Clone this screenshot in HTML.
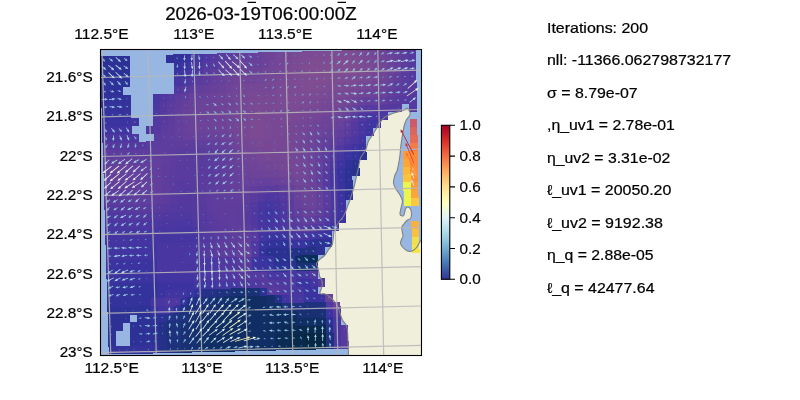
<!DOCTYPE html><html><head><meta charset="utf-8"><title>fig</title><style>html,body{margin:0;padding:0;background:#fff}body{width:800px;height:400px;overflow:hidden}</style></head><body><svg width="800" height="400" viewBox="0 0 800 400" style="display:block;font-family:'Liberation Sans',sans-serif"><rect width="800" height="400" fill="#fff"/><defs><clipPath id="ax"><rect x="100.5" y="49.5" width="321.0" height="306.0"/></clipPath><linearGradient id="cb" x1="0" y1="0" x2="0" y2="1"><stop offset="0.00" stop-color="#a50026"/><stop offset="0.05" stop-color="#bd1726"/><stop offset="0.10" stop-color="#d62f27"/><stop offset="0.15" stop-color="#e54e35"/><stop offset="0.20" stop-color="#f46d43"/><stop offset="0.25" stop-color="#f88c51"/><stop offset="0.30" stop-color="#fdad60"/><stop offset="0.35" stop-color="#fdc778"/><stop offset="0.40" stop-color="#fee090"/><stop offset="0.45" stop-color="#fff0a8"/><stop offset="0.50" stop-color="#fffebe"/><stop offset="0.55" stop-color="#f0f9db"/><stop offset="0.60" stop-color="#e0f3f8"/><stop offset="0.65" stop-color="#c5e6f0"/><stop offset="0.70" stop-color="#aad8e9"/><stop offset="0.75" stop-color="#90c3dd"/><stop offset="0.80" stop-color="#74add1"/><stop offset="0.85" stop-color="#5c90c2"/><stop offset="0.90" stop-color="#4574b3"/><stop offset="0.95" stop-color="#3a54a4"/><stop offset="1.00" stop-color="#313695"/></linearGradient><filter id="gs" filterUnits="userSpaceOnUse" x="0" y="0" width="800" height="400"><feOffset dx="0" dy="0"/></filter></defs><g clip-path="url(#ax)"><rect x="100.5" y="49.5" width="321.0" height="306.0" fill="#97b6e1"/><path d="M348.6,357.0C348.5,354.5 348.2,346.3 348.0,342.0C347.8,337.7 347.8,333.9 347.5,331.0C347.2,328.1 346.8,326.5 346.0,324.7C345.2,322.9 343.6,322.0 342.7,320.4C341.8,318.8 341.1,316.7 340.5,315.0C339.9,313.3 339.6,311.7 339.0,310.0C338.4,308.3 337.8,306.5 337.0,305.0C336.2,303.5 335.2,302.3 334.0,301.0C332.8,299.7 331.5,298.2 330.0,297.0C328.5,295.8 326.7,294.6 325.0,294.0C323.3,293.4 320.6,294.5 320.0,293.5C319.4,292.5 321.1,289.8 321.5,288.0C321.9,286.2 322.6,284.5 322.5,283.0C322.4,281.5 321.5,280.2 321.0,279.0C320.5,277.8 319.8,277.0 319.5,276.0C319.2,275.0 319.2,274.3 319.0,273.0C318.8,271.7 318.4,269.5 318.0,268.0C317.6,266.5 316.3,265.3 316.5,264.0C316.7,262.7 317.6,261.5 319.0,260.0C320.4,258.5 323.3,256.8 325.0,255.0C326.7,253.2 327.8,250.7 329.0,249.0C330.2,247.3 331.3,246.5 332.0,245.0C332.7,243.5 332.7,242.2 333.0,240.0C333.3,237.8 333.5,234.2 334.0,232.0C334.5,229.8 335.2,228.7 336.0,227.0C336.8,225.3 337.8,223.7 339.0,222.0C340.2,220.3 341.9,218.7 343.0,217.0C344.1,215.3 344.7,214.0 345.5,212.0C346.3,210.0 347.2,207.0 348.0,205.0C348.8,203.0 349.0,203.0 350.0,200.0C351.0,197.0 352.9,190.8 354.0,187.0C355.1,183.2 355.7,179.7 356.3,177.0C356.9,174.3 357.4,173.1 357.9,170.7C358.4,168.2 358.9,164.6 359.4,162.3C359.9,160.0 359.9,159.1 361.0,157.0C362.1,154.9 364.5,152.3 365.7,149.7C366.9,147.1 367.3,143.8 368.4,141.3C369.5,138.9 371.3,136.9 372.5,135.0C373.7,133.1 374.4,131.8 375.7,129.7C376.9,127.6 378.4,124.4 380.0,122.3C381.6,120.2 383.1,118.5 385.2,117.0C387.3,115.5 389.7,114.4 392.5,113.4C395.3,112.4 399.6,111.6 402.0,110.8C404.4,110.0 406.1,108.7 407.2,108.4C408.2,108.1 407.8,108.5 408.3,109.2C408.8,110.0 410.0,111.8 410.2,112.9C410.4,114.0 410.0,114.8 409.3,116.0C408.6,117.2 407.1,118.5 406.2,120.2C405.3,122.0 404.6,124.0 404.0,126.5C403.4,129.0 403.0,131.8 402.5,135.0C402.0,138.2 401.3,142.0 400.9,145.5C400.5,149.0 400.3,152.7 399.9,156.0C399.5,159.3 398.8,162.9 398.3,165.5C397.8,168.1 397.2,170.2 396.7,171.8C396.1,173.4 395.5,173.1 395.0,175.0C394.5,176.9 393.3,180.7 393.5,183.0C393.7,185.3 394.9,187.0 396.0,189.0C397.1,191.0 398.9,193.0 400.0,195.0C401.1,197.0 402.3,198.8 402.5,201.0C402.7,203.2 401.4,205.9 401.0,208.0C400.6,210.1 400.0,212.2 400.0,213.5C400.0,214.8 400.2,215.2 400.8,215.6C401.4,215.9 403.0,216.0 403.6,215.6C404.2,215.2 404.2,214.1 404.5,213.0C404.8,211.9 405.0,210.0 405.5,209.0C406.0,208.0 406.7,207.0 407.5,207.0C408.3,207.0 409.8,207.7 410.5,209.0C411.2,210.3 411.5,213.4 411.5,215.0C411.5,216.6 411.2,217.6 410.5,218.5C409.8,219.4 408.2,219.5 407.0,220.5C405.8,221.5 404.4,223.3 403.5,224.5C402.6,225.7 402.0,226.1 401.8,227.5C401.6,228.9 402.3,231.6 402.5,233.0C402.7,234.4 403.3,234.4 403.0,236.0C402.7,237.6 400.6,240.7 400.5,242.5C400.4,244.3 401.3,245.6 402.5,247.0C403.7,248.4 405.8,250.4 407.5,251.0C409.2,251.6 410.9,251.5 412.5,250.8C414.1,250.1 415.8,248.6 417.0,247.0C418.2,245.4 419.0,242.9 420.0,241.5C421.0,240.1 422.5,239.0 423.0,238.5L423,357L348.6,357Z" fill="#efefdb"/><g shape-rendering="crispEdges"><path d="M100.0,56.3L129.7,55.6L129.9,63.7L100.2,64.4Z" fill="#2d3196"/><path d="M166.1,54.7L173.7,54.5L173.9,62.7L166.3,62.9Z" fill="#2f3198"/><path d="M173.4,54.5L181.0,54.4L181.2,62.5L173.6,62.7Z" fill="#323299"/><path d="M180.7,54.4L188.4,54.2L188.6,62.3L180.9,62.5Z" fill="#36329c"/><path d="M188.1,54.2L195.7,54.0L195.9,62.2L188.3,62.3Z" fill="#3d33a0"/><path d="M195.4,54.0L203.1,53.8L203.3,62.0L195.6,62.2Z" fill="#4736a1"/><path d="M202.8,53.8L210.4,53.7L210.6,61.8L203.0,62.0Z" fill="#4e37a0"/><path d="M210.1,53.7L217.7,53.5L217.9,61.6L210.3,61.8Z" fill="#54399f"/><path d="M217.4,53.5L225.1,53.3L225.3,61.5L217.6,61.6Z" fill="#593b9e"/><path d="M224.8,53.3L232.4,53.1L232.6,61.3L225.0,61.5Z" fill="#5d3c9e"/><path d="M232.1,53.1L239.8,53.0L240.0,61.1L232.3,61.3Z" fill="#613e9d"/><path d="M239.5,53.0L247.1,52.8L247.3,60.9L239.7,61.1Z" fill="#643f9c"/><path d="M246.8,52.8L254.4,52.6L254.6,60.8L247.0,60.9Z" fill="#65409c"/><path d="M254.1,52.6L261.8,52.4L262.0,60.6L254.3,60.8Z" fill="#67419b"/><path d="M261.5,52.4L269.1,52.3L269.3,60.4L261.7,60.6Z" fill="#6b4399"/><path d="M268.8,52.3L276.5,52.1L276.6,60.2L269.0,60.4Z" fill="#6f4498"/><path d="M276.2,52.1L283.8,51.9L284.0,60.1L276.3,60.2Z" fill="#734696"/><path d="M283.5,51.9L291.1,51.8L291.3,59.9L283.7,60.1Z" fill="#774795"/><path d="M290.8,51.8L298.5,51.6L298.7,59.7L291.0,59.9Z" fill="#794994"/><path d="M298.2,51.6L305.8,51.4L306.0,59.5L298.4,59.7Z" fill="#7c4a93"/><path d="M305.5,51.4L327.8,50.9L328.0,59.0L305.7,59.5Z" fill="#7d4b93"/><path d="M327.5,50.9L349.9,50.3L350.0,58.5L327.7,59.0Z" fill="#7e4c93"/><path d="M349.6,50.3L357.2,50.2L357.4,58.3L349.7,58.5Z" fill="#7d4b93"/><path d="M356.9,50.2L364.5,50.0L364.7,58.1L357.1,58.3Z" fill="#7a4a94"/><path d="M364.2,50.0L371.9,49.8L372.0,58.0L364.4,58.1Z" fill="#774895"/><path d="M371.6,49.8L379.2,49.6L379.4,57.8L371.7,58.0Z" fill="#734696"/><path d="M378.9,49.6L386.6,49.5L386.7,57.6L379.1,57.8Z" fill="#6f4498"/><path d="M386.3,49.5L393.9,49.3L394.0,57.4L386.4,57.6Z" fill="#6b4299"/><path d="M393.6,49.3L401.2,49.1L401.4,57.3L393.7,57.4Z" fill="#65409b"/><path d="M400.9,49.1L408.6,48.9L408.7,57.1L401.1,57.3Z" fill="#5e3d9e"/><path d="M408.3,48.9L415.9,48.8L416.1,56.9L408.4,57.1Z" fill="#563a9f"/><path d="M100.2,64.1L129.9,63.4L130.1,71.6L100.5,72.3Z" fill="#2d3196"/><path d="M173.6,62.4L181.2,62.2L181.5,70.4L173.8,70.5Z" fill="#36329d"/><path d="M180.9,62.2L188.6,62.0L188.8,70.2L181.2,70.4Z" fill="#3b33a0"/><path d="M188.3,62.0L195.9,61.9L196.1,70.0L188.5,70.2Z" fill="#4235a1"/><path d="M195.6,61.9L203.3,61.7L203.5,69.8L195.8,70.0Z" fill="#4c37a0"/><path d="M203.0,61.7L210.6,61.5L210.8,69.7L203.2,69.8Z" fill="#53399f"/><path d="M210.3,61.5L217.9,61.3L218.1,69.5L210.5,69.7Z" fill="#593b9e"/><path d="M217.6,61.3L225.3,61.2L225.5,69.3L217.8,69.5Z" fill="#5e3d9e"/><path d="M225.0,61.2L232.6,61.0L232.8,69.1L225.2,69.3Z" fill="#623e9d"/><path d="M232.3,61.0L240.0,60.8L240.1,69.0L232.5,69.1Z" fill="#66409b"/><path d="M239.7,60.8L254.6,60.5L254.8,68.6L239.8,69.0Z" fill="#68419b"/><path d="M254.3,60.5L262.0,60.3L262.1,68.4L254.5,68.6Z" fill="#69429a"/><path d="M261.7,60.3L269.3,60.1L269.5,68.3L261.8,68.4Z" fill="#6d4399"/><path d="M269.0,60.1L276.6,59.9L276.8,68.1L269.2,68.3Z" fill="#714597"/><path d="M276.3,59.9L284.0,59.8L284.2,67.9L276.5,68.1Z" fill="#754696"/><path d="M283.7,59.8L291.3,59.6L291.5,67.7L283.9,67.9Z" fill="#784894"/><path d="M291.0,59.6L298.7,59.4L298.8,67.6L291.2,67.7Z" fill="#7b4a94"/><path d="M298.4,59.4L306.0,59.2L306.2,67.4L298.5,67.6Z" fill="#7d4b93"/><path d="M305.7,59.2L313.3,59.1L313.5,67.2L305.9,67.4Z" fill="#7e4c93"/><path d="M313.0,59.1L335.3,58.5L335.5,66.7L313.2,67.2Z" fill="#7f4c92"/><path d="M335.0,58.5L350.0,58.2L350.2,66.3L335.2,66.7Z" fill="#804d92"/><path d="M349.7,58.2L357.4,58.0L357.5,66.2L349.9,66.3Z" fill="#7f4d92"/><path d="M357.1,58.0L364.7,57.8L364.8,66.0L357.2,66.2Z" fill="#7d4b93"/><path d="M364.4,57.8L372.0,57.7L372.2,65.8L364.5,66.0Z" fill="#7a4994"/><path d="M371.7,57.7L379.4,57.5L379.5,65.6L371.9,65.8Z" fill="#754795"/><path d="M379.1,57.5L386.7,57.3L386.9,65.5L379.2,65.6Z" fill="#704597"/><path d="M386.4,57.3L394.0,57.1L394.2,65.3L386.6,65.5Z" fill="#6b4399"/><path d="M393.7,57.1L401.4,57.0L401.5,65.1L393.9,65.3Z" fill="#65409b"/><path d="M401.1,57.0L408.7,56.8L408.9,64.9L401.2,65.1Z" fill="#5e3d9e"/><path d="M408.4,56.8L416.1,56.6L416.2,64.8L408.6,64.9Z" fill="#563a9f"/><path d="M100.5,72.0L108.1,71.8L108.3,79.9L100.7,80.1Z" fill="#2e3196"/><path d="M107.8,71.8L130.1,71.3L130.3,79.4L108.0,79.9Z" fill="#2d3196"/><path d="M173.8,70.2L181.5,70.1L181.7,78.2L174.0,78.4Z" fill="#3e34a0"/><path d="M181.2,70.1L188.8,69.9L189.0,78.0L181.4,78.2Z" fill="#4235a1"/><path d="M188.5,69.9L196.1,69.7L196.3,77.8L188.7,78.0Z" fill="#4936a1"/><path d="M195.8,69.7L203.5,69.5L203.7,77.7L196.0,77.8Z" fill="#53389f"/><path d="M203.2,69.5L210.8,69.4L211.0,77.5L203.4,77.7Z" fill="#5a3b9e"/><path d="M210.5,69.4L218.1,69.2L218.3,77.3L210.7,77.5Z" fill="#5f3d9d"/><path d="M217.8,69.2L225.5,69.0L225.7,77.1L218.0,77.3Z" fill="#633f9c"/><path d="M225.2,69.0L232.8,68.8L233.0,77.0L225.4,77.1Z" fill="#67419b"/><path d="M232.5,68.8L240.1,68.7L240.3,76.8L232.7,77.0Z" fill="#6b429a"/><path d="M239.8,68.7L247.5,68.5L247.7,76.6L240.0,76.8Z" fill="#6c4399"/><path d="M247.2,68.5L254.8,68.3L255.0,76.4L247.4,76.6Z" fill="#6b4399"/><path d="M254.5,68.3L262.1,68.1L262.3,76.3L254.7,76.4Z" fill="#6c4399"/><path d="M261.8,68.1L269.5,68.0L269.7,76.1L262.0,76.3Z" fill="#704498"/><path d="M269.2,68.0L276.8,67.8L277.0,75.9L269.4,76.1Z" fill="#734696"/><path d="M276.5,67.8L284.2,67.6L284.3,75.7L276.7,75.9Z" fill="#764795"/><path d="M283.9,67.6L291.5,67.4L291.7,75.6L284.0,75.7Z" fill="#794994"/><path d="M291.2,67.4L298.8,67.3L299.0,75.4L291.4,75.6Z" fill="#7c4a93"/><path d="M298.5,67.3L306.2,67.1L306.3,75.2L298.7,75.4Z" fill="#7e4c93"/><path d="M305.9,67.1L357.5,65.9L357.7,74.0L306.0,75.2Z" fill="#804d92"/><path d="M357.2,65.9L364.8,65.7L365.0,73.8L357.4,74.0Z" fill="#7e4c93"/><path d="M364.5,65.7L372.2,65.5L372.3,73.6L364.7,73.8Z" fill="#7b4a94"/><path d="M371.9,65.5L379.5,65.3L379.7,73.5L372.0,73.6Z" fill="#764795"/><path d="M379.2,65.3L386.9,65.2L387.0,73.3L379.4,73.5Z" fill="#714597"/><path d="M386.6,65.2L394.2,65.0L394.3,73.1L386.7,73.3Z" fill="#6b4399"/><path d="M393.9,65.0L401.5,64.8L401.7,72.9L394.0,73.1Z" fill="#65409c"/><path d="M401.2,64.8L408.9,64.6L409.0,72.8L401.4,72.9Z" fill="#5d3c9e"/><path d="M408.6,64.6L416.2,64.5L416.3,72.6L408.7,72.8Z" fill="#56399f"/><path d="M100.7,79.8L115.7,79.5L115.9,87.6L100.9,88.0Z" fill="#2e3197"/><path d="M115.4,79.5L130.3,79.1L130.5,87.3L115.6,87.6Z" fill="#2e3196"/><path d="M174.0,78.1L181.7,77.9L181.9,86.0L174.2,86.2Z" fill="#4736a1"/><path d="M181.4,77.9L189.0,77.7L189.2,85.9L181.6,86.0Z" fill="#4c37a0"/><path d="M188.7,77.7L196.3,77.5L196.5,85.7L188.9,85.9Z" fill="#53389f"/><path d="M196.0,77.5L203.7,77.4L203.9,85.5L196.2,85.7Z" fill="#5a3b9e"/><path d="M203.4,77.4L211.0,77.2L211.2,85.3L203.6,85.5Z" fill="#603d9d"/><path d="M210.7,77.2L218.3,77.0L218.5,85.2L210.9,85.3Z" fill="#643f9c"/><path d="M218.0,77.0L225.7,76.8L225.9,85.0L218.2,85.2Z" fill="#67419b"/><path d="M225.4,76.8L233.0,76.7L233.2,84.8L225.6,85.0Z" fill="#6b4399"/><path d="M232.7,76.7L240.3,76.5L240.5,84.6L232.9,84.8Z" fill="#6f4498"/><path d="M240.0,76.5L255.0,76.1L255.2,84.3L240.2,84.6Z" fill="#704597"/><path d="M254.7,76.1L262.3,76.0L262.5,84.1L254.9,84.3Z" fill="#714597"/><path d="M262.0,76.0L269.7,75.8L269.8,83.9L262.2,84.1Z" fill="#734696"/><path d="M269.4,75.8L277.0,75.6L277.2,83.8L269.5,83.9Z" fill="#754795"/><path d="M276.7,75.6L284.3,75.4L284.5,83.6L276.9,83.8Z" fill="#784894"/><path d="M284.0,75.4L291.7,75.3L291.8,83.4L284.2,83.6Z" fill="#7b4a94"/><path d="M291.4,75.3L299.0,75.1L299.2,83.2L291.5,83.4Z" fill="#7d4b93"/><path d="M298.7,75.1L306.3,74.9L306.5,83.1L298.9,83.2Z" fill="#7e4c93"/><path d="M306.0,74.9L313.7,74.7L313.8,82.9L306.2,83.1Z" fill="#804d92"/><path d="M313.4,74.7L321.0,74.6L321.2,82.7L313.5,82.9Z" fill="#814d92"/><path d="M320.7,74.6L328.3,74.4L328.5,82.5L320.9,82.7Z" fill="#804d92"/><path d="M328.0,74.4L343.0,74.0L343.2,82.2L328.2,82.5Z" fill="#7f4c92"/><path d="M342.7,74.0L350.3,73.9L350.5,82.0L342.9,82.2Z" fill="#7e4c93"/><path d="M350.0,73.9L357.7,73.7L357.8,81.8L350.2,82.0Z" fill="#7d4b93"/><path d="M357.4,73.7L365.0,73.5L365.2,81.7L357.5,81.8Z" fill="#7c4a93"/><path d="M364.7,73.5L372.3,73.3L372.5,81.5L364.9,81.7Z" fill="#794994"/><path d="M372.0,73.3L379.7,73.2L379.8,81.3L372.2,81.5Z" fill="#754795"/><path d="M379.4,73.2L387.0,73.0L387.2,81.1L379.5,81.3Z" fill="#704597"/><path d="M386.7,73.0L394.3,72.8L394.5,81.0L386.9,81.1Z" fill="#6a429a"/><path d="M394.0,72.8L401.7,72.6L401.8,80.8L394.2,81.0Z" fill="#633f9c"/><path d="M401.4,72.6L409.0,72.5L409.1,80.6L401.5,80.8Z" fill="#5b3c9e"/><path d="M408.7,72.5L416.3,72.3L416.5,80.4L408.8,80.6Z" fill="#55399f"/><path d="M100.9,87.7L108.6,87.5L108.8,95.6L101.2,95.8Z" fill="#313199"/><path d="M108.3,87.5L115.9,87.3L116.1,95.5L108.5,95.6Z" fill="#303198"/><path d="M115.6,87.3L123.2,87.1L123.4,95.3L115.8,95.5Z" fill="#2f3198"/><path d="M174.2,85.9L181.9,85.7L182.1,93.9L174.4,94.0Z" fill="#53399f"/><path d="M181.6,85.7L189.2,85.6L189.4,93.7L181.8,93.9Z" fill="#583a9e"/><path d="M188.9,85.6L196.5,85.4L196.7,93.5L189.1,93.7Z" fill="#5d3c9e"/><path d="M196.2,85.4L203.9,85.2L204.1,93.3L196.4,93.5Z" fill="#623e9d"/><path d="M203.6,85.2L211.2,85.0L211.4,93.2L203.8,93.3Z" fill="#65409b"/><path d="M210.9,85.0L218.5,84.9L218.7,93.0L211.1,93.2Z" fill="#68419a"/><path d="M218.2,84.9L225.9,84.7L226.1,92.8L218.4,93.0Z" fill="#6b4299"/><path d="M225.6,84.7L233.2,84.5L233.4,92.6L225.8,92.8Z" fill="#6e4498"/><path d="M232.9,84.5L240.5,84.3L240.7,92.5L233.1,92.6Z" fill="#714597"/><path d="M240.2,84.3L247.9,84.2L248.0,92.3L240.4,92.5Z" fill="#744696"/><path d="M247.6,84.2L255.2,84.0L255.4,92.1L247.7,92.3Z" fill="#754795"/><path d="M254.9,84.0L269.8,83.6L270.0,91.8L255.1,92.1Z" fill="#764795"/><path d="M269.5,83.6L277.2,83.5L277.4,91.6L269.7,91.8Z" fill="#774895"/><path d="M276.9,83.5L284.5,83.3L284.7,91.4L277.1,91.6Z" fill="#794994"/><path d="M284.2,83.3L291.8,83.1L292.0,91.2L284.4,91.4Z" fill="#7c4a93"/><path d="M291.5,83.1L299.2,82.9L299.3,91.1L291.7,91.2Z" fill="#7d4b93"/><path d="M298.9,82.9L306.5,82.8L306.7,90.9L299.0,91.1Z" fill="#7e4c93"/><path d="M306.2,82.8L321.2,82.4L321.3,90.5L306.4,90.9Z" fill="#7f4c92"/><path d="M320.9,82.4L328.5,82.2L328.7,90.4L321.0,90.5Z" fill="#7e4c93"/><path d="M328.2,82.2L343.2,81.9L343.3,90.0L328.4,90.4Z" fill="#7d4b93"/><path d="M342.9,81.9L350.5,81.7L350.7,89.8L343.0,90.0Z" fill="#7c4a93"/><path d="M350.2,81.7L357.8,81.5L358.0,89.7L350.4,89.8Z" fill="#7a4994"/><path d="M357.5,81.5L365.2,81.4L365.3,89.5L357.7,89.7Z" fill="#774895"/><path d="M364.9,81.4L372.5,81.2L372.6,89.3L365.0,89.5Z" fill="#754795"/><path d="M372.2,81.2L379.8,81.0L380.0,89.1L372.3,89.3Z" fill="#724597"/><path d="M379.5,81.0L387.2,80.8L387.3,89.0L379.7,89.1Z" fill="#6d4399"/><path d="M386.9,80.8L394.5,80.7L394.6,88.8L387.0,89.0Z" fill="#67419b"/><path d="M394.2,80.7L401.8,80.5L402.0,88.6L394.3,88.8Z" fill="#603e9d"/><path d="M401.5,80.5L409.1,80.3L409.3,88.5L401.7,88.6Z" fill="#5a3b9e"/><path d="M408.8,80.3L416.5,80.1L416.6,88.3L409.0,88.5Z" fill="#55399f"/><path d="M101.2,95.5L108.8,95.3L109.0,103.5L101.4,103.6Z" fill="#33329b"/><path d="M108.5,95.3L130.8,94.8L131.0,102.9L108.7,103.5Z" fill="#32329a"/><path d="M152.5,94.3L160.1,94.1L160.3,102.2L152.7,102.4Z" fill="#4836a1"/><path d="M159.8,94.1L167.4,93.9L167.6,102.1L160.0,102.2Z" fill="#5138a0"/><path d="M167.1,93.9L174.7,93.8L175.0,101.9L167.3,102.1Z" fill="#573a9f"/><path d="M174.4,93.8L182.1,93.6L182.3,101.7L174.7,101.9Z" fill="#5d3c9e"/><path d="M181.8,93.6L189.4,93.4L189.6,101.5L182.0,101.7Z" fill="#613e9d"/><path d="M189.1,93.4L196.7,93.2L196.9,101.4L189.3,101.5Z" fill="#65409c"/><path d="M196.4,93.2L204.1,93.0L204.3,101.2L196.6,101.4Z" fill="#68419b"/><path d="M203.8,93.0L211.4,92.9L211.6,101.0L204.0,101.2Z" fill="#6a429a"/><path d="M211.1,92.9L218.7,92.7L218.9,100.8L211.3,101.0Z" fill="#6c4399"/><path d="M218.4,92.7L226.1,92.5L226.2,100.7L218.6,100.8Z" fill="#6e4498"/><path d="M225.8,92.5L233.4,92.3L233.6,100.5L225.9,100.7Z" fill="#704498"/><path d="M233.1,92.3L240.7,92.2L240.9,100.3L233.3,100.5Z" fill="#734696"/><path d="M240.4,92.2L248.0,92.0L248.2,100.1L240.6,100.3Z" fill="#764795"/><path d="M247.7,92.0L255.4,91.8L255.6,100.0L247.9,100.1Z" fill="#784894"/><path d="M255.1,91.8L262.7,91.7L262.9,99.8L255.3,100.0Z" fill="#794994"/><path d="M262.4,91.7L277.4,91.3L277.5,99.4L262.6,99.8Z" fill="#784894"/><path d="M277.1,91.3L284.7,91.1L284.9,99.3L277.2,99.4Z" fill="#7b4a94"/><path d="M284.4,91.1L292.0,91.0L292.2,99.1L284.6,99.3Z" fill="#7c4b93"/><path d="M291.7,91.0L314.0,90.4L314.2,98.6L291.9,99.1Z" fill="#7d4b93"/><path d="M313.7,90.4L321.3,90.2L321.5,98.4L313.9,98.6Z" fill="#7c4b93"/><path d="M321.0,90.2L328.7,90.1L328.8,98.2L321.2,98.4Z" fill="#7b4a94"/><path d="M328.4,90.1L336.0,89.9L336.2,98.0L328.5,98.2Z" fill="#7a4994"/><path d="M335.7,89.9L343.3,89.7L343.5,97.9L335.9,98.0Z" fill="#7a4a94"/><path d="M343.0,89.7L350.7,89.5L350.8,97.7L343.2,97.9Z" fill="#794994"/><path d="M350.4,89.5L358.0,89.4L358.1,97.5L350.5,97.7Z" fill="#754795"/><path d="M357.7,89.4L365.3,89.2L365.5,97.3L357.8,97.5Z" fill="#724597"/><path d="M365.0,89.2L372.6,89.0L372.8,97.2L365.2,97.3Z" fill="#6f4498"/><path d="M372.3,89.0L380.0,88.8L380.1,97.0L372.5,97.2Z" fill="#6d4399"/><path d="M379.7,88.8L387.3,88.7L387.4,96.8L379.8,97.0Z" fill="#69429a"/><path d="M387.0,88.7L394.6,88.5L394.8,96.6L387.1,96.8Z" fill="#633f9c"/><path d="M394.3,88.5L402.0,88.3L402.1,96.5L394.5,96.6Z" fill="#5d3c9e"/><path d="M401.7,88.3L409.3,88.2L409.4,96.3L401.8,96.5Z" fill="#593b9e"/><path d="M409.0,88.2L416.6,88.0L416.8,96.1L409.1,96.3Z" fill="#55399f"/><path d="M101.4,103.3L116.3,103.0L116.6,111.1L101.6,111.5Z" fill="#34329b"/><path d="M116.0,103.0L123.7,102.8L123.9,111.0L116.3,111.1Z" fill="#35329c"/><path d="M123.4,102.8L131.0,102.6L131.2,110.8L123.6,111.0Z" fill="#36329c"/><path d="M152.7,102.1L160.3,101.9L160.5,110.1L152.9,110.3Z" fill="#4c37a0"/><path d="M160.0,101.9L167.6,101.8L167.8,109.9L160.2,110.1Z" fill="#55399f"/><path d="M167.3,101.8L175.0,101.6L175.2,109.7L167.5,109.9Z" fill="#5b3b9e"/><path d="M174.7,101.6L182.3,101.4L182.5,109.6L174.9,109.7Z" fill="#613e9d"/><path d="M182.0,101.4L189.6,101.2L189.8,109.4L182.2,109.6Z" fill="#65409b"/><path d="M189.3,101.2L196.9,101.1L197.1,109.2L189.5,109.4Z" fill="#69419a"/><path d="M196.6,101.1L204.3,100.9L204.5,109.0L196.8,109.2Z" fill="#6b4399"/><path d="M204.0,100.9L211.6,100.7L211.8,108.9L204.2,109.0Z" fill="#6d4399"/><path d="M211.3,100.7L218.9,100.5L219.1,108.7L211.5,108.9Z" fill="#6e4498"/><path d="M218.6,100.5L226.2,100.4L226.4,108.5L218.8,108.7Z" fill="#6f4498"/><path d="M225.9,100.4L233.6,100.2L233.8,108.3L226.1,108.5Z" fill="#704597"/><path d="M233.3,100.2L240.9,100.0L241.1,108.2L233.5,108.3Z" fill="#734696"/><path d="M240.6,100.0L248.2,99.8L248.4,108.0L240.8,108.2Z" fill="#764795"/><path d="M247.9,99.8L255.6,99.7L255.7,107.8L248.1,108.0Z" fill="#794994"/><path d="M255.3,99.7L262.9,99.5L263.1,107.6L255.4,107.8Z" fill="#7a4994"/><path d="M262.6,99.5L277.5,99.1L277.7,107.3L262.8,107.6Z" fill="#794994"/><path d="M277.2,99.1L284.9,99.0L285.0,107.1L277.4,107.3Z" fill="#7b4a94"/><path d="M284.6,99.0L299.5,98.6L299.7,106.8L284.7,107.1Z" fill="#7c4b93"/><path d="M299.2,98.6L306.8,98.4L307.0,106.6L299.4,106.8Z" fill="#7c4a93"/><path d="M306.5,98.4L314.2,98.3L314.3,106.4L306.7,106.6Z" fill="#7b4a94"/><path d="M313.9,98.3L321.5,98.1L321.7,106.2L314.0,106.4Z" fill="#794994"/><path d="M321.2,98.1L328.8,97.9L329.0,106.1L321.4,106.2Z" fill="#774795"/><path d="M328.5,97.9L336.2,97.7L336.3,105.9L328.7,106.1Z" fill="#764795"/><path d="M335.9,97.7L343.5,97.6L343.6,105.7L336.0,105.9Z" fill="#774795"/><path d="M343.2,97.6L350.8,97.4L351.0,105.5L343.3,105.7Z" fill="#744696"/><path d="M350.5,97.4L358.1,97.2L358.3,105.4L350.7,105.5Z" fill="#6d4498"/><path d="M357.8,97.2L365.5,97.0L365.6,105.2L358.0,105.4Z" fill="#68419a"/><path d="M365.2,97.0L372.8,96.9L372.9,105.0L365.3,105.2Z" fill="#65409b"/><path d="M372.5,96.9L380.1,96.7L380.3,104.8L372.6,105.0Z" fill="#64409c"/><path d="M379.8,96.7L387.4,96.5L387.6,104.7L380.0,104.8Z" fill="#623e9d"/><path d="M387.1,96.5L394.8,96.3L394.9,104.5L387.3,104.7Z" fill="#5d3c9e"/><path d="M394.5,96.3L402.1,96.2L402.2,104.3L394.6,104.5Z" fill="#593b9e"/><path d="M401.8,96.2L409.4,96.0L409.6,104.1L401.9,104.3Z" fill="#573a9f"/><path d="M409.1,96.0L416.8,95.8L416.9,104.0L409.3,104.1Z" fill="#56399f"/><path d="M101.6,111.2L109.2,111.0L109.5,119.1L101.8,119.3Z" fill="#36329d"/><path d="M108.9,111.0L123.9,110.7L124.1,118.8L109.2,119.1Z" fill="#37329d"/><path d="M123.6,110.7L131.2,110.5L131.4,118.6L123.8,118.8Z" fill="#39339e"/><path d="M152.9,110.0L160.5,109.8L160.7,117.9L153.1,118.1Z" fill="#4f38a0"/><path d="M160.2,109.8L167.8,109.6L168.0,117.7L160.4,117.9Z" fill="#573a9f"/><path d="M167.5,109.6L175.2,109.4L175.4,117.6L167.7,117.7Z" fill="#5c3c9e"/><path d="M174.9,109.4L182.5,109.3L182.7,117.4L175.1,117.6Z" fill="#623f9d"/><path d="M182.2,109.3L189.8,109.1L190.0,117.2L182.4,117.4Z" fill="#67419b"/><path d="M189.5,109.1L197.1,108.9L197.3,117.0L189.7,117.2Z" fill="#6a429a"/><path d="M196.8,108.9L204.5,108.7L204.7,116.9L197.0,117.0Z" fill="#6c4399"/><path d="M204.2,108.7L211.8,108.6L212.0,116.7L204.4,116.9Z" fill="#6d4498"/><path d="M211.5,108.6L219.1,108.4L219.3,116.5L211.7,116.7Z" fill="#6e4498"/><path d="M218.8,108.4L226.4,108.2L226.6,116.3L219.0,116.5Z" fill="#6f4498"/><path d="M226.1,108.2L233.8,108.0L234.0,116.2L226.3,116.3Z" fill="#714597"/><path d="M233.5,108.0L241.1,107.9L241.3,116.0L233.7,116.2Z" fill="#734696"/><path d="M240.8,107.9L248.4,107.7L248.6,115.8L241.0,116.0Z" fill="#774895"/><path d="M248.1,107.7L255.7,107.5L255.9,115.6L248.3,115.8Z" fill="#7a4994"/><path d="M255.4,107.5L263.1,107.3L263.3,115.5L255.6,115.6Z" fill="#7b4a94"/><path d="M262.8,107.3L277.7,107.0L277.9,115.1L263.0,115.5Z" fill="#794994"/><path d="M277.4,107.0L285.0,106.8L285.2,114.9L277.6,115.1Z" fill="#7a4994"/><path d="M284.7,106.8L292.4,106.6L292.5,114.8L284.9,114.9Z" fill="#7b4a94"/><path d="M292.1,106.6L299.7,106.5L299.9,114.6L292.2,114.8Z" fill="#7a4a94"/><path d="M299.4,106.5L307.0,106.3L307.2,114.4L299.6,114.6Z" fill="#794994"/><path d="M306.7,106.3L314.3,106.1L314.5,114.2L306.9,114.4Z" fill="#784894"/><path d="M314.0,106.1L321.7,105.9L321.8,114.1L314.2,114.2Z" fill="#754795"/><path d="M321.4,105.9L329.0,105.8L329.2,113.9L321.5,114.1Z" fill="#734696"/><path d="M328.7,105.8L336.3,105.6L336.5,113.7L328.9,113.9Z" fill="#724597"/><path d="M336.0,105.6L343.6,105.4L343.8,113.5L336.2,113.7Z" fill="#724696"/><path d="M343.3,105.4L351.0,105.2L351.1,113.4L343.5,113.5Z" fill="#6e4498"/><path d="M350.7,105.2L358.3,105.1L358.5,113.2L350.8,113.4Z" fill="#643f9c"/><path d="M358.0,105.1L365.6,104.9L365.8,113.0L358.2,113.2Z" fill="#5b3c9e"/><path d="M365.3,104.9L387.6,104.4L387.7,112.5L365.5,113.0Z" fill="#573a9f"/><path d="M387.3,104.4L394.9,104.2L395.1,112.3L387.4,112.5Z" fill="#55399f"/><path d="M394.6,104.2L402.2,104.0L402.4,112.1L394.8,112.3Z" fill="#54399f"/><path d="M409.3,103.8L416.9,103.7L417.0,111.8L409.4,112.0Z" fill="#54399f"/><path d="M101.8,119.0L124.1,118.5L124.3,126.6L102.1,127.2Z" fill="#3b33a0"/><path d="M123.8,118.5L131.4,118.3L131.7,126.5L124.0,126.6Z" fill="#3d33a0"/><path d="M131.1,118.3L138.8,118.1L139.0,126.3L131.4,126.5Z" fill="#3f34a0"/><path d="M153.1,117.8L160.7,117.6L160.9,125.8L153.3,125.9Z" fill="#52389f"/><path d="M160.4,117.6L168.0,117.4L168.3,125.6L160.6,125.8Z" fill="#583a9e"/><path d="M167.7,117.4L175.4,117.3L175.6,125.4L168.0,125.6Z" fill="#5d3c9e"/><path d="M175.1,117.3L182.7,117.1L182.9,125.2L175.3,125.4Z" fill="#633f9c"/><path d="M182.4,117.1L190.0,116.9L190.2,125.1L182.6,125.2Z" fill="#67419b"/><path d="M189.7,116.9L197.3,116.7L197.5,124.9L189.9,125.1Z" fill="#6a429a"/><path d="M197.0,116.7L204.7,116.6L204.9,124.7L197.2,124.9Z" fill="#6c4399"/><path d="M204.4,116.6L212.0,116.4L212.2,124.5L204.6,124.7Z" fill="#6d4399"/><path d="M211.7,116.4L219.3,116.2L219.5,124.4L211.9,124.5Z" fill="#6e4498"/><path d="M219.0,116.2L226.6,116.0L226.8,124.2L219.2,124.4Z" fill="#6f4498"/><path d="M226.3,116.0L234.0,115.9L234.1,124.0L226.5,124.2Z" fill="#714597"/><path d="M233.7,115.9L241.3,115.7L241.5,123.8L233.8,124.0Z" fill="#744696"/><path d="M241.0,115.7L248.6,115.5L248.8,123.7L241.2,123.8Z" fill="#774895"/><path d="M248.3,115.5L255.9,115.3L256.1,123.5L248.5,123.7Z" fill="#7b4a94"/><path d="M255.6,115.3L263.3,115.2L263.4,123.3L255.8,123.5Z" fill="#7b4a93"/><path d="M263.0,115.2L270.6,115.0L270.8,123.1L263.1,123.3Z" fill="#794994"/><path d="M270.3,115.0L277.9,114.8L278.1,123.0L270.5,123.1Z" fill="#784894"/><path d="M277.6,114.8L292.5,114.5L292.7,122.6L277.8,123.0Z" fill="#794994"/><path d="M292.2,114.5L299.9,114.3L300.0,122.4L292.4,122.6Z" fill="#784894"/><path d="M299.6,114.3L307.2,114.1L307.4,122.3L299.7,122.4Z" fill="#774795"/><path d="M306.9,114.1L314.5,113.9L314.7,122.1L307.1,122.3Z" fill="#754696"/><path d="M314.2,113.9L321.8,113.8L322.0,121.9L314.4,122.1Z" fill="#724597"/><path d="M321.5,113.8L329.2,113.6L329.3,121.7L321.7,121.9Z" fill="#6f4498"/><path d="M328.9,113.6L336.5,113.4L336.6,121.6L329.0,121.7Z" fill="#6e4498"/><path d="M336.2,113.4L343.8,113.2L344.0,121.4L336.3,121.6Z" fill="#6d4498"/><path d="M343.5,113.2L351.1,113.1L351.3,121.2L343.7,121.4Z" fill="#67419b"/><path d="M350.8,113.1L358.5,112.9L358.6,121.0L351.0,121.2Z" fill="#5b3b9e"/><path d="M358.2,112.9L365.8,112.7L365.9,120.9L358.3,121.0Z" fill="#4f38a0"/><path d="M365.5,112.7L380.4,112.4L380.6,120.5L365.6,120.9Z" fill="#4936a1"/><path d="M380.1,112.4L387.7,112.2L387.9,120.3L380.3,120.5Z" fill="#4a37a1"/><path d="M102.1,126.9L124.3,126.3L124.6,134.5L102.3,135.0Z" fill="#4235a1"/><path d="M124.0,126.3L131.7,126.2L131.9,134.3L124.3,134.5Z" fill="#4335a1"/><path d="M146.0,125.8L153.6,125.6L153.8,133.8L146.2,133.9Z" fill="#4e37a0"/><path d="M153.3,125.6L160.9,125.5L161.2,133.6L153.5,133.8Z" fill="#56399f"/><path d="M160.6,125.5L168.3,125.3L168.5,133.4L160.9,133.6Z" fill="#5b3c9e"/><path d="M168.0,125.3L175.6,125.1L175.8,133.2L168.2,133.4Z" fill="#5f3d9d"/><path d="M175.3,125.1L182.9,124.9L183.1,133.1L175.5,133.2Z" fill="#643f9c"/><path d="M182.6,124.9L190.2,124.8L190.4,132.9L182.8,133.1Z" fill="#67419b"/><path d="M189.9,124.8L197.5,124.6L197.7,132.7L190.1,132.9Z" fill="#6a429a"/><path d="M197.2,124.6L204.9,124.4L205.1,132.6L197.4,132.7Z" fill="#6c4399"/><path d="M204.6,124.4L212.2,124.2L212.4,132.4L204.8,132.6Z" fill="#6d4399"/><path d="M211.9,124.2L219.5,124.1L219.7,132.2L212.1,132.4Z" fill="#6e4498"/><path d="M219.2,124.1L226.8,123.9L227.0,132.0L219.4,132.2Z" fill="#6f4498"/><path d="M226.5,123.9L234.1,123.7L234.3,131.8L226.7,132.0Z" fill="#714597"/><path d="M233.8,123.7L241.5,123.5L241.7,131.7L234.0,131.8Z" fill="#744696"/><path d="M241.2,123.5L248.8,123.4L249.0,131.5L241.4,131.7Z" fill="#784894"/><path d="M248.5,123.4L263.4,123.0L263.6,131.2L248.7,131.5Z" fill="#7c4a93"/><path d="M263.1,123.0L270.8,122.8L270.9,131.0L263.3,131.2Z" fill="#794994"/><path d="M270.5,122.8L278.1,122.7L278.3,130.8L270.6,131.0Z" fill="#784894"/><path d="M277.8,122.7L285.4,122.5L285.6,130.6L278.0,130.8Z" fill="#784895"/><path d="M285.1,122.5L292.7,122.3L292.9,130.4L285.3,130.6Z" fill="#774895"/><path d="M292.4,122.3L300.0,122.1L300.2,130.3L292.6,130.4Z" fill="#764795"/><path d="M299.7,122.1L307.4,122.0L307.5,130.1L299.9,130.3Z" fill="#744696"/><path d="M307.1,122.0L314.7,121.8L314.9,129.9L307.2,130.1Z" fill="#724597"/><path d="M314.4,121.8L322.0,121.6L322.2,129.8L314.6,129.9Z" fill="#6f4498"/><path d="M321.7,121.6L329.3,121.4L329.5,129.6L321.9,129.8Z" fill="#6c4399"/><path d="M329.0,121.4L336.6,121.3L336.8,129.4L329.2,129.6Z" fill="#6a429a"/><path d="M336.3,121.3L344.0,121.1L344.1,129.2L336.5,129.4Z" fill="#67419b"/><path d="M343.7,121.1L351.3,120.9L351.4,129.1L343.8,129.2Z" fill="#613e9d"/><path d="M351.0,120.9L358.6,120.7L358.8,128.9L351.1,129.1Z" fill="#55399f"/><path d="M358.3,120.7L365.9,120.6L366.1,128.7L358.5,128.9Z" fill="#4936a1"/><path d="M365.6,120.6L373.3,120.4L373.4,128.5L365.8,128.7Z" fill="#4235a1"/><path d="M373.0,120.4L380.6,120.2L380.7,128.3L373.1,128.5Z" fill="#4034a0"/><path d="M409.6,119.5L417.2,119.3L417.3,127.5L409.7,127.6Z" fill="#cd5a66"/><path d="M102.3,134.7L131.9,134.0L132.1,142.1L102.5,142.8Z" fill="#4c37a0"/><path d="M131.6,134.0L139.2,133.8L139.4,142.0L131.8,142.1Z" fill="#4e37a0"/><path d="M153.5,133.5L161.2,133.3L161.4,141.4L153.7,141.6Z" fill="#5a3b9e"/><path d="M160.9,133.3L168.5,133.1L168.7,141.3L161.1,141.4Z" fill="#5e3d9e"/><path d="M168.2,133.1L175.8,132.9L176.0,141.1L168.4,141.3Z" fill="#603e9d"/><path d="M175.5,132.9L183.1,132.8L183.3,140.9L175.7,141.1Z" fill="#633f9c"/><path d="M182.8,132.8L190.4,132.6L190.6,140.7L183.0,140.9Z" fill="#65409c"/><path d="M190.1,132.6L197.7,132.4L197.9,140.6L190.3,140.7Z" fill="#67419b"/><path d="M197.4,132.4L205.1,132.2L205.3,140.4L197.6,140.6Z" fill="#68419a"/><path d="M204.8,132.2L212.4,132.1L212.6,140.2L205.0,140.4Z" fill="#69429a"/><path d="M212.1,132.1L219.7,131.9L219.9,140.0L212.3,140.2Z" fill="#6b429a"/><path d="M219.4,131.9L227.0,131.7L227.2,139.9L219.6,140.0Z" fill="#6c4399"/><path d="M226.7,131.7L234.3,131.5L234.5,139.7L226.9,139.9Z" fill="#6f4498"/><path d="M234.0,131.5L241.7,131.4L241.9,139.5L234.2,139.7Z" fill="#734696"/><path d="M241.4,131.4L249.0,131.2L249.2,139.3L241.6,139.5Z" fill="#784895"/><path d="M248.7,131.2L263.6,130.8L263.8,139.0L248.9,139.3Z" fill="#7b4a93"/><path d="M263.3,130.8L270.9,130.7L271.1,138.8L263.5,139.0Z" fill="#794994"/><path d="M270.6,130.7L278.3,130.5L278.4,138.6L270.8,138.8Z" fill="#784894"/><path d="M278.0,130.5L285.6,130.3L285.8,138.5L278.1,138.6Z" fill="#774895"/><path d="M285.3,130.3L292.9,130.1L293.1,138.3L285.5,138.5Z" fill="#774795"/><path d="M292.6,130.1L300.2,130.0L300.4,138.1L292.8,138.3Z" fill="#754795"/><path d="M299.9,130.0L307.5,129.8L307.7,137.9L300.1,138.1Z" fill="#734696"/><path d="M307.2,129.8L314.9,129.6L315.0,137.8L307.4,137.9Z" fill="#704597"/><path d="M314.6,129.6L322.2,129.4L322.3,137.6L314.7,137.8Z" fill="#6d4498"/><path d="M321.9,129.4L329.5,129.3L329.7,137.4L322.0,137.6Z" fill="#6a429a"/><path d="M329.2,129.3L336.8,129.1L337.0,137.2L329.4,137.4Z" fill="#66409b"/><path d="M336.5,129.1L344.1,128.9L344.3,137.1L336.7,137.2Z" fill="#623e9d"/><path d="M343.8,128.9L351.4,128.8L351.6,136.9L344.0,137.1Z" fill="#5b3c9e"/><path d="M351.1,128.8L358.8,128.6L358.9,136.7L351.3,136.9Z" fill="#5238a0"/><path d="M358.5,128.6L366.1,128.4L366.2,136.5L358.6,136.7Z" fill="#4736a1"/><path d="M365.8,128.4L373.4,128.2L373.6,136.4L365.9,136.5Z" fill="#3f34a0"/><path d="M409.7,127.3L417.3,127.2L417.5,135.3L409.8,135.5Z" fill="#d9655f"/><path d="M102.5,142.5L132.1,141.8L132.3,150.0L102.8,150.7Z" fill="#55399f"/><path d="M131.8,141.8L139.4,141.7L139.6,149.8L132.0,150.0Z" fill="#56399f"/><path d="M139.1,141.7L146.7,141.5L146.9,149.6L139.3,149.8Z" fill="#583a9f"/><path d="M146.4,141.5L154.0,141.3L154.3,149.5L146.6,149.6Z" fill="#5a3b9e"/><path d="M153.7,141.3L161.4,141.1L161.6,149.3L154.0,149.5Z" fill="#5c3c9e"/><path d="M161.1,141.1L176.0,140.8L176.2,148.9L161.3,149.3Z" fill="#5d3d9e"/><path d="M175.7,140.8L183.3,140.6L183.5,148.8L175.9,148.9Z" fill="#5e3d9e"/><path d="M183.0,140.6L190.6,140.4L190.8,148.6L183.2,148.8Z" fill="#5e3d9d"/><path d="M190.3,140.4L197.9,140.3L198.2,148.4L190.5,148.6Z" fill="#5f3d9d"/><path d="M197.6,140.3L205.3,140.1L205.5,148.2L197.9,148.4Z" fill="#603e9d"/><path d="M205.0,140.1L212.6,139.9L212.8,148.1L205.2,148.2Z" fill="#623e9d"/><path d="M212.3,139.9L219.9,139.7L220.1,147.9L212.5,148.1Z" fill="#643f9c"/><path d="M219.6,139.7L227.2,139.6L227.4,147.7L219.8,147.9Z" fill="#66409b"/><path d="M226.9,139.6L234.5,139.4L234.7,147.5L227.1,147.7Z" fill="#6a429a"/><path d="M234.2,139.4L241.9,139.2L242.0,147.4L234.4,147.5Z" fill="#6f4498"/><path d="M241.6,139.2L249.2,139.0L249.4,147.2L241.7,147.4Z" fill="#744696"/><path d="M248.9,139.0L256.5,138.9L256.7,147.0L249.1,147.2Z" fill="#774895"/><path d="M256.2,138.9L263.8,138.7L264.0,146.8L256.4,147.0Z" fill="#794994"/><path d="M263.5,138.7L271.1,138.5L271.3,146.7L263.7,146.8Z" fill="#784894"/><path d="M270.8,138.5L278.4,138.3L278.6,146.5L271.0,146.7Z" fill="#774895"/><path d="M278.1,138.3L285.8,138.2L285.9,146.3L278.3,146.5Z" fill="#774795"/><path d="M285.5,138.2L293.1,138.0L293.2,146.1L285.6,146.3Z" fill="#754795"/><path d="M292.8,138.0L300.4,137.8L300.6,146.0L292.9,146.1Z" fill="#744696"/><path d="M300.1,137.8L307.7,137.6L307.9,145.8L300.3,146.0Z" fill="#714597"/><path d="M307.4,137.6L315.0,137.5L315.2,145.6L307.6,145.8Z" fill="#6e4498"/><path d="M314.7,137.5L322.3,137.3L322.5,145.4L314.9,145.6Z" fill="#6a429a"/><path d="M322.0,137.3L329.7,137.1L329.8,145.3L322.2,145.4Z" fill="#65409b"/><path d="M329.4,137.1L337.0,136.9L337.1,145.1L329.5,145.3Z" fill="#603e9d"/><path d="M336.7,136.9L344.3,136.8L344.4,144.9L336.8,145.1Z" fill="#5a3b9e"/><path d="M344.0,136.8L351.6,136.6L351.8,144.7L344.1,144.9Z" fill="#53399f"/><path d="M351.3,136.6L358.9,136.4L359.1,144.6L351.5,144.7Z" fill="#4b37a1"/><path d="M358.6,136.4L366.2,136.2L366.4,144.4L358.8,144.6Z" fill="#4235a1"/><path d="M409.8,135.2L417.5,135.0L417.6,143.2L410.0,143.3Z" fill="#e56c57"/><path d="M102.8,150.4L132.3,149.7L132.5,157.8L103.0,158.5Z" fill="#5d3c9e"/><path d="M132.0,149.7L139.6,149.5L139.9,157.6L132.2,157.8Z" fill="#5e3d9e"/><path d="M139.3,149.5L146.9,149.3L147.2,157.5L139.6,157.6Z" fill="#5e3d9d"/><path d="M146.6,149.3L161.6,149.0L161.8,157.1L146.9,157.5Z" fill="#5f3d9d"/><path d="M161.3,149.0L168.9,148.8L169.1,156.9L161.5,157.1Z" fill="#5e3d9d"/><path d="M168.6,148.8L176.2,148.6L176.4,156.8L168.8,156.9Z" fill="#5c3c9e"/><path d="M175.9,148.6L205.5,147.9L205.7,156.1L176.1,156.8Z" fill="#5a3b9e"/><path d="M205.2,147.9L212.8,147.8L213.0,155.9L205.4,156.1Z" fill="#5c3c9e"/><path d="M212.5,147.8L220.1,147.6L220.3,155.7L212.7,155.9Z" fill="#5f3d9d"/><path d="M219.8,147.6L227.4,147.4L227.6,155.5L220.0,155.7Z" fill="#623f9d"/><path d="M227.1,147.4L234.7,147.2L234.9,155.4L227.3,155.5Z" fill="#67419b"/><path d="M234.4,147.2L242.0,147.1L242.2,155.2L234.6,155.4Z" fill="#6c4399"/><path d="M241.7,147.1L249.4,146.9L249.5,155.0L241.9,155.2Z" fill="#714597"/><path d="M249.1,146.9L256.7,146.7L256.9,154.8L249.2,155.0Z" fill="#744696"/><path d="M256.4,146.7L264.0,146.5L264.2,154.7L256.6,154.8Z" fill="#764795"/><path d="M263.7,146.5L271.3,146.4L271.5,154.5L263.9,154.7Z" fill="#774795"/><path d="M271.0,146.4L278.6,146.2L278.8,154.3L271.2,154.5Z" fill="#774895"/><path d="M278.3,146.2L285.9,146.0L286.1,154.1L278.5,154.3Z" fill="#764795"/><path d="M285.6,146.0L293.2,145.8L293.4,154.0L285.8,154.1Z" fill="#754795"/><path d="M292.9,145.8L300.6,145.7L300.7,153.8L293.1,154.0Z" fill="#734696"/><path d="M300.3,145.7L307.9,145.5L308.0,153.6L300.4,153.8Z" fill="#704597"/><path d="M307.6,145.5L315.2,145.3L315.4,153.4L307.7,153.6Z" fill="#6d4399"/><path d="M314.9,145.3L322.5,145.1L322.7,153.3L315.1,153.4Z" fill="#67419b"/><path d="M322.2,145.1L329.8,145.0L330.0,153.1L322.4,153.3Z" fill="#613e9d"/><path d="M329.5,145.0L337.1,144.8L337.3,152.9L329.7,153.1Z" fill="#593b9e"/><path d="M336.8,144.8L344.4,144.6L344.6,152.7L337.0,152.9Z" fill="#5038a0"/><path d="M344.1,144.6L351.8,144.4L351.9,152.6L344.3,152.7Z" fill="#4736a1"/><path d="M351.5,144.4L359.1,144.3L359.2,152.4L351.6,152.6Z" fill="#3f34a0"/><path d="M358.8,144.3L366.4,144.1L366.5,152.2L358.9,152.4Z" fill="#39339e"/><path d="M410.0,143.0L417.6,142.9L417.7,151.0L410.1,151.2Z" fill="#f27d4b"/><path d="M103.0,158.2L139.9,157.3L140.1,165.5L103.2,166.4Z" fill="#633f9c"/><path d="M139.6,157.3L147.2,157.2L147.4,165.3L139.8,165.5Z" fill="#623f9d"/><path d="M146.9,157.2L161.8,156.8L162.0,165.0L147.1,165.3Z" fill="#623e9d"/><path d="M161.5,156.8L169.1,156.6L169.3,164.8L161.7,165.0Z" fill="#603e9d"/><path d="M168.8,156.6L176.4,156.5L176.6,164.6L169.0,164.8Z" fill="#5d3c9e"/><path d="M176.1,156.5L183.7,156.3L183.9,164.4L176.3,164.6Z" fill="#5a3b9e"/><path d="M183.4,156.3L205.7,155.8L205.9,163.9L183.6,164.4Z" fill="#593b9e"/><path d="M205.4,155.8L213.0,155.6L213.2,163.7L205.6,163.9Z" fill="#5a3b9e"/><path d="M212.7,155.6L220.3,155.4L220.5,163.6L212.9,163.7Z" fill="#5d3c9e"/><path d="M220.0,155.4L227.6,155.2L227.8,163.4L220.2,163.6Z" fill="#613e9d"/><path d="M227.3,155.2L234.9,155.1L235.1,163.2L227.5,163.4Z" fill="#65409b"/><path d="M234.6,155.1L242.2,154.9L242.4,163.0L234.8,163.2Z" fill="#6a429a"/><path d="M241.9,154.9L249.5,154.7L249.7,162.9L242.1,163.0Z" fill="#6f4498"/><path d="M249.2,154.7L256.9,154.5L257.0,162.7L249.4,162.9Z" fill="#714597"/><path d="M256.6,154.5L264.2,154.4L264.4,162.5L256.7,162.7Z" fill="#734696"/><path d="M263.9,154.4L271.5,154.2L271.7,162.3L264.1,162.5Z" fill="#754795"/><path d="M271.2,154.2L293.4,153.7L293.6,161.8L271.4,162.3Z" fill="#764795"/><path d="M293.1,153.7L300.7,153.5L300.9,161.6L293.3,161.8Z" fill="#744696"/><path d="M300.4,153.5L308.0,153.3L308.2,161.5L300.6,161.6Z" fill="#714597"/><path d="M307.7,153.3L315.4,153.1L315.5,161.3L307.9,161.5Z" fill="#6d4399"/><path d="M315.1,153.1L322.7,153.0L322.8,161.1L315.2,161.3Z" fill="#66409b"/><path d="M322.4,153.0L330.0,152.8L330.1,160.9L322.5,161.1Z" fill="#5e3d9e"/><path d="M329.7,152.8L337.3,152.6L337.5,160.8L329.8,160.9Z" fill="#53389f"/><path d="M337.0,152.6L344.6,152.4L344.8,160.6L337.2,160.8Z" fill="#4636a1"/><path d="M344.3,152.4L351.9,152.3L352.1,160.4L344.5,160.6Z" fill="#3b33a0"/><path d="M351.6,152.3L359.2,152.1L359.4,160.2L351.8,160.4Z" fill="#34329b"/><path d="M358.9,152.1L366.5,151.9L366.7,160.1L359.1,160.2Z" fill="#2e3197"/><path d="M402.8,151.0L410.4,150.9L410.6,159.0L403.0,159.2Z" fill="#fd9a35"/><path d="M410.1,150.9L417.7,150.7L417.9,158.8L410.3,159.0Z" fill="#fb8a3b"/><path d="M103.2,166.1L140.1,165.2L140.3,173.3L103.5,174.2Z" fill="#65409c"/><path d="M139.8,165.2L147.4,165.0L147.6,173.1L140.0,173.3Z" fill="#643f9c"/><path d="M147.1,165.0L154.7,164.8L154.9,173.0L147.3,173.1Z" fill="#633f9c"/><path d="M154.4,164.8L162.0,164.7L162.2,172.8L154.6,173.0Z" fill="#623e9d"/><path d="M161.7,164.7L169.3,164.5L169.5,172.6L161.9,172.8Z" fill="#5f3d9d"/><path d="M169.0,164.5L176.6,164.3L176.8,172.4L169.2,172.6Z" fill="#5c3c9e"/><path d="M176.3,164.3L205.9,163.6L206.1,171.8L176.5,172.4Z" fill="#593b9e"/><path d="M205.6,163.6L213.2,163.4L213.4,171.6L205.8,171.8Z" fill="#5a3b9e"/><path d="M212.9,163.4L220.5,163.3L220.7,171.4L213.1,171.6Z" fill="#5c3c9e"/><path d="M220.2,163.3L227.8,163.1L228.0,171.2L220.4,171.4Z" fill="#603e9d"/><path d="M227.5,163.1L235.1,162.9L235.3,171.0L227.7,171.2Z" fill="#643f9c"/><path d="M234.8,162.9L242.4,162.7L242.6,170.9L235.0,171.0Z" fill="#68419a"/><path d="M242.1,162.7L249.7,162.6L249.9,170.7L242.3,170.9Z" fill="#6c4399"/><path d="M249.4,162.6L257.0,162.4L257.2,170.5L249.6,170.7Z" fill="#6f4498"/><path d="M256.7,162.4L264.4,162.2L264.5,170.3L256.9,170.5Z" fill="#714597"/><path d="M264.1,162.2L271.7,162.0L271.8,170.2L264.2,170.3Z" fill="#724696"/><path d="M271.4,162.0L279.0,161.9L279.2,170.0L271.5,170.2Z" fill="#744696"/><path d="M278.7,161.9L286.3,161.7L286.5,169.8L278.9,170.0Z" fill="#754795"/><path d="M286.0,161.7L300.9,161.3L301.1,169.5L286.2,169.8Z" fill="#764795"/><path d="M300.6,161.3L308.2,161.2L308.4,169.3L300.8,169.5Z" fill="#734696"/><path d="M307.9,161.2L315.5,161.0L315.7,169.1L308.1,169.3Z" fill="#6e4498"/><path d="M315.2,161.0L322.8,160.8L323.0,168.9L315.4,169.1Z" fill="#66409b"/><path d="M322.5,160.8L330.1,160.6L330.3,168.8L322.7,168.9Z" fill="#5b3c9e"/><path d="M329.8,160.6L337.5,160.5L337.6,168.6L330.0,168.8Z" fill="#4e37a0"/><path d="M337.2,160.5L344.8,160.3L344.9,168.4L337.3,168.6Z" fill="#3e34a0"/><path d="M344.5,160.3L352.1,160.1L352.2,168.2L344.6,168.4Z" fill="#32329a"/><path d="M351.8,160.1L359.4,159.9L359.5,168.1L351.9,168.2Z" fill="#2c3194"/><path d="M403.0,158.9L410.6,158.7L410.7,166.8L403.1,167.0Z" fill="#fda637"/><path d="M410.3,158.7L417.9,158.5L418.0,166.7L410.4,166.8Z" fill="#fb8a3b"/><path d="M103.5,173.9L118.4,173.5L118.6,181.7L103.7,182.0Z" fill="#643f9c"/><path d="M118.1,173.5L147.6,172.8L147.8,181.0L118.3,181.7Z" fill="#65409c"/><path d="M147.3,172.8L154.9,172.7L155.1,180.8L147.5,181.0Z" fill="#643f9c"/><path d="M154.6,172.7L162.2,172.5L162.4,180.6L154.8,180.8Z" fill="#633f9c"/><path d="M161.9,172.5L169.5,172.3L169.7,180.5L162.1,180.6Z" fill="#5f3d9d"/><path d="M169.2,172.3L176.8,172.1L177.0,180.3L169.4,180.5Z" fill="#5b3c9e"/><path d="M176.5,172.1L184.1,172.0L184.4,180.1L176.7,180.3Z" fill="#593b9e"/><path d="M183.8,172.0L191.5,171.8L191.7,179.9L184.1,180.1Z" fill="#593a9e"/><path d="M191.2,171.8L198.8,171.6L199.0,179.8L191.4,179.9Z" fill="#593b9e"/><path d="M198.5,171.6L206.1,171.4L206.3,179.6L198.7,179.8Z" fill="#5a3b9e"/><path d="M205.8,171.4L213.4,171.3L213.6,179.4L206.0,179.6Z" fill="#5b3b9e"/><path d="M213.1,171.3L220.7,171.1L220.9,179.2L213.3,179.4Z" fill="#5d3c9e"/><path d="M220.4,171.1L228.0,170.9L228.2,179.1L220.6,179.2Z" fill="#603e9d"/><path d="M227.7,170.9L235.3,170.7L235.5,178.9L227.9,179.1Z" fill="#633f9c"/><path d="M235.0,170.7L242.6,170.6L242.8,178.7L235.2,178.9Z" fill="#66409b"/><path d="M242.3,170.6L249.9,170.4L250.1,178.5L242.5,178.7Z" fill="#69429a"/><path d="M249.6,170.4L257.2,170.2L257.4,178.4L249.8,178.5Z" fill="#6b4399"/><path d="M256.9,170.2L264.5,170.0L264.7,178.2L257.1,178.4Z" fill="#6c4399"/><path d="M264.2,170.0L271.8,169.9L272.0,178.0L264.4,178.2Z" fill="#6d4498"/><path d="M271.5,169.9L279.2,169.7L279.3,177.8L271.7,178.0Z" fill="#6f4498"/><path d="M278.9,169.7L286.5,169.5L286.6,177.7L279.0,177.8Z" fill="#714597"/><path d="M286.2,169.5L293.8,169.3L293.9,177.5L286.3,177.7Z" fill="#744696"/><path d="M293.5,169.3L301.1,169.2L301.3,177.3L293.6,177.5Z" fill="#754795"/><path d="M300.8,169.2L308.4,169.0L308.6,177.1L301.0,177.3Z" fill="#734696"/><path d="M308.1,169.0L315.7,168.8L315.9,177.0L308.3,177.1Z" fill="#6e4498"/><path d="M315.4,168.8L323.0,168.6L323.2,176.8L315.6,177.0Z" fill="#65409c"/><path d="M322.7,168.6L330.3,168.5L330.5,176.6L322.9,176.8Z" fill="#583a9e"/><path d="M330.0,168.5L337.6,168.3L337.8,176.4L330.2,176.6Z" fill="#4936a1"/><path d="M337.3,168.3L344.9,168.1L345.1,176.3L337.5,176.4Z" fill="#39339f"/><path d="M344.6,168.1L352.2,167.9L352.4,176.1L344.8,176.3Z" fill="#2d3195"/><path d="M351.9,167.9L359.5,167.8L359.7,175.9L352.1,176.1Z" fill="#28318d"/><path d="M403.1,166.7L410.7,166.5L410.8,174.7L403.2,174.9Z" fill="#fdb83a"/><path d="M410.4,166.5L418.0,166.4L418.2,174.5L410.5,174.7Z" fill="#fb903a"/><path d="M103.7,181.7L111.3,181.6L111.5,189.7L103.9,189.9Z" fill="#613e9d"/><path d="M111.0,181.6L118.6,181.4L118.8,189.5L111.2,189.7Z" fill="#623e9d"/><path d="M118.3,181.4L133.2,181.0L133.4,189.2L118.5,189.5Z" fill="#633f9c"/><path d="M132.9,181.0L140.5,180.9L140.7,189.0L133.1,189.2Z" fill="#64409c"/><path d="M140.2,180.9L155.1,180.5L155.3,188.7L140.4,189.0Z" fill="#65409c"/><path d="M154.8,180.5L162.4,180.3L162.6,188.5L155.0,188.7Z" fill="#633f9c"/><path d="M162.1,180.3L169.7,180.2L169.9,188.3L162.3,188.5Z" fill="#5f3d9d"/><path d="M169.4,180.2L177.0,180.0L177.3,188.1L169.6,188.3Z" fill="#5b3b9e"/><path d="M176.7,180.0L184.4,179.8L184.6,188.0L177.0,188.1Z" fill="#583a9e"/><path d="M184.1,179.8L191.7,179.6L191.9,187.8L184.3,188.0Z" fill="#573a9f"/><path d="M191.4,179.6L199.0,179.5L199.2,187.6L191.6,187.8Z" fill="#593b9e"/><path d="M198.7,179.5L206.3,179.3L206.5,187.4L198.9,187.6Z" fill="#5b3c9e"/><path d="M206.0,179.3L213.6,179.1L213.8,187.3L206.2,187.4Z" fill="#5d3c9e"/><path d="M213.3,179.1L220.9,178.9L221.1,187.1L213.5,187.3Z" fill="#5f3d9d"/><path d="M220.6,178.9L228.2,178.8L228.4,186.9L220.8,187.1Z" fill="#613e9d"/><path d="M227.9,178.8L235.5,178.6L235.7,186.7L228.1,186.9Z" fill="#643f9c"/><path d="M235.2,178.6L242.8,178.4L243.0,186.6L235.4,186.7Z" fill="#66409b"/><path d="M242.5,178.4L257.4,178.1L257.6,186.2L242.7,186.6Z" fill="#67419b"/><path d="M257.1,178.1L272.0,177.7L272.2,185.9L257.3,186.2Z" fill="#65409c"/><path d="M271.7,177.7L279.3,177.5L279.5,185.7L271.9,185.9Z" fill="#67419b"/><path d="M279.0,177.5L286.6,177.4L286.8,185.5L279.2,185.7Z" fill="#6a429a"/><path d="M286.3,177.4L293.9,177.2L294.1,185.3L286.5,185.5Z" fill="#6e4498"/><path d="M293.6,177.2L308.6,176.8L308.7,185.0L293.8,185.3Z" fill="#714597"/><path d="M308.3,176.8L315.9,176.7L316.0,184.8L308.4,185.0Z" fill="#6d4399"/><path d="M315.6,176.7L323.2,176.5L323.3,184.6L315.7,184.8Z" fill="#633f9c"/><path d="M322.9,176.5L330.5,176.3L330.6,184.5L323.0,184.6Z" fill="#573a9f"/><path d="M330.2,176.3L337.8,176.1L337.9,184.3L330.3,184.5Z" fill="#4736a1"/><path d="M337.5,176.1L345.1,176.0L345.3,184.1L337.6,184.3Z" fill="#37329d"/><path d="M344.8,176.0L352.4,175.8L352.6,183.9L345.0,184.1Z" fill="#2c3193"/><path d="M403.2,174.6L410.8,174.4L411.0,182.5L403.4,182.7Z" fill="#fcc43b"/><path d="M410.5,174.4L418.2,174.2L418.3,182.4L410.7,182.5Z" fill="#fc8e35"/><path d="M103.9,189.6L118.8,189.2L119.0,197.4L104.1,197.7Z" fill="#5f3d9d"/><path d="M118.5,189.2L126.1,189.1L126.3,197.2L118.7,197.4Z" fill="#603e9d"/><path d="M125.8,189.1L133.4,188.9L133.6,197.0L126.0,197.2Z" fill="#613e9d"/><path d="M133.1,188.9L140.7,188.7L141.0,196.8L133.3,197.0Z" fill="#633f9c"/><path d="M140.4,188.7L155.3,188.4L155.6,196.5L140.7,196.8Z" fill="#643f9c"/><path d="M155.0,188.4L162.6,188.2L162.9,196.3L155.3,196.5Z" fill="#623e9d"/><path d="M162.3,188.2L169.9,188.0L170.2,196.1L162.6,196.3Z" fill="#5e3d9d"/><path d="M169.6,188.0L177.3,187.8L177.5,196.0L169.9,196.1Z" fill="#5a3b9e"/><path d="M177.0,187.8L184.6,187.7L184.8,195.8L177.2,196.0Z" fill="#573a9f"/><path d="M184.3,187.7L191.9,187.5L192.1,195.6L184.5,195.8Z" fill="#55399f"/><path d="M191.6,187.5L199.2,187.3L199.4,195.4L191.8,195.6Z" fill="#573a9f"/><path d="M198.9,187.3L206.5,187.1L206.7,195.3L199.1,195.4Z" fill="#5b3b9e"/><path d="M206.2,187.1L213.8,187.0L214.0,195.1L206.4,195.3Z" fill="#5e3d9e"/><path d="M213.5,187.0L221.1,186.8L221.3,194.9L213.7,195.1Z" fill="#603d9d"/><path d="M220.8,186.8L228.4,186.6L228.6,194.7L221.0,194.9Z" fill="#613e9d"/><path d="M228.1,186.6L235.7,186.4L235.9,194.6L228.3,194.7Z" fill="#633f9c"/><path d="M235.4,186.4L250.3,186.1L250.5,194.2L235.6,194.6Z" fill="#643f9c"/><path d="M250.0,186.1L257.6,185.9L257.8,194.0L250.2,194.2Z" fill="#613e9d"/><path d="M257.3,185.9L264.9,185.7L265.1,193.9L257.5,194.0Z" fill="#5c3c9e"/><path d="M264.6,185.7L272.2,185.6L272.4,193.7L264.8,193.9Z" fill="#5a3b9e"/><path d="M271.9,185.6L279.5,185.4L279.7,193.5L272.1,193.7Z" fill="#5b3c9e"/><path d="M279.2,185.4L286.8,185.2L287.0,193.3L279.4,193.5Z" fill="#603e9d"/><path d="M286.5,185.2L294.1,185.0L294.3,193.2L286.7,193.3Z" fill="#66409b"/><path d="M293.8,185.0L301.4,184.9L301.6,193.0L294.0,193.2Z" fill="#6d4399"/><path d="M301.1,184.9L308.7,184.7L308.9,192.8L301.3,193.0Z" fill="#6f4498"/><path d="M308.4,184.7L316.0,184.5L316.2,192.6L308.6,192.8Z" fill="#6c4399"/><path d="M315.7,184.5L323.3,184.3L323.5,192.5L315.9,192.6Z" fill="#643f9c"/><path d="M323.0,184.3L330.6,184.2L330.8,192.3L323.2,192.5Z" fill="#573a9f"/><path d="M330.3,184.2L337.9,184.0L338.1,192.1L330.5,192.3Z" fill="#4836a1"/><path d="M337.6,184.0L345.3,183.8L345.4,191.9L337.8,192.1Z" fill="#38339e"/><path d="M345.0,183.8L352.6,183.6L352.7,191.8L345.1,191.9Z" fill="#2d3195"/><path d="M403.4,182.4L411.0,182.2L411.1,190.4L403.5,190.5Z" fill="#e9f650"/><path d="M410.7,182.2L418.3,182.1L418.4,190.2L410.8,190.4Z" fill="#fc9a38"/><path d="M104.1,197.4L119.0,197.1L119.3,205.2L104.4,205.6Z" fill="#5b3c9e"/><path d="M118.7,197.1L126.3,196.9L126.6,205.0L119.0,205.2Z" fill="#5c3c9e"/><path d="M126.0,196.9L133.6,196.7L133.9,204.9L126.3,205.0Z" fill="#5d3d9e"/><path d="M133.3,196.7L141.0,196.5L141.2,204.7L133.6,204.9Z" fill="#603e9d"/><path d="M140.7,196.5L148.3,196.4L148.5,204.5L140.9,204.7Z" fill="#613e9d"/><path d="M148.0,196.4L155.6,196.2L155.8,204.3L148.2,204.5Z" fill="#603e9d"/><path d="M155.3,196.2L162.9,196.0L163.1,204.2L155.5,204.3Z" fill="#5e3d9d"/><path d="M162.6,196.0L170.2,195.8L170.4,204.0L162.8,204.2Z" fill="#5b3c9e"/><path d="M169.9,195.8L177.5,195.7L177.7,203.8L170.1,204.0Z" fill="#583a9f"/><path d="M177.2,195.7L184.8,195.5L185.0,203.6L177.4,203.8Z" fill="#55399f"/><path d="M184.5,195.5L192.1,195.3L192.3,203.5L184.7,203.6Z" fill="#53399f"/><path d="M191.8,195.3L199.4,195.1L199.6,203.3L192.0,203.5Z" fill="#55399f"/><path d="M199.1,195.1L206.7,195.0L206.9,203.1L199.3,203.3Z" fill="#593b9e"/><path d="M206.4,195.0L214.0,194.8L214.2,202.9L206.6,203.1Z" fill="#5d3c9e"/><path d="M213.7,194.8L221.3,194.6L221.5,202.8L213.9,202.9Z" fill="#5f3d9d"/><path d="M221.0,194.6L228.6,194.4L228.8,202.6L221.2,202.8Z" fill="#603e9d"/><path d="M228.3,194.4L243.2,194.1L243.4,202.2L228.5,202.6Z" fill="#613e9d"/><path d="M242.9,194.1L250.5,193.9L250.7,202.1L243.1,202.2Z" fill="#5f3d9d"/><path d="M250.2,193.9L257.8,193.7L258.0,201.9L250.4,202.1Z" fill="#593b9e"/><path d="M257.5,193.7L265.1,193.6L265.3,201.7L257.7,201.9Z" fill="#52389f"/><path d="M264.8,193.6L272.4,193.4L272.6,201.5L265.0,201.7Z" fill="#4e37a0"/><path d="M272.1,193.4L279.7,193.2L279.9,201.4L272.3,201.5Z" fill="#5038a0"/><path d="M279.4,193.2L287.0,193.0L287.2,201.2L279.6,201.4Z" fill="#56399f"/><path d="M286.7,193.0L294.3,192.9L294.5,201.0L286.9,201.2Z" fill="#5f3d9d"/><path d="M294.0,192.9L301.6,192.7L301.8,200.8L294.2,201.0Z" fill="#68419a"/><path d="M301.3,192.7L308.9,192.5L309.1,200.7L301.5,200.8Z" fill="#6d4498"/><path d="M308.6,192.5L316.2,192.3L316.4,200.5L308.8,200.7Z" fill="#6c4399"/><path d="M315.9,192.3L323.5,192.2L323.7,200.3L316.1,200.5Z" fill="#65409b"/><path d="M323.2,192.2L330.8,192.0L331.0,200.1L323.4,200.3Z" fill="#5a3b9e"/><path d="M330.5,192.0L338.1,191.8L338.3,200.0L330.7,200.1Z" fill="#4b37a1"/><path d="M337.8,191.8L345.4,191.6L345.6,199.8L338.0,200.0Z" fill="#3c33a0"/><path d="M345.1,191.6L352.7,191.5L352.9,199.6L345.3,199.8Z" fill="#2f3198"/><path d="M403.5,190.2L411.1,190.1L411.3,198.2L403.7,198.4Z" fill="#e9f650"/><path d="M410.8,190.1L418.4,189.9L418.6,198.0L411.0,198.2Z" fill="#fba63a"/><path d="M104.4,205.3L112.0,205.1L112.2,213.2L104.6,213.4Z" fill="#54399f"/><path d="M111.7,205.1L119.3,204.9L119.5,213.1L111.9,213.2Z" fill="#55399f"/><path d="M119.0,204.9L126.6,204.7L126.8,212.9L119.2,213.1Z" fill="#56399f"/><path d="M126.3,204.7L133.9,204.6L134.1,212.7L126.5,212.9Z" fill="#573a9f"/><path d="M133.6,204.6L141.2,204.4L141.4,212.5L133.8,212.7Z" fill="#5a3b9e"/><path d="M140.9,204.4L148.5,204.2L148.7,212.4L141.1,212.5Z" fill="#5b3b9e"/><path d="M148.2,204.2L155.8,204.0L156.0,212.2L148.4,212.4Z" fill="#5a3b9e"/><path d="M155.5,204.0L163.1,203.9L163.3,212.0L155.7,212.2Z" fill="#593b9e"/><path d="M162.8,203.9L170.4,203.7L170.6,211.8L163.0,212.0Z" fill="#573a9f"/><path d="M170.1,203.7L177.7,203.5L177.9,211.7L170.3,211.8Z" fill="#54399f"/><path d="M177.4,203.5L192.3,203.2L192.5,211.3L177.6,211.7Z" fill="#52389f"/><path d="M192.0,203.2L199.6,203.0L199.8,211.1L192.2,211.3Z" fill="#54399f"/><path d="M199.3,203.0L206.9,202.8L207.1,211.0L199.5,211.1Z" fill="#583a9e"/><path d="M206.6,202.8L214.2,202.6L214.4,210.8L206.8,211.0Z" fill="#5c3c9e"/><path d="M213.9,202.6L221.5,202.5L221.7,210.6L214.1,210.8Z" fill="#5e3d9d"/><path d="M221.2,202.5L236.1,202.1L236.3,210.3L221.4,210.6Z" fill="#5f3d9d"/><path d="M235.8,202.1L243.4,201.9L243.6,210.1L236.0,210.3Z" fill="#5e3d9e"/><path d="M243.1,201.9L250.7,201.8L250.9,209.9L243.3,210.1Z" fill="#5a3b9e"/><path d="M250.4,201.8L258.0,201.6L258.2,209.7L250.6,209.9Z" fill="#53389f"/><path d="M257.7,201.6L265.3,201.4L265.5,209.6L257.9,209.7Z" fill="#4a36a1"/><path d="M265.0,201.4L272.6,201.2L272.8,209.4L265.2,209.6Z" fill="#4636a1"/><path d="M272.3,201.2L279.9,201.1L280.1,209.2L272.5,209.4Z" fill="#4936a1"/><path d="M279.6,201.1L287.2,200.9L287.4,209.0L279.8,209.2Z" fill="#5038a0"/><path d="M286.9,200.9L294.5,200.7L294.6,208.9L287.1,209.0Z" fill="#5a3b9e"/><path d="M294.2,200.7L301.8,200.5L301.9,208.7L294.3,208.9Z" fill="#65409c"/><path d="M301.5,200.5L316.4,200.2L316.5,208.3L301.6,208.7Z" fill="#6b4399"/><path d="M316.1,200.2L323.7,200.0L323.8,208.2L316.2,208.3Z" fill="#66409b"/><path d="M323.4,200.0L331.0,199.8L331.1,208.0L323.5,208.2Z" fill="#5b3b9e"/><path d="M330.7,199.8L338.3,199.7L338.4,207.8L330.8,208.0Z" fill="#4d37a0"/><path d="M338.0,199.7L345.6,199.5L345.7,207.6L338.1,207.8Z" fill="#3e34a0"/><path d="M403.7,198.1L411.3,197.9L411.4,206.1L403.8,206.2Z" fill="#e9f650"/><path d="M411.0,197.9L418.6,197.7L418.7,205.9L411.1,206.1Z" fill="#fbc840"/><path d="M104.6,213.1L112.2,212.9L112.4,221.1L104.8,221.2Z" fill="#4e37a0"/><path d="M111.9,212.9L119.5,212.8L119.7,220.9L112.1,221.1Z" fill="#4f38a0"/><path d="M119.2,212.8L126.8,212.6L127.0,220.7L119.4,220.9Z" fill="#5038a0"/><path d="M126.5,212.6L134.1,212.4L134.3,220.5L126.7,220.7Z" fill="#5238a0"/><path d="M133.8,212.4L141.4,212.2L141.6,220.4L134.0,220.5Z" fill="#54399f"/><path d="M141.1,212.2L148.7,212.1L148.9,220.2L141.3,220.4Z" fill="#55399f"/><path d="M148.4,212.1L156.0,211.9L156.2,220.0L148.6,220.2Z" fill="#54399f"/><path d="M155.7,211.9L163.3,211.7L163.5,219.8L155.9,220.0Z" fill="#53389f"/><path d="M163.0,211.7L170.6,211.5L170.8,219.7L163.2,219.8Z" fill="#5138a0"/><path d="M170.3,211.5L177.9,211.4L178.1,219.5L170.5,219.7Z" fill="#5038a0"/><path d="M177.6,211.4L185.2,211.2L185.4,219.3L177.8,219.5Z" fill="#4f38a0"/><path d="M184.9,211.2L192.5,211.0L192.7,219.1L185.1,219.3Z" fill="#5038a0"/><path d="M192.2,211.0L199.8,210.8L200.0,219.0L192.4,219.1Z" fill="#52389f"/><path d="M199.5,210.8L207.1,210.7L207.3,218.8L199.7,219.0Z" fill="#573a9f"/><path d="M206.8,210.7L214.4,210.5L214.6,218.6L207.0,218.8Z" fill="#5a3b9e"/><path d="M214.1,210.5L221.7,210.3L221.9,218.4L214.3,218.6Z" fill="#5d3c9e"/><path d="M221.4,210.3L229.0,210.1L229.2,218.3L221.6,218.4Z" fill="#5e3d9d"/><path d="M228.7,210.1L236.3,210.0L236.5,218.1L228.9,218.3Z" fill="#5f3d9d"/><path d="M236.0,210.0L243.6,209.8L243.8,217.9L236.2,218.1Z" fill="#5d3c9e"/><path d="M243.3,209.8L250.9,209.6L251.0,217.7L243.5,217.9Z" fill="#583a9e"/><path d="M250.6,209.6L258.2,209.4L258.3,217.6L250.7,217.7Z" fill="#4f38a0"/><path d="M257.9,209.4L265.5,209.3L265.6,217.4L258.0,217.6Z" fill="#4636a1"/><path d="M265.2,209.3L272.8,209.1L272.9,217.2L265.3,217.4Z" fill="#4335a1"/><path d="M272.5,209.1L280.1,208.9L280.2,217.0L272.6,217.2Z" fill="#4636a1"/><path d="M279.8,208.9L287.4,208.7L287.5,216.9L279.9,217.0Z" fill="#4e37a0"/><path d="M287.1,208.7L294.6,208.6L294.8,216.7L287.2,216.9Z" fill="#593b9e"/><path d="M294.3,208.6L301.9,208.4L302.1,216.5L294.5,216.7Z" fill="#633f9c"/><path d="M301.6,208.4L316.5,208.0L316.7,216.2L301.8,216.5Z" fill="#68419b"/><path d="M316.2,208.0L323.8,207.9L324.0,216.0L316.4,216.2Z" fill="#623f9d"/><path d="M323.5,207.9L331.1,207.7L331.3,215.8L323.7,216.0Z" fill="#583a9e"/><path d="M330.8,207.7L338.4,207.5L338.6,215.6L331.0,215.8Z" fill="#4c37a0"/><path d="M338.1,207.5L345.7,207.3L345.9,215.5L338.3,215.6Z" fill="#3f34a0"/><path d="M104.8,220.9L112.4,220.8L112.7,228.9L105.1,229.1Z" fill="#4b37a1"/><path d="M112.1,220.8L119.7,220.6L119.9,228.7L112.4,228.9Z" fill="#4b37a0"/><path d="M119.4,220.6L127.0,220.4L127.2,228.6L119.6,228.7Z" fill="#4c37a0"/><path d="M126.7,220.4L134.3,220.2L134.5,228.4L126.9,228.6Z" fill="#4d37a0"/><path d="M134.0,220.2L156.2,219.7L156.4,227.9L134.2,228.4Z" fill="#4e37a0"/><path d="M155.9,219.7L163.5,219.5L163.7,227.7L156.1,227.9Z" fill="#4d37a0"/><path d="M163.2,219.5L178.1,219.2L178.3,227.3L163.4,227.7Z" fill="#4c37a0"/><path d="M177.8,219.2L192.7,218.8L192.9,227.0L178.0,227.3Z" fill="#4b37a1"/><path d="M192.4,218.8L200.0,218.7L200.2,226.8L192.6,227.0Z" fill="#4f38a0"/><path d="M199.7,218.7L207.3,218.5L207.5,226.6L199.9,226.8Z" fill="#54399f"/><path d="M207.0,218.5L214.6,218.3L214.8,226.5L207.2,226.6Z" fill="#593a9e"/><path d="M214.3,218.3L221.9,218.1L222.1,226.3L214.5,226.5Z" fill="#5b3b9e"/><path d="M221.6,218.1L229.2,218.0L229.4,226.1L221.8,226.3Z" fill="#5d3c9e"/><path d="M228.9,218.0L236.5,217.8L236.6,225.9L229.1,226.1Z" fill="#5e3d9d"/><path d="M236.2,217.8L243.8,217.6L243.9,225.8L236.3,225.9Z" fill="#5d3c9e"/><path d="M243.5,217.6L251.0,217.4L251.2,225.6L243.6,225.8Z" fill="#583a9e"/><path d="M250.7,217.4L258.3,217.3L258.5,225.4L250.9,225.6Z" fill="#5038a0"/><path d="M258.0,217.3L265.6,217.1L265.8,225.2L258.2,225.4Z" fill="#4736a1"/><path d="M265.3,217.1L272.9,216.9L273.1,225.1L265.5,225.2Z" fill="#4435a1"/><path d="M272.6,216.9L280.2,216.7L280.4,224.9L272.8,225.1Z" fill="#4736a1"/><path d="M279.9,216.7L287.5,216.6L287.7,224.7L280.1,224.9Z" fill="#4e37a0"/><path d="M287.2,216.6L294.8,216.4L295.0,224.5L287.4,224.7Z" fill="#573a9f"/><path d="M294.5,216.4L302.1,216.2L302.3,224.4L294.7,224.5Z" fill="#5f3d9d"/><path d="M301.8,216.2L309.4,216.0L309.6,224.2L302.0,224.4Z" fill="#633f9c"/><path d="M309.1,216.0L316.7,215.9L316.9,224.0L309.3,224.2Z" fill="#613e9d"/><path d="M316.4,215.9L324.0,215.7L324.2,223.8L316.6,224.0Z" fill="#5b3b9e"/><path d="M323.7,215.7L331.3,215.5L331.5,223.7L323.9,223.8Z" fill="#52389f"/><path d="M331.0,215.5L338.6,215.3L338.8,223.5L331.2,223.7Z" fill="#4736a1"/><path d="M338.3,215.3L345.9,215.2L346.1,223.3L338.5,223.5Z" fill="#3c33a0"/><path d="M105.1,228.8L171.0,227.2L171.2,235.3L105.3,236.9Z" fill="#4936a1"/><path d="M170.7,227.2L178.3,227.0L178.5,235.2L170.9,235.3Z" fill="#4836a1"/><path d="M178.0,227.0L192.9,226.7L193.1,234.8L178.2,235.2Z" fill="#4636a1"/><path d="M192.6,226.7L200.2,226.5L200.4,234.6L192.8,234.8Z" fill="#4936a1"/><path d="M199.9,226.5L207.5,226.3L207.7,234.5L200.1,234.6Z" fill="#54399f"/><path d="M207.2,226.3L214.8,226.2L215.0,234.3L207.4,234.5Z" fill="#573a9f"/><path d="M214.5,226.2L222.1,226.0L222.3,234.1L214.7,234.3Z" fill="#593b9e"/><path d="M221.8,226.0L229.4,225.8L229.5,233.9L222.0,234.1Z" fill="#5b3c9e"/><path d="M229.1,225.8L243.9,225.5L244.1,233.6L229.2,233.9Z" fill="#5e3d9d"/><path d="M243.6,225.5L251.2,225.3L251.4,233.4L243.8,233.6Z" fill="#5a3b9e"/><path d="M250.9,225.3L258.5,225.1L258.7,233.2L251.1,233.4Z" fill="#54399f"/><path d="M258.2,225.1L265.8,224.9L266.0,233.1L258.4,233.2Z" fill="#4a36a1"/><path d="M265.5,224.9L273.1,224.8L273.3,232.9L265.7,233.1Z" fill="#4636a1"/><path d="M272.8,224.8L280.4,224.6L280.6,232.7L273.0,232.9Z" fill="#4936a1"/><path d="M280.1,224.6L287.7,224.4L287.9,232.5L280.3,232.7Z" fill="#4c37a0"/><path d="M287.4,224.4L295.0,224.2L295.2,232.4L287.6,232.5Z" fill="#54399f"/><path d="M294.7,224.2L302.3,224.1L302.5,232.2L294.9,232.4Z" fill="#593b9e"/><path d="M302.0,224.1L309.6,223.9L309.8,232.0L302.2,232.2Z" fill="#5a3b9e"/><path d="M309.3,223.9L316.9,223.7L317.0,231.8L309.5,232.0Z" fill="#56399f"/><path d="M316.6,223.7L324.2,223.5L324.3,231.7L316.7,231.8Z" fill="#5038a0"/><path d="M323.9,223.5L331.5,223.4L331.6,231.5L324.0,231.7Z" fill="#4836a1"/><path d="M331.2,223.4L338.8,223.2L338.9,231.3L331.3,231.5Z" fill="#4034a0"/><path d="M411.4,221.4L419.0,221.3L419.1,229.4L411.5,229.6Z" fill="#fbb03b"/><path d="M105.3,236.6L156.6,235.4L156.8,243.5L105.5,244.8Z" fill="#4435a1"/><path d="M156.3,235.4L193.1,234.5L193.3,242.7L156.5,243.5Z" fill="#4535a1"/><path d="M192.8,234.5L200.4,234.3L200.6,242.5L193.0,242.7Z" fill="#4736a1"/><path d="M200.1,234.3L207.7,234.2L207.9,242.3L200.3,242.5Z" fill="#5138a0"/><path d="M207.4,234.2L215.0,234.0L215.2,242.1L207.6,242.3Z" fill="#54399f"/><path d="M214.7,234.0L222.3,233.8L222.5,242.0L214.9,242.1Z" fill="#593b9e"/><path d="M222.0,233.8L229.5,233.6L229.7,241.8L222.2,242.0Z" fill="#5b3b9e"/><path d="M229.2,233.6L236.8,233.5L237.0,241.6L229.4,241.8Z" fill="#5f3d9d"/><path d="M236.5,233.5L244.1,233.3L244.3,241.4L236.7,241.6Z" fill="#603d9d"/><path d="M243.8,233.3L251.4,233.1L251.6,241.3L244.0,241.4Z" fill="#5e3d9e"/><path d="M251.1,233.1L258.7,232.9L258.9,241.1L251.3,241.3Z" fill="#593a9e"/><path d="M258.4,232.9L266.0,232.8L266.2,240.9L258.6,241.1Z" fill="#4535a1"/><path d="M265.7,232.8L273.3,232.6L273.5,240.7L265.9,240.9Z" fill="#3e34a0"/><path d="M273.0,232.6L280.6,232.4L280.8,240.6L273.2,240.7Z" fill="#3d33a0"/><path d="M280.3,232.4L287.9,232.2L288.1,240.4L280.5,240.6Z" fill="#3f34a0"/><path d="M287.6,232.2L295.2,232.1L295.3,240.2L287.8,240.4Z" fill="#4836a1"/><path d="M294.9,232.1L302.5,231.9L302.6,240.0L295.0,240.2Z" fill="#4a36a1"/><path d="M302.2,231.9L309.8,231.7L309.9,239.9L302.3,240.0Z" fill="#4936a1"/><path d="M309.5,231.7L317.0,231.5L317.2,239.7L309.6,239.9Z" fill="#4335a1"/><path d="M316.7,231.5L324.3,231.4L324.5,239.5L316.9,239.7Z" fill="#4134a0"/><path d="M324.0,231.4L331.6,231.2L331.8,239.3L324.2,239.5Z" fill="#3b33a0"/><path d="M411.5,229.3L419.1,229.1L419.3,237.2L411.7,237.4Z" fill="#fbc03d"/><path d="M105.5,244.5L156.8,243.2L157.1,251.4L105.8,252.6Z" fill="#4335a1"/><path d="M156.5,243.2L186.0,242.5L186.2,250.7L156.8,251.4Z" fill="#4936a1"/><path d="M185.7,242.5L193.3,242.4L193.5,250.5L185.9,250.7Z" fill="#4a36a1"/><path d="M193.0,242.4L200.6,242.2L200.8,250.3L193.2,250.5Z" fill="#4b37a1"/><path d="M200.3,242.2L207.9,242.0L208.1,250.2L200.5,250.3Z" fill="#563a9f"/><path d="M207.6,242.0L215.2,241.8L215.4,250.0L207.8,250.2Z" fill="#583a9e"/><path d="M214.9,241.8L222.5,241.7L222.7,249.8L215.1,250.0Z" fill="#5e3d9e"/><path d="M222.2,241.7L229.7,241.5L229.9,249.6L222.3,249.8Z" fill="#5f3d9d"/><path d="M229.4,241.5L237.0,241.3L237.2,249.5L229.6,249.6Z" fill="#603d9d"/><path d="M236.7,241.3L244.3,241.1L244.5,249.3L236.9,249.5Z" fill="#643f9c"/><path d="M244.0,241.1L251.6,241.0L251.8,249.1L244.2,249.3Z" fill="#633f9c"/><path d="M251.3,241.0L258.9,240.8L259.1,248.9L251.5,249.1Z" fill="#5138a0"/><path d="M258.6,240.8L266.2,240.6L266.4,248.8L258.8,248.9Z" fill="#39339e"/><path d="M265.9,240.6L273.5,240.4L273.7,248.6L266.1,248.8Z" fill="#35329c"/><path d="M273.2,240.4L280.8,240.3L280.9,248.4L273.4,248.6Z" fill="#33329b"/><path d="M280.5,240.3L288.1,240.1L288.2,248.2L280.6,248.4Z" fill="#2f3198"/><path d="M287.8,240.1L295.3,239.9L295.5,248.1L287.9,248.2Z" fill="#39339f"/><path d="M295.0,239.9L302.6,239.7L302.8,247.9L295.2,248.1Z" fill="#3a339f"/><path d="M302.3,239.7L309.9,239.6L310.1,247.7L302.5,247.9Z" fill="#38339e"/><path d="M309.6,239.6L324.5,239.2L324.7,247.4L309.8,247.7Z" fill="#2c3193"/><path d="M324.2,239.2L331.8,239.0L332.0,247.2L324.4,247.4Z" fill="#2e3197"/><path d="M411.7,237.1L419.3,236.9L419.4,245.1L411.8,245.3Z" fill="#f0e04e"/><path d="M105.8,252.3L157.1,251.1L157.3,259.2L106.0,260.4Z" fill="#4335a1"/><path d="M156.8,251.1L186.2,250.4L186.4,258.5L157.0,259.2Z" fill="#4a36a1"/><path d="M185.9,250.4L193.5,250.2L193.7,258.3L186.1,258.5Z" fill="#4a37a1"/><path d="M193.2,250.2L200.8,250.0L201.0,258.2L193.4,258.3Z" fill="#4b37a1"/><path d="M200.5,250.0L208.1,249.9L208.3,258.0L200.7,258.2Z" fill="#583a9f"/><path d="M207.8,249.9L215.4,249.7L215.6,257.8L208.0,258.0Z" fill="#583a9e"/><path d="M215.1,249.7L237.2,249.2L237.4,257.3L215.3,257.8Z" fill="#5f3d9d"/><path d="M236.9,249.2L244.5,249.0L244.7,257.1L237.1,257.3Z" fill="#65409c"/><path d="M244.2,249.0L251.8,248.8L252.0,256.9L244.4,257.1Z" fill="#64409c"/><path d="M251.5,248.8L259.1,248.6L259.3,256.8L251.7,256.9Z" fill="#5038a0"/><path d="M258.8,248.6L266.4,248.5L266.6,256.6L259.0,256.8Z" fill="#35329c"/><path d="M266.1,248.5L273.7,248.3L273.8,256.4L266.3,256.6Z" fill="#2b3192"/><path d="M273.4,248.3L280.9,248.1L281.1,256.2L273.5,256.4Z" fill="#2a3191"/><path d="M280.6,248.1L288.2,247.9L288.4,256.1L280.8,256.2Z" fill="#2a3190"/><path d="M287.9,247.9L295.5,247.8L295.7,255.9L288.1,256.1Z" fill="#263189"/><path d="M295.2,247.8L310.1,247.4L310.3,255.5L295.4,255.9Z" fill="#243186"/><path d="M309.8,247.4L317.4,247.2L317.6,255.4L310.0,255.5Z" fill="#243185"/><path d="M317.1,247.2L324.7,247.1L324.8,255.2L317.3,255.4Z" fill="#2d3195"/><path d="M411.8,245.0L419.4,244.8L419.6,252.9L412.0,253.1Z" fill="#f2e64a"/><path d="M106.0,260.1L157.3,258.9L157.5,267.1L106.2,268.3Z" fill="#3c33a0"/><path d="M157.0,258.9L193.7,258.0L193.9,266.2L157.2,267.1Z" fill="#4a36a1"/><path d="M193.4,258.0L201.0,257.9L201.2,266.0L193.6,266.2Z" fill="#4a37a1"/><path d="M200.7,257.9L215.6,257.5L215.8,265.7L200.9,266.0Z" fill="#4b37a1"/><path d="M215.3,257.5L237.4,257.0L237.6,265.1L215.5,265.7Z" fill="#52389f"/><path d="M237.1,257.0L244.7,256.8L244.9,265.0L237.3,265.1Z" fill="#593b9e"/><path d="M244.4,256.8L252.0,256.6L252.2,264.8L244.6,265.0Z" fill="#583a9e"/><path d="M251.7,256.6L259.3,256.5L259.5,264.6L251.9,264.8Z" fill="#3d34a0"/><path d="M259.0,256.5L266.6,256.3L266.7,264.4L259.2,264.6Z" fill="#3b33a0"/><path d="M266.3,256.3L273.8,256.1L274.0,264.3L266.4,264.4Z" fill="#3a339f"/><path d="M273.5,256.1L281.1,255.9L281.3,264.1L273.7,264.3Z" fill="#2b3191"/><path d="M280.8,255.9L288.4,255.8L288.6,263.9L281.0,264.1Z" fill="#2a3190"/><path d="M288.1,255.8L295.7,255.6L295.9,263.7L288.3,263.9Z" fill="#29318e"/><path d="M295.4,255.6L303.0,255.4L303.2,263.6L295.6,263.7Z" fill="#112f66"/><path d="M302.7,255.4L310.3,255.2L310.4,263.4L302.9,263.6Z" fill="#0e2d5f"/><path d="M310.0,255.2L317.6,255.1L317.7,263.2L310.1,263.4Z" fill="#0c2c5b"/><path d="M106.2,268.0L150.2,266.9L150.4,275.1L106.4,276.1Z" fill="#3b33a0"/><path d="M149.9,266.9L157.5,266.8L157.7,274.9L150.1,275.1Z" fill="#3c33a0"/><path d="M157.2,266.8L164.8,266.6L165.0,274.7L157.4,274.9Z" fill="#4936a1"/><path d="M164.5,266.6L201.2,265.7L201.4,273.8L164.7,274.7Z" fill="#4a36a1"/><path d="M200.9,265.7L215.8,265.4L216.0,273.5L201.1,273.8Z" fill="#4a37a1"/><path d="M215.5,265.4L223.0,265.2L223.2,273.3L215.7,273.5Z" fill="#5138a0"/><path d="M222.7,265.2L230.3,265.0L230.5,273.1L222.9,273.3Z" fill="#5238a0"/><path d="M230.0,265.0L237.6,264.8L237.8,273.0L230.2,273.1Z" fill="#52389f"/><path d="M237.3,264.8L244.9,264.7L245.1,272.8L237.5,273.0Z" fill="#583a9e"/><path d="M244.6,264.7L252.2,264.5L252.4,272.6L244.8,272.8Z" fill="#583a9f"/><path d="M251.9,264.5L259.5,264.3L259.6,272.4L252.1,272.6Z" fill="#3e34a0"/><path d="M259.2,264.3L266.7,264.1L266.9,272.3L259.3,272.4Z" fill="#3d33a0"/><path d="M266.4,264.1L274.0,264.0L274.2,272.1L266.6,272.3Z" fill="#3b33a0"/><path d="M273.7,264.0L288.6,263.6L288.8,271.7L273.9,272.1Z" fill="#2e3197"/><path d="M288.3,263.6L295.9,263.4L296.1,271.6L288.5,271.7Z" fill="#2d3196"/><path d="M295.6,263.4L303.2,263.3L303.3,271.4L295.8,271.6Z" fill="#1b3176"/><path d="M302.9,263.3L310.4,263.1L310.6,271.2L303.0,271.4Z" fill="#1a3074"/><path d="M310.1,263.1L317.7,262.9L317.9,271.0L310.3,271.2Z" fill="#20317f"/><path d="M106.4,275.8L157.7,274.6L157.9,282.7L106.7,284.0Z" fill="#3b33a0"/><path d="M157.4,274.6L165.0,274.4L165.2,282.6L157.6,282.7Z" fill="#4235a1"/><path d="M164.7,274.4L194.1,273.7L194.3,281.9L164.9,282.6Z" fill="#4335a1"/><path d="M193.8,273.7L216.0,273.2L216.2,281.3L194.0,281.9Z" fill="#4a36a1"/><path d="M215.7,273.2L230.5,272.8L230.7,281.0L215.9,281.3Z" fill="#5138a0"/><path d="M230.2,272.8L237.8,272.7L238.0,280.8L230.4,281.0Z" fill="#5238a0"/><path d="M237.5,272.7L252.4,272.3L252.6,280.5L237.7,280.8Z" fill="#583a9e"/><path d="M252.1,272.3L266.9,272.0L267.1,280.1L252.3,280.5Z" fill="#573a9f"/><path d="M266.6,272.0L274.2,271.8L274.4,279.9L266.8,280.1Z" fill="#4b37a1"/><path d="M273.9,271.8L296.1,271.3L296.2,279.4L274.1,279.9Z" fill="#4936a1"/><path d="M295.8,271.3L303.3,271.1L303.5,279.2L295.9,279.4Z" fill="#4736a1"/><path d="M303.0,271.1L310.6,270.9L310.8,279.1L303.2,279.2Z" fill="#4836a1"/><path d="M310.3,270.9L317.9,270.7L318.1,278.9L310.5,279.1Z" fill="#55399f"/><path d="M106.7,283.7L150.6,282.6L150.9,290.8L106.9,291.8Z" fill="#34329b"/><path d="M150.3,282.6L157.9,282.4L158.1,290.6L150.6,290.8Z" fill="#35329c"/><path d="M157.6,282.4L165.2,282.3L165.4,290.4L157.8,290.6Z" fill="#3b33a0"/><path d="M164.9,282.3L194.3,281.6L194.5,289.7L165.1,290.4Z" fill="#3c33a0"/><path d="M194.0,281.6L216.2,281.0L216.4,289.2L194.2,289.7Z" fill="#4235a1"/><path d="M215.9,281.0L238.0,280.5L238.2,288.7L216.1,289.2Z" fill="#4836a1"/><path d="M237.7,280.5L259.8,280.0L260.0,288.1L237.9,288.7Z" fill="#4f38a0"/><path d="M259.5,280.0L267.1,279.8L267.3,287.9L259.7,288.1Z" fill="#563a9f"/><path d="M266.8,279.8L274.4,279.6L274.6,287.8L267.0,287.9Z" fill="#583a9f"/><path d="M274.1,279.6L281.7,279.5L281.8,287.6L274.3,287.8Z" fill="#52389f"/><path d="M281.4,279.5L288.9,279.3L289.1,287.4L281.5,287.6Z" fill="#5138a0"/><path d="M288.6,279.3L296.2,279.1L296.4,287.2L288.8,287.4Z" fill="#5038a0"/><path d="M295.9,279.1L303.5,278.9L303.7,287.1L296.1,287.2Z" fill="#3d34a0"/><path d="M303.2,278.9L310.8,278.8L311.0,286.9L303.4,287.1Z" fill="#3c33a0"/><path d="M310.5,278.8L318.1,278.6L318.2,286.7L310.7,286.9Z" fill="#4435a1"/><path d="M317.8,278.6L325.3,278.4L325.5,286.6L317.9,286.7Z" fill="#573a9f"/><path d="M106.9,291.5L150.9,290.4L151.1,298.6L107.1,299.6Z" fill="#34329b"/><path d="M150.6,290.4L158.1,290.3L158.4,298.4L150.8,298.6Z" fill="#35329c"/><path d="M157.8,290.3L165.4,290.1L165.6,298.2L158.1,298.4Z" fill="#3c33a0"/><path d="M165.1,290.1L180.0,289.8L180.2,297.9L165.3,298.2Z" fill="#4335a1"/><path d="M179.7,289.8L187.2,289.6L187.5,297.7L179.9,297.9Z" fill="#4235a1"/><path d="M186.9,289.6L194.5,289.4L194.7,297.5L187.2,297.7Z" fill="#3a33a0"/><path d="M194.2,289.4L201.8,289.2L202.0,297.4L194.4,297.5Z" fill="#33329a"/><path d="M201.5,289.2L209.1,289.1L209.3,297.2L201.7,297.4Z" fill="#263189"/><path d="M208.8,289.1L216.4,288.9L216.6,297.0L209.0,297.2Z" fill="#253187"/><path d="M216.1,288.9L223.6,288.7L223.8,296.8L216.3,297.0Z" fill="#20317f"/><path d="M223.3,288.7L230.9,288.5L231.1,296.7L223.5,296.8Z" fill="#20317e"/><path d="M230.6,288.5L252.7,288.0L252.9,296.1L230.8,296.7Z" fill="#1a3075"/><path d="M252.4,288.0L260.0,287.8L260.2,296.0L252.6,296.1Z" fill="#1b3176"/><path d="M259.7,287.8L267.3,287.6L267.5,295.8L259.9,296.0Z" fill="#2b3192"/><path d="M267.0,287.6L274.6,287.5L274.8,295.6L267.2,295.8Z" fill="#5a3b9e"/><path d="M274.3,287.5L281.8,287.3L282.0,295.4L274.5,295.6Z" fill="#56399f"/><path d="M281.5,287.3L289.1,287.1L289.3,295.3L281.7,295.4Z" fill="#5138a0"/><path d="M288.8,287.1L296.4,286.9L296.6,295.1L289.0,295.3Z" fill="#4b37a1"/><path d="M296.1,286.9L303.7,286.8L303.9,294.9L296.3,295.1Z" fill="#4936a1"/><path d="M303.4,286.8L318.2,286.4L318.4,294.6L303.6,294.9Z" fill="#3c33a0"/><path d="M107.1,299.3L143.8,298.5L144.0,306.6L107.4,307.5Z" fill="#34329b"/><path d="M143.5,298.5L151.1,298.3L151.3,306.4L143.7,306.6Z" fill="#35329c"/><path d="M150.8,298.3L158.4,298.1L158.6,306.3L151.0,306.4Z" fill="#4836a1"/><path d="M158.1,298.1L165.6,297.9L165.8,306.1L158.3,306.3Z" fill="#4a36a1"/><path d="M165.3,297.9L172.9,297.8L173.1,305.9L165.5,306.1Z" fill="#5038a0"/><path d="M172.6,297.8L180.2,297.6L180.4,305.7L172.8,305.9Z" fill="#4f38a0"/><path d="M179.9,297.6L187.5,297.4L187.7,305.6L180.1,305.7Z" fill="#34329b"/><path d="M187.2,297.4L194.7,297.2L194.9,305.4L187.4,305.6Z" fill="#253188"/><path d="M194.4,297.2L202.0,297.1L202.2,305.2L194.6,305.4Z" fill="#20317f"/><path d="M201.7,297.1L209.3,296.9L209.5,305.0L201.9,305.2Z" fill="#1e317c"/><path d="M209.0,296.9L216.6,296.7L216.8,304.9L209.2,305.0Z" fill="#193073"/><path d="M216.3,296.7L223.8,296.5L224.0,304.7L216.5,304.9Z" fill="#183071"/><path d="M223.5,296.5L231.1,296.4L231.3,304.5L223.7,304.7Z" fill="#14306a"/><path d="M230.8,296.4L238.4,296.2L238.6,304.3L231.0,304.5Z" fill="#132f69"/><path d="M238.1,296.2L260.2,295.7L260.4,303.8L238.3,304.3Z" fill="#102e64"/><path d="M259.9,295.7L267.5,295.5L267.7,303.6L260.1,303.8Z" fill="#112e65"/><path d="M267.2,295.5L274.8,295.3L274.9,303.5L267.4,303.6Z" fill="#15306d"/><path d="M274.5,295.3L282.0,295.1L282.2,303.3L274.6,303.5Z" fill="#263189"/><path d="M281.7,295.1L289.3,295.0L289.5,303.1L281.9,303.3Z" fill="#4034a0"/><path d="M289.0,295.0L303.9,294.6L304.0,302.8L289.2,303.1Z" fill="#4836a1"/><path d="M303.6,294.6L311.1,294.4L311.3,302.6L303.7,302.8Z" fill="#3b33a0"/><path d="M310.8,294.4L318.4,294.3L318.6,302.4L311.0,302.6Z" fill="#3a339f"/><path d="M318.1,294.3L325.7,294.1L325.8,302.2L318.3,302.4Z" fill="#3c33a0"/><path d="M325.4,294.1L333.0,293.9L333.1,302.1L325.5,302.2Z" fill="#68419b"/><path d="M107.4,307.2L144.0,306.3L144.2,314.4L107.6,315.3Z" fill="#2e3196"/><path d="M143.7,306.3L151.3,306.1L151.5,314.3L143.9,314.4Z" fill="#2e3197"/><path d="M151.0,306.1L158.6,306.0L158.8,314.1L151.2,314.3Z" fill="#3b33a0"/><path d="M158.3,306.0L165.8,305.8L166.1,313.9L158.5,314.1Z" fill="#4235a1"/><path d="M165.5,305.8L173.1,305.6L173.3,313.7L165.8,313.9Z" fill="#4836a1"/><path d="M172.8,305.6L180.4,305.4L180.6,313.6L173.0,313.7Z" fill="#34329b"/><path d="M180.1,305.4L187.7,305.3L187.9,313.4L180.3,313.6Z" fill="#253188"/><path d="M187.4,305.3L194.9,305.1L195.1,313.2L187.6,313.4Z" fill="#1f317d"/><path d="M194.6,305.1L202.2,304.9L202.4,313.0L194.8,313.2Z" fill="#1e317c"/><path d="M201.9,304.9L209.5,304.7L209.7,312.9L202.1,313.0Z" fill="#193072"/><path d="M209.2,304.7L216.8,304.6L217.0,312.7L209.4,312.9Z" fill="#183071"/><path d="M216.5,304.6L224.0,304.4L224.2,312.5L216.7,312.7Z" fill="#142f69"/><path d="M223.7,304.4L231.3,304.2L231.5,312.3L223.9,312.5Z" fill="#132f69"/><path d="M231.0,304.2L238.6,304.0L238.8,312.2L231.2,312.3Z" fill="#102e64"/><path d="M238.3,304.0L267.7,303.3L267.8,311.5L238.5,312.2Z" fill="#102e63"/><path d="M267.4,303.3L274.9,303.2L275.1,311.3L267.5,311.5Z" fill="#132f69"/><path d="M274.6,303.2L282.2,303.0L282.4,311.1L274.8,311.3Z" fill="#112e65"/><path d="M281.9,303.0L289.5,302.8L289.7,310.9L282.1,311.1Z" fill="#1f317c"/><path d="M289.2,302.8L296.8,302.6L296.9,310.8L289.4,310.9Z" fill="#20317e"/><path d="M296.5,302.6L304.0,302.5L304.2,310.6L296.6,310.8Z" fill="#20317f"/><path d="M303.7,302.5L318.6,302.1L318.7,310.2L303.9,310.6Z" fill="#20317e"/><path d="M318.3,302.1L325.8,301.9L326.0,310.1L318.4,310.2Z" fill="#213181"/><path d="M325.5,301.9L333.1,301.8L333.3,309.9L325.7,310.1Z" fill="#5138a0"/><path d="M332.8,301.8L340.4,301.6L340.6,309.7L333.0,309.9Z" fill="#6a429a"/><path d="M107.6,315.0L129.7,314.5L129.9,322.6L107.8,323.2Z" fill="#2d3196"/><path d="M136.7,314.3L151.5,314.0L151.7,322.1L136.9,322.5Z" fill="#2d3196"/><path d="M151.2,314.0L158.8,313.8L159.0,321.9L151.4,322.1Z" fill="#2e3196"/><path d="M158.5,313.8L166.1,313.6L166.3,321.8L158.7,321.9Z" fill="#2d3196"/><path d="M165.8,313.6L173.3,313.4L173.5,321.6L166.0,321.8Z" fill="#263189"/><path d="M173.0,313.4L180.6,313.3L180.8,321.4L173.2,321.6Z" fill="#20317f"/><path d="M180.3,313.3L187.9,313.1L188.1,321.2L180.5,321.4Z" fill="#1e317c"/><path d="M187.6,313.1L195.1,312.9L195.3,321.1L187.8,321.2Z" fill="#193073"/><path d="M194.8,312.9L202.4,312.7L202.6,320.9L195.0,321.1Z" fill="#183071"/><path d="M202.1,312.7L209.7,312.6L209.9,320.7L202.3,320.9Z" fill="#142f6a"/><path d="M209.4,312.6L217.0,312.4L217.1,320.5L209.6,320.7Z" fill="#132f69"/><path d="M216.7,312.4L224.2,312.2L224.4,320.4L216.8,320.5Z" fill="#102e64"/><path d="M223.9,312.2L246.0,311.7L246.2,319.8L224.1,320.4Z" fill="#102e63"/><path d="M245.7,311.7L253.3,311.5L253.5,319.7L245.9,319.8Z" fill="#132f68"/><path d="M253.0,311.5L275.1,311.0L275.3,319.1L253.2,319.7Z" fill="#102e63"/><path d="M274.8,311.0L282.4,310.8L282.6,319.0L275.0,319.1Z" fill="#0d2d5e"/><path d="M282.1,310.8L289.7,310.6L289.8,318.8L282.3,319.0Z" fill="#102e63"/><path d="M289.4,310.6L296.9,310.5L297.1,318.6L289.5,318.8Z" fill="#112e64"/><path d="M296.6,310.5L304.2,310.3L304.4,318.4L296.8,318.6Z" fill="#183070"/><path d="M303.9,310.3L318.7,309.9L318.9,318.1L304.1,318.4Z" fill="#183071"/><path d="M318.4,309.9L326.0,309.8L326.2,317.9L318.6,318.1Z" fill="#1a3074"/><path d="M325.7,309.8L333.3,309.6L333.4,317.7L325.9,317.9Z" fill="#3b33a0"/><path d="M333.0,309.6L340.6,309.4L340.7,317.6L333.1,317.7Z" fill="#52389f"/><path d="M107.8,322.9L122.7,322.5L122.9,330.6L108.0,331.0Z" fill="#2d3196"/><path d="M129.6,322.3L151.7,321.8L151.9,329.9L129.8,330.5Z" fill="#2d3196"/><path d="M151.4,321.8L159.0,321.6L159.2,329.8L151.6,329.9Z" fill="#2d3195"/><path d="M158.7,321.6L166.3,321.5L166.5,329.6L158.9,329.8Z" fill="#253187"/><path d="M166.0,321.5L173.5,321.3L173.7,329.4L166.2,329.6Z" fill="#1f317d"/><path d="M173.2,321.3L180.8,321.1L181.0,329.2L173.4,329.4Z" fill="#1e317c"/><path d="M180.5,321.1L188.1,320.9L188.3,329.1L180.7,329.2Z" fill="#193073"/><path d="M187.8,320.9L195.3,320.8L195.5,328.9L188.0,329.1Z" fill="#183071"/><path d="M195.0,320.8L202.6,320.6L202.8,328.7L195.2,328.9Z" fill="#142f6a"/><path d="M202.3,320.6L209.9,320.4L210.1,328.6L202.5,328.7Z" fill="#132f69"/><path d="M209.6,320.4L217.1,320.2L217.3,328.4L209.8,328.6Z" fill="#102e64"/><path d="M216.8,320.2L275.3,318.8L275.5,327.0L217.0,328.4Z" fill="#102e63"/><path d="M275.0,318.8L297.1,318.3L297.3,326.4L275.2,327.0Z" fill="#0d2d5d"/><path d="M296.8,318.3L318.9,317.8L319.1,325.9L297.0,326.4Z" fill="#102e63"/><path d="M318.6,317.8L326.2,317.6L326.3,325.8L318.8,325.9Z" fill="#112e64"/><path d="M325.9,317.6L333.4,317.4L333.6,325.6L326.0,325.8Z" fill="#2d3195"/><path d="M333.1,317.4L340.7,317.3L340.9,325.4L333.3,325.6Z" fill="#4a36a1"/><path d="M108.0,330.7L115.6,330.5L115.8,338.7L108.3,338.8Z" fill="#2d3196"/><path d="M129.8,330.2L151.9,329.6L152.2,337.8L130.1,338.3Z" fill="#2d3196"/><path d="M151.6,329.6L159.2,329.5L159.4,337.6L151.9,337.8Z" fill="#2d3195"/><path d="M158.9,329.5L166.5,329.3L166.7,337.4L159.1,337.6Z" fill="#253187"/><path d="M166.2,329.3L173.7,329.1L174.0,337.3L166.4,337.4Z" fill="#1f317d"/><path d="M173.4,329.1L181.0,328.9L181.2,337.1L173.7,337.3Z" fill="#1e317c"/><path d="M180.7,328.9L188.3,328.8L188.5,336.9L180.9,337.1Z" fill="#193072"/><path d="M188.0,328.8L195.5,328.6L195.8,336.7L188.2,336.9Z" fill="#183071"/><path d="M195.2,328.6L202.8,328.4L203.0,336.6L195.5,336.7Z" fill="#142f69"/><path d="M202.5,328.4L210.1,328.2L210.3,336.4L202.7,336.6Z" fill="#132f69"/><path d="M209.8,328.2L275.5,326.7L275.7,334.8L210.0,336.4Z" fill="#102e63"/><path d="M275.2,326.7L282.7,326.5L282.9,334.6L275.4,334.8Z" fill="#0d2d5d"/><path d="M282.4,326.5L290.0,326.3L290.2,334.5L282.6,334.6Z" fill="#0b2b55"/><path d="M289.7,326.3L297.3,326.1L297.5,334.3L289.9,334.5Z" fill="#0b2b54"/><path d="M297.0,326.1L319.1,325.6L319.2,333.8L297.2,334.3Z" fill="#09294d"/><path d="M318.8,325.6L326.3,325.4L326.5,333.6L318.9,333.8Z" fill="#09294f"/><path d="M326.0,325.4L333.6,325.3L333.8,333.4L326.2,333.6Z" fill="#243186"/><path d="M333.3,325.3L340.9,325.1L341.0,333.2L333.5,333.4Z" fill="#4936a1"/><path d="M340.6,325.1L348.1,324.9L348.3,333.1L340.7,333.2Z" fill="#583a9e"/><path d="M108.3,338.5L115.8,338.4L116.1,346.5L108.5,346.7Z" fill="#2e3196"/><path d="M130.1,338.0L152.2,337.5L152.4,345.6L130.3,346.2Z" fill="#2e3196"/><path d="M151.9,337.5L159.4,337.3L159.6,345.5L152.1,345.6Z" fill="#2d3196"/><path d="M159.1,337.3L166.7,337.1L166.9,345.3L159.3,345.5Z" fill="#253187"/><path d="M166.4,337.1L174.0,337.0L174.2,345.1L166.6,345.3Z" fill="#1f317d"/><path d="M173.7,337.0L181.2,336.8L181.4,344.9L173.9,345.1Z" fill="#1e317c"/><path d="M180.9,336.8L188.5,336.6L188.7,344.8L181.1,344.9Z" fill="#193072"/><path d="M188.2,336.6L195.8,336.4L196.0,344.6L188.4,344.8Z" fill="#183071"/><path d="M195.5,336.4L203.0,336.3L203.2,344.4L195.7,344.6Z" fill="#142f69"/><path d="M202.7,336.3L210.3,336.1L210.5,344.2L202.9,344.4Z" fill="#132f69"/><path d="M210.0,336.1L275.7,334.5L275.8,342.7L210.2,344.2Z" fill="#102e63"/><path d="M275.4,334.5L282.9,334.3L283.1,342.5L275.5,342.7Z" fill="#0b2b56"/><path d="M282.6,334.3L290.2,334.2L290.4,342.3L282.8,342.5Z" fill="#0b2b54"/><path d="M289.9,334.2L297.5,334.0L297.6,342.1L290.1,342.3Z" fill="#09294d"/><path d="M297.2,334.0L304.7,333.8L304.9,342.0L297.3,342.1Z" fill="#08284c"/><path d="M304.4,333.8L312.0,333.6L312.2,341.8L304.6,342.0Z" fill="#072746"/><path d="M311.7,333.6L319.2,333.5L319.4,341.6L311.9,341.8Z" fill="#072745"/><path d="M318.9,333.5L326.5,333.3L326.7,341.4L319.1,341.6Z" fill="#072747"/><path d="M326.2,333.3L333.8,333.1L333.9,341.3L326.4,341.4Z" fill="#1f317d"/><path d="M333.5,333.1L341.0,332.9L341.2,341.1L333.6,341.3Z" fill="#4936a1"/><path d="M340.7,332.9L348.3,332.8L348.5,340.9L340.9,341.1Z" fill="#583a9e"/><path d="M108.5,346.4L152.4,345.3L152.6,353.5L108.7,354.5Z" fill="#34329b"/><path d="M152.1,345.3L159.6,345.2L159.9,353.3L152.3,353.5Z" fill="#33329a"/><path d="M159.3,345.2L166.9,345.0L167.1,353.1L159.6,353.3Z" fill="#253187"/><path d="M166.6,345.0L174.2,344.8L174.4,352.9L166.8,353.1Z" fill="#1f317d"/><path d="M173.9,344.8L181.4,344.6L181.6,352.8L174.1,352.9Z" fill="#1e317c"/><path d="M181.1,344.6L188.7,344.5L188.9,352.6L181.3,352.8Z" fill="#193072"/><path d="M188.4,344.5L196.0,344.3L196.2,352.4L188.6,352.6Z" fill="#183071"/><path d="M195.7,344.3L203.2,344.1L203.4,352.2L195.9,352.4Z" fill="#142f69"/><path d="M202.9,344.1L210.5,343.9L210.7,352.1L203.1,352.2Z" fill="#132f69"/><path d="M210.2,343.9L275.8,342.4L276.0,350.5L210.4,352.1Z" fill="#102e63"/><path d="M275.5,342.4L283.1,342.2L283.3,350.3L275.7,350.5Z" fill="#0b2b55"/><path d="M282.8,342.2L290.4,342.0L290.5,350.1L283.0,350.3Z" fill="#0b2b54"/><path d="M290.1,342.0L297.6,341.8L297.8,350.0L290.2,350.1Z" fill="#09294c"/><path d="M297.3,341.8L304.9,341.7L305.1,349.8L297.5,350.0Z" fill="#08284c"/><path d="M304.6,341.7L319.4,341.3L319.6,349.4L304.8,349.8Z" fill="#072745"/><path d="M319.1,341.3L326.7,341.1L326.8,349.3L319.3,349.4Z" fill="#072747"/><path d="M326.4,341.1L333.9,341.0L334.1,349.1L326.5,349.3Z" fill="#1f317c"/><path d="M333.6,341.0L341.2,340.8L341.4,348.9L333.8,349.1Z" fill="#4936a1"/><path d="M340.9,340.8L348.5,340.6L348.6,348.7L341.1,348.9Z" fill="#583a9e"/></g><path d="M348.6,357.0C348.5,354.5 348.2,346.3 348.0,342.0C347.8,337.7 347.8,333.9 347.5,331.0C347.2,328.1 346.8,326.5 346.0,324.7C345.2,322.9 343.6,322.0 342.7,320.4C341.8,318.8 341.1,316.7 340.5,315.0C339.9,313.3 339.6,311.7 339.0,310.0C338.4,308.3 337.8,306.5 337.0,305.0C336.2,303.5 335.2,302.3 334.0,301.0C332.8,299.7 331.5,298.2 330.0,297.0C328.5,295.8 326.7,294.6 325.0,294.0C323.3,293.4 320.6,294.5 320.0,293.5C319.4,292.5 321.1,289.8 321.5,288.0C321.9,286.2 322.6,284.5 322.5,283.0C322.4,281.5 321.5,280.2 321.0,279.0C320.5,277.8 319.8,277.0 319.5,276.0C319.2,275.0 319.2,274.3 319.0,273.0C318.8,271.7 318.4,269.5 318.0,268.0C317.6,266.5 316.3,265.3 316.5,264.0C316.7,262.7 317.6,261.5 319.0,260.0C320.4,258.5 323.3,256.8 325.0,255.0C326.7,253.2 327.8,250.7 329.0,249.0C330.2,247.3 331.3,246.5 332.0,245.0C332.7,243.5 332.7,242.2 333.0,240.0C333.3,237.8 333.5,234.2 334.0,232.0C334.5,229.8 335.2,228.7 336.0,227.0C336.8,225.3 337.8,223.7 339.0,222.0C340.2,220.3 341.9,218.7 343.0,217.0C344.1,215.3 344.7,214.0 345.5,212.0C346.3,210.0 347.2,207.0 348.0,205.0C348.8,203.0 349.0,203.0 350.0,200.0C351.0,197.0 352.9,190.8 354.0,187.0C355.1,183.2 355.7,179.7 356.3,177.0C356.9,174.3 357.4,173.1 357.9,170.7C358.4,168.2 358.9,164.6 359.4,162.3C359.9,160.0 359.9,159.1 361.0,157.0C362.1,154.9 364.5,152.3 365.7,149.7C366.9,147.1 367.3,143.8 368.4,141.3C369.5,138.9 371.3,136.9 372.5,135.0C373.7,133.1 374.4,131.8 375.7,129.7C376.9,127.6 378.4,124.4 380.0,122.3C381.6,120.2 383.1,118.5 385.2,117.0C387.3,115.5 389.7,114.4 392.5,113.4C395.3,112.4 399.6,111.6 402.0,110.8C404.4,110.0 406.1,108.7 407.2,108.4C408.2,108.1 407.8,108.5 408.3,109.2C408.8,110.0 410.0,111.8 410.2,112.9C410.4,114.0 410.0,114.8 409.3,116.0C408.6,117.2 407.1,118.5 406.2,120.2C405.3,122.0 404.6,124.0 404.0,126.5C403.4,129.0 403.0,131.8 402.5,135.0C402.0,138.2 401.3,142.0 400.9,145.5C400.5,149.0 400.3,152.7 399.9,156.0C399.5,159.3 398.8,162.9 398.3,165.5C397.8,168.1 397.2,170.2 396.7,171.8C396.1,173.4 395.5,173.1 395.0,175.0C394.5,176.9 393.3,180.7 393.5,183.0C393.7,185.3 394.9,187.0 396.0,189.0C397.1,191.0 398.9,193.0 400.0,195.0C401.1,197.0 402.3,198.8 402.5,201.0C402.7,203.2 401.4,205.9 401.0,208.0C400.6,210.1 400.0,212.2 400.0,213.5C400.0,214.8 400.2,215.2 400.8,215.6C401.4,215.9 403.0,216.0 403.6,215.6C404.2,215.2 404.2,214.1 404.5,213.0C404.8,211.9 405.0,210.0 405.5,209.0C406.0,208.0 406.7,207.0 407.5,207.0C408.3,207.0 409.8,207.7 410.5,209.0C411.2,210.3 411.5,213.4 411.5,215.0C411.5,216.6 411.2,217.6 410.5,218.5C409.8,219.4 408.2,219.5 407.0,220.5C405.8,221.5 404.4,223.3 403.5,224.5C402.6,225.7 402.0,226.1 401.8,227.5C401.6,228.9 402.3,231.6 402.5,233.0C402.7,234.4 403.3,234.4 403.0,236.0C402.7,237.6 400.6,240.7 400.5,242.5C400.4,244.3 401.3,245.6 402.5,247.0C403.7,248.4 405.8,250.4 407.5,251.0C409.2,251.6 410.9,251.5 412.5,250.8C414.1,250.1 415.8,248.6 417.0,247.0C418.2,245.4 419.0,242.9 420.0,241.5C421.0,240.1 422.5,239.0 423.0,238.5" fill="none" stroke="#808080" stroke-width="1.1" stroke-linejoin="round"/><path d="M102,49.5L110.8,355.5M147.9,49.5L156.3,355.5M193.8,49.5L201.8,355.5M239.7,49.5L247.3,355.5M285.7,49.5L292.8,355.5M331.8,49.5L337.8,355.5M377.8,49.5L383.7,355.5M423.8,49.5L429,355.5M100.5,77.5L421.5,70.2M100.5,116.8L421.5,109.5M100.5,156.5L421.5,149.2M100.5,195.5L421.5,188.2M100.5,234.7L421.5,227.39999999999998M100.5,274L421.5,266.7M100.5,313.3L421.5,306.0M100.5,352.6L421.5,345.3" fill="none" stroke="#b8b8b8" stroke-width="1.2" opacity="0.88"/><path d="M206.1,56.9L206.1,57.6L206.1,57.6L206.5,58.4L207.0,57.6L206.9,57.6L206.9,56.9ZM213.0,57.5L213.6,57.8L213.6,57.9L214.6,57.8L214.0,57.0L214.0,57.1L213.3,56.8ZM257.0,56.6L257.7,56.8L257.7,56.9L258.6,56.7L258.0,56.0L258.0,56.1L257.3,55.8ZM279.4,55.9L279.9,55.4L280.5,55.9L279.9,56.5ZM286.7,55.8L287.3,55.2L287.8,55.8L287.3,56.3ZM294.7,56.4L294.9,55.8L295.0,55.8L294.9,54.9L294.2,55.5L294.2,55.5L294.0,56.1ZM301.4,55.4L301.9,54.9L302.5,55.4L301.9,56.0ZM316.8,55.8L317.0,55.2L317.0,55.2L316.8,54.4L316.2,55.0L316.2,55.0L316.0,55.6ZM272.2,63.9L272.8,63.4L273.3,63.9L272.8,64.5ZM294.2,63.4L294.8,62.9L295.3,63.4L294.8,64.0ZM302.1,64.1L302.4,63.5L302.5,63.5L302.5,62.6L301.7,63.1L301.7,63.1L301.4,63.7ZM272.4,71.8L272.9,71.2L273.5,71.8L272.9,72.3ZM287.1,72.2L287.7,71.8L287.8,71.9L288.3,71.1L287.3,71.1L287.4,71.1L286.7,71.4ZM294.8,72.2L295.2,71.5L295.3,71.6L295.4,70.6L294.5,71.1L294.6,71.1L294.2,71.7ZM317.0,71.5L317.3,71.0L317.3,71.0L317.3,70.1L316.6,70.6L316.6,70.6L316.3,71.1ZM207.3,80.4L206.9,80.9L206.9,80.9L206.7,81.7L207.5,81.4L207.5,81.4L207.9,81.0ZM213.9,81.0L214.5,80.5L215.0,81.0L214.5,81.6ZM221.0,80.9L221.6,81.2L221.5,81.2L222.4,81.2L221.9,80.4L221.9,80.5L221.3,80.2ZM228.4,80.2L228.7,80.8L228.7,80.8L229.5,81.3L229.5,80.4L229.4,80.4L229.1,79.8ZM250.6,80.2L251.1,79.6L251.7,80.2L251.1,80.7ZM257.9,80.0L258.5,79.4L259.0,80.0L258.5,80.5ZM280.1,80.2L280.6,79.8L280.6,79.8L281.0,79.1L280.2,79.1L280.2,79.2L279.7,79.5ZM287.4,80.0L288.0,79.6L288.0,79.7L288.4,78.9L287.5,79.0L287.5,79.0L287.0,79.3ZM302.7,79.7L302.8,79.1L302.9,79.1L302.6,78.2L302.0,78.9L302.0,78.9L301.9,79.6ZM177.9,88.9L177.7,89.5L177.7,89.5L177.7,90.4L178.4,89.9L178.4,89.8L178.7,89.3ZM235.9,88.0L236.3,88.5L236.3,88.5L237.1,88.9L236.9,88.0L236.9,88.0L236.5,87.5ZM243.4,88.2L244.0,87.6L244.5,88.2L244.0,88.7ZM250.8,88.0L251.3,87.4L251.9,88.0L251.3,88.5ZM302.1,86.8L302.6,86.2L303.2,86.8L302.6,87.3ZM309.4,86.6L310.0,86.0L310.5,86.6L310.0,87.1ZM126.4,99.5L127.0,99.2L127.0,99.3L127.6,98.5L126.6,98.4L126.7,98.5L126.0,98.8ZM163.5,98.7L163.8,98.2L163.8,98.2L163.9,97.4L163.2,97.8L163.2,97.8L162.9,98.2ZM170.3,97.8L170.9,97.2L171.4,97.8L170.9,98.3ZM265.6,95.5L266.2,94.9L266.7,95.5L266.2,96.0ZM287.8,95.7L288.3,95.3L288.3,95.3L288.7,94.6L287.9,94.6L287.9,94.6L287.3,95.0ZM331.6,94.6L332.2,94.3L332.2,94.3L332.8,93.6L331.9,93.5L331.9,93.6L331.3,93.8ZM163.2,105.8L163.8,105.2L164.3,105.8L163.8,106.3ZM170.5,105.6L171.1,105.0L171.6,105.6L171.1,106.1ZM185.2,105.2L185.7,104.7L186.3,105.2L185.7,105.8ZM192.5,105.1L193.1,104.5L193.6,105.1L193.1,105.6ZM295.7,103.4L296.0,102.8L296.0,102.8L295.9,102.0L295.3,102.5L295.3,102.5L295.0,103.1ZM325.3,102.7L325.3,102.0L325.4,102.0L325.0,101.2L324.5,101.9L324.5,101.9L324.5,102.6ZM104.7,115.4L105.3,115.4L105.3,115.4L106.1,115.0L105.3,114.6L105.3,114.6L104.7,114.6ZM156.3,113.1L156.3,113.7L156.2,113.7L156.6,114.5L157.1,113.7L157.1,113.7L157.1,113.1ZM170.8,113.4L171.3,112.9L171.9,113.4L171.3,114.0ZM178.1,113.3L178.6,112.7L179.2,113.3L178.6,113.8ZM192.7,112.9L193.3,112.4L193.8,112.9L193.3,113.5ZM258.6,111.3L259.2,110.8L259.7,111.3L259.2,111.9ZM324.6,109.8L325.1,109.2L325.7,109.8L325.1,110.3ZM368.5,108.7L369.1,108.2L369.6,108.7L369.1,109.3ZM397.8,108.0L398.4,107.5L398.9,108.0L398.4,108.6ZM126.8,122.1L127.2,122.5L127.2,122.6L128.0,122.9L127.8,122.0L127.8,122.0L127.4,121.5ZM163.6,121.5L164.2,120.9L164.7,121.5L164.2,122.0ZM178.3,121.1L178.8,120.6L179.4,121.1L178.8,121.7ZM185.6,120.9L186.2,120.4L186.7,120.9L186.2,121.5ZM273.4,119.4L274.0,119.2L274.0,119.3L274.8,118.7L273.9,118.4L273.9,118.4L273.2,118.6ZM288.1,118.5L288.7,117.9L289.2,118.5L288.7,119.0ZM383.3,116.2L383.9,115.7L384.4,116.2L383.9,116.8ZM178.5,128.9L179.0,128.4L179.6,128.9L179.0,129.5ZM200.5,127.8L200.6,128.4L200.6,128.4L201.2,129.1L201.4,128.3L201.4,128.3L201.3,127.6ZM236.9,127.1L237.2,127.7L237.2,127.7L237.9,128.1L237.9,127.3L237.9,127.3L237.7,126.8ZM266.3,126.8L266.9,126.3L267.4,126.8L266.9,127.4ZM288.3,126.3L288.8,125.8L289.4,126.3L288.8,126.9ZM324.9,125.4L325.4,124.9L326.0,125.4L325.4,126.0ZM339.5,125.1L340.1,124.5L340.6,125.1L340.1,125.6ZM370.2,124.6L369.7,124.1L369.7,124.1L368.8,123.9L369.1,124.8L369.2,124.7L369.7,125.2ZM377.1,123.6L376.6,123.8L376.6,123.8L376.1,124.5L376.9,124.6L376.9,124.5L377.5,124.3ZM164.1,137.1L164.6,136.6L165.2,137.1L164.6,137.7ZM171.4,137.0L171.9,136.4L172.5,137.0L171.9,137.5ZM179.4,136.0L179.0,136.5L179.0,136.5L178.8,137.3L179.6,137.0L179.6,137.0L180.0,136.6ZM193.3,136.4L193.9,135.9L194.4,136.4L193.9,137.0ZM200.7,136.3L201.2,135.7L201.8,136.3L201.2,136.8ZM244.6,135.2L245.1,134.7L245.7,135.2L245.1,135.8ZM282.2,134.9L282.1,134.3L282.1,134.3L281.6,133.7L281.3,134.5L281.3,134.5L281.4,135.1ZM346.8,133.0L347.4,133.1L347.4,133.2L348.3,132.9L347.6,132.3L347.6,132.4L347.0,132.2ZM354.3,132.6L354.9,132.0L355.4,132.6L354.9,133.1ZM361.7,132.4L362.2,131.9L362.8,132.4L362.2,133.0ZM369.0,132.2L369.5,131.7L370.1,132.2L369.5,132.8ZM171.6,144.8L172.1,144.2L172.7,144.8L172.1,145.3ZM186.2,144.4L186.8,143.9L187.3,144.4L186.8,145.0ZM200.9,144.1L201.4,143.5L202.0,144.1L201.4,144.6ZM253.4,143.0L252.9,142.6L252.9,142.6L252.1,142.4L252.4,143.2L252.4,143.2L252.9,143.6ZM260.6,142.4L260.0,142.3L260.0,142.3L259.3,142.6L260.0,143.1L260.0,143.1L260.5,143.2ZM274.0,142.3L274.6,141.8L275.1,142.3L274.6,142.9ZM332.5,140.9L333.1,140.4L333.6,140.9L333.1,141.5ZM339.9,140.8L340.4,140.2L341.0,140.8L340.4,141.3ZM347.2,140.6L347.7,140.0L348.3,140.6L347.7,141.1ZM361.8,140.2L362.4,139.7L362.9,140.2L362.4,140.8ZM106.5,153.3L106.2,154.0L106.1,154.0L106.2,154.9L107.0,154.3L106.9,154.3L107.2,153.7ZM136.5,152.9L135.8,153.1L135.7,153.0L135.0,153.7L136.0,153.9L136.0,153.9L136.7,153.7ZM142.6,153.3L143.1,152.8L143.7,153.3L143.1,153.9ZM150.1,152.4L150.0,153.0L150.0,153.0L150.3,153.9L150.8,153.2L150.8,153.2L150.9,152.5ZM164.5,152.8L165.0,152.3L165.6,152.8L165.0,153.4ZM186.4,152.3L187.0,151.7L187.5,152.3L187.0,152.8ZM244.9,150.9L245.5,150.3L246.0,150.9L245.5,151.4ZM259.6,150.5L260.1,150.0L260.7,150.5L260.1,151.1ZM274.2,150.2L274.7,149.6L275.3,150.2L274.7,150.7ZM355.3,147.5L354.9,148.0L354.9,148.0L354.8,148.8L355.5,148.4L355.6,148.4L355.9,148.0ZM362.0,148.1L362.5,147.5L363.1,148.1L362.5,148.6ZM179.3,160.3L179.9,159.8L180.4,160.3L179.9,160.9ZM186.6,160.1L187.2,159.6L187.7,160.1L187.2,160.7ZM194.0,160.0L194.5,159.4L195.1,160.0L194.5,160.5ZM245.8,157.9L245.4,158.4L245.4,158.4L245.2,159.3L246.1,158.9L246.0,158.9L246.4,158.4ZM253.8,158.7L253.3,158.3L253.3,158.3L252.5,158.1L252.8,158.9L252.8,158.9L253.2,159.3ZM267.1,158.2L267.6,157.7L268.2,158.2L267.6,158.8ZM289.0,157.7L289.6,157.1L290.1,157.7L289.6,158.2ZM347.5,156.3L348.0,155.7L348.6,156.3L348.0,156.8ZM354.8,156.1L355.4,155.6L355.9,156.1L355.4,156.7ZM186.8,168.0L187.4,167.4L187.9,168.0L187.4,168.5ZM201.5,167.6L202.0,167.1L202.6,167.6L202.0,168.2ZM245.3,166.6L245.9,166.0L246.4,166.6L245.9,167.1ZM267.2,166.0L267.8,165.5L268.3,166.0L267.8,166.6ZM274.6,165.9L275.1,165.3L275.7,165.9L275.1,166.4ZM281.9,165.7L282.4,165.1L283.0,165.7L282.4,166.2ZM289.2,165.5L289.7,165.0L290.3,165.5L289.7,166.1ZM340.3,164.3L340.9,163.7L341.4,164.3L340.9,164.8ZM355.0,163.9L355.5,163.4L356.1,163.9L355.5,164.5ZM158.9,175.8L158.3,176.1L158.3,176.0L157.6,176.8L158.6,176.9L158.6,176.8L159.3,176.5ZM165.1,176.3L165.7,175.8L166.2,176.3L165.7,176.9ZM172.4,176.2L173.0,175.6L173.5,176.2L173.0,176.7ZM194.4,175.6L194.9,175.1L195.5,175.6L194.9,176.2ZM239.1,173.8L238.6,174.2L238.5,174.2L238.2,175.0L239.1,174.9L239.1,174.9L239.6,174.5ZM245.5,174.4L246.1,173.9L246.6,174.4L246.1,175.0ZM274.7,173.7L275.3,173.2L275.8,173.7L275.3,174.3ZM340.5,172.1L341.1,171.6L341.6,172.1L341.1,172.7ZM347.8,172.0L348.4,171.4L348.9,172.0L348.4,172.5ZM173.9,183.7L173.3,183.6L173.3,183.6L172.5,183.9L173.2,184.4L173.2,184.4L173.8,184.5ZM187.3,183.6L187.8,183.1L188.4,183.6L187.8,184.2ZM203.2,183.2L202.6,183.0L202.6,183.0L201.8,183.0L202.3,183.7L202.3,183.7L202.9,183.9ZM245.7,182.2L246.2,181.7L246.8,182.2L246.2,182.8ZM253.0,182.1L253.6,181.5L254.1,182.1L253.6,182.6ZM261.3,182.6L261.3,182.0L261.3,182.0L260.9,181.2L260.5,182.0L260.5,182.0L260.5,182.6ZM282.2,181.4L282.8,180.8L283.3,181.4L282.8,181.9ZM333.6,179.4L333.5,180.0L333.5,180.0L333.8,180.9L334.3,180.1L334.3,180.1L334.4,179.5ZM340.7,180.0L341.2,179.4L341.8,180.0L341.2,180.5ZM348.0,179.8L348.5,179.2L349.1,179.8L348.5,180.3ZM181.4,191.2L180.7,191.3L180.7,191.3L180.0,191.7L180.8,192.1L180.8,192.1L181.4,192.0ZM187.5,191.5L188.0,190.9L188.6,191.5L188.0,192.0ZM194.8,191.3L195.3,190.8L195.9,191.3L195.3,191.9ZM202.8,190.3L202.4,190.8L202.4,190.8L202.1,191.7L203.0,191.4L203.0,191.4L203.4,190.9ZM267.8,189.6L268.3,189.0L268.9,189.6L268.3,190.1ZM282.4,189.2L283.0,188.7L283.5,189.2L283.0,189.8ZM289.7,188.5L289.9,189.1L289.8,189.1L290.4,189.7L290.6,188.9L290.6,188.9L290.5,188.3ZM297.0,188.3L297.2,188.9L297.1,188.9L297.8,189.5L297.9,188.7L297.9,188.7L297.7,188.1ZM275.3,197.2L275.8,196.7L276.4,197.2L275.8,197.8ZM282.6,197.1L283.1,196.5L283.7,197.1L283.1,197.6ZM296.8,196.6L297.4,197.0L297.4,197.1L298.4,197.1L297.9,196.3L297.9,196.3L297.3,195.9ZM311.6,195.9L312.0,196.5L311.9,196.5L312.7,197.0L312.7,196.1L312.6,196.1L312.3,195.5ZM340.7,195.8L341.3,196.0L341.3,196.0L342.2,195.9L341.6,195.2L341.6,195.3L341.0,195.0ZM348.3,195.5L348.8,194.9L349.4,195.5L348.8,196.0ZM158.7,207.9L159.2,207.3L159.8,207.9L159.2,208.4ZM180.6,207.3L181.1,206.8L181.7,207.3L181.1,207.9ZM246.6,206.5L247.0,206.1L247.0,206.1L247.3,205.3L246.5,205.5L246.5,205.5L246.0,205.9ZM253.6,205.6L254.1,205.0L254.7,205.6L254.1,206.1ZM267.9,204.9L268.4,205.4L268.3,205.5L269.2,205.8L269.0,204.9L269.0,204.9L268.5,204.4ZM275.5,205.1L276.0,204.5L276.6,205.1L276.0,205.6ZM283.0,204.2L282.9,204.8L282.9,204.8L283.3,205.5L283.7,204.9L283.7,204.9L283.8,204.3ZM312.3,203.4L312.1,204.0L312.1,204.0L312.3,204.9L312.9,204.2L312.9,204.2L313.1,203.6ZM319.0,204.3L319.7,204.4L319.7,204.4L320.5,204.1L319.8,203.6L319.8,203.6L319.1,203.5ZM341.3,204.2L341.9,203.9L341.9,203.9L342.3,203.1L341.4,203.2L341.4,203.2L340.9,203.5ZM158.9,215.7L159.4,215.2L160.0,215.7L159.4,216.3ZM166.2,215.5L166.7,215.0L167.3,215.5L166.7,216.1ZM180.8,215.2L181.3,214.6L181.9,215.2L181.3,215.7ZM202.7,214.7L203.2,214.1L203.8,214.7L203.2,215.2ZM224.6,214.1L225.1,213.6L225.7,214.1L225.1,214.7ZM166.4,223.4L167.0,222.8L167.5,223.4L167.0,223.9ZM188.3,222.8L188.8,222.3L189.4,222.8L188.8,223.4ZM202.9,222.5L203.4,221.9L204.0,222.5L203.4,223.0ZM210.2,222.3L210.7,221.8L211.3,222.3L210.7,222.9ZM159.3,231.4L159.9,230.8L160.4,231.4L159.9,231.9ZM196.0,229.7L195.9,230.4L195.9,230.4L196.3,231.3L196.8,230.5L196.7,230.5L196.8,229.8ZM231.9,229.5L232.5,229.9L232.4,230.0L233.4,230.1L233.0,229.2L233.0,229.3L232.4,228.8ZM239.5,228.9L239.7,229.5L239.7,229.5L240.3,230.1L240.5,229.3L240.5,229.3L240.3,228.7ZM253.9,228.9L254.3,229.3L254.3,229.4L255.2,229.7L254.9,228.7L254.9,228.8L254.4,228.3ZM109.4,239.7L108.9,240.1L108.9,240.1L108.4,240.9L109.4,240.8L109.3,240.7L109.9,240.4ZM115.8,240.3L116.3,239.7L116.9,240.3L116.3,240.8ZM139.0,239.7L138.5,239.4L138.5,239.4L137.6,239.4L138.1,240.1L138.1,240.1L138.6,240.4ZM181.4,238.7L182.0,238.2L182.5,238.7L182.0,239.3ZM167.0,246.9L167.6,246.3L168.1,246.9L167.6,247.4ZM181.6,246.5L182.2,246.0L182.7,246.5L182.2,247.1ZM188.9,246.4L189.5,245.8L190.0,246.4L189.5,246.9ZM283.8,251.9L284.4,251.4L284.9,251.9L284.4,252.5ZM305.8,250.7L305.8,251.4L305.8,251.4L306.3,252.2L306.7,251.3L306.6,251.3L306.6,250.6ZM145.6,263.1L146.2,262.5L146.7,263.1L146.2,263.6ZM152.9,262.9L153.4,262.4L154.0,262.9L153.4,263.5ZM182.0,262.2L182.6,261.7L183.1,262.2L182.6,262.8ZM145.8,270.9L146.4,270.4L146.9,270.9L146.4,271.5ZM153.1,270.8L153.7,270.2L154.2,270.8L153.7,271.3ZM160.4,270.6L160.9,270.0L161.5,270.6L160.9,271.1ZM175.0,270.2L175.5,269.7L176.1,270.2L175.5,270.8ZM146.0,278.8L146.6,278.2L147.1,278.8L146.6,279.3ZM168.1,286.1L168.6,285.5L169.2,286.1L168.6,286.6ZM320.9,282.4L321.5,281.9L322.0,282.4L321.5,283.0ZM160.8,294.3L161.4,294.5L161.4,294.5L162.2,294.3L161.6,293.7L161.6,293.7L161.0,293.5ZM168.3,293.9L168.9,293.4L169.4,293.9L168.9,294.5ZM175.6,293.8L176.1,293.2L176.7,293.8L176.1,294.3ZM212.0,292.9L212.5,292.3L213.1,292.9L212.5,293.4ZM110.3,303.2L110.9,302.6L111.4,303.2L110.9,303.7ZM124.9,302.8L125.4,302.3L126.0,302.8L125.4,303.4ZM139.4,302.5L140.0,301.9L140.5,302.5L140.0,303.0ZM154.0,302.1L154.5,301.6L155.1,302.1L154.5,302.7ZM175.8,301.6L176.3,301.0L176.9,301.6L176.3,302.1ZM284.9,299.0L285.5,298.4L286.0,299.0L285.5,299.5ZM292.1,298.4L292.3,298.9L292.3,298.9L293.0,299.4L293.1,298.5L293.1,298.6L292.8,298.0ZM299.5,298.6L300.0,298.1L300.6,298.6L300.0,299.2ZM321.1,298.4L321.7,298.5L321.7,298.5L322.5,298.2L321.8,297.7L321.8,297.7L321.2,297.6ZM125.1,310.7L125.7,310.1L126.2,310.7L125.7,311.2ZM132.4,310.5L132.9,309.9L133.5,310.5L132.9,311.0ZM306.9,306.3L307.4,305.7L308.0,306.3L307.4,306.8ZM328.7,305.8L329.3,305.2L329.8,305.8L329.3,306.3ZM125.3,318.5L125.9,318.0L126.4,318.5L125.9,319.1ZM308.4,313.8L307.8,313.7L307.8,313.7L306.9,314.0L307.6,314.6L307.6,314.5L308.3,314.6ZM322.7,314.5L322.6,313.8L322.6,313.8L322.0,313.0L321.7,314.0L321.8,313.9L321.9,314.6ZM328.9,313.6L329.4,313.1L330.0,313.6L329.4,314.2ZM111.0,326.7L111.6,326.1L112.1,326.7L111.6,327.2ZM132.8,326.2L133.4,325.6L133.9,326.2L133.4,326.7ZM161.9,325.5L162.4,324.9L163.0,325.5L162.4,326.0ZM111.2,334.5L111.8,334.0L112.3,334.5L111.8,335.1ZM162.5,334.2L162.9,333.6L163.0,333.6L163.1,332.7L162.2,333.1L162.3,333.1L161.9,333.7ZM343.7,328.9L344.3,328.4L344.8,328.9L344.3,329.5ZM133.3,341.8L133.8,341.3L134.4,341.8L133.8,342.4ZM337.8,337.5L337.6,336.9L337.6,336.9L336.9,336.3L336.8,337.2L336.8,337.2L337.1,337.8ZM119.0,350.0L119.5,349.5L120.1,350.0L119.5,350.6ZM126.6,350.6L127.0,350.2L127.0,350.2L127.2,349.3L126.4,349.7L126.4,349.7L126.0,350.1ZM133.5,349.7L134.0,349.1L134.6,349.7L134.0,350.2ZM148.3,350.2L148.8,349.7L148.8,349.7L149.1,348.8L148.2,349.1L148.2,349.1L147.7,349.6ZM155.5,350.0L156.0,349.5L156.1,349.6L156.4,348.7L155.5,348.9L155.5,348.9L155.0,349.4ZM184.6,349.2L185.1,348.8L185.1,348.8L185.4,348.0L184.5,348.2L184.6,348.2L184.1,348.6ZM286.0,346.0L286.5,345.5L287.1,346.0L286.5,346.6ZM301.9,345.5L301.3,345.3L301.3,345.3L300.4,345.4L301.0,346.1L301.0,346.1L301.6,346.3ZM336.8,344.8L337.4,344.2L337.9,344.8L337.4,345.3Z" fill="#5c90c2"/><path d="M176.4,57.5L176.8,58.4L176.5,58.5L177.6,59.4L177.7,58.0L177.5,58.1L177.1,57.2ZM323.7,55.9L324.2,55.2L324.3,55.3L324.6,54.1L323.4,54.6L323.6,54.7L323.0,55.4ZM257.5,65.1L258.2,64.7L258.3,64.8L258.8,63.9L257.7,63.9L257.8,64.0L257.1,64.4ZM264.5,64.7L265.4,64.5L265.4,64.7L266.4,63.9L265.2,63.6L265.2,63.7L264.4,63.9ZM279.8,64.9L280.4,64.1L280.5,64.2L280.7,62.9L279.5,63.5L279.7,63.6L279.2,64.4ZM309.1,64.3L309.7,63.4L310.0,63.6L310.1,62.0L308.8,62.8L309.0,63.0L308.5,63.9ZM177.1,73.0L177.2,74.0L177.0,74.0L177.7,75.1L178.2,73.9L178.0,73.9L177.9,73.0ZM212.9,73.1L214.0,73.5L213.9,73.8L215.5,73.7L214.4,72.4L214.3,72.8L213.2,72.3ZM257.3,72.7L258.2,72.5L258.3,72.8L259.3,72.0L258.1,71.6L258.1,71.8L257.2,71.9ZM265.8,73.2L266.0,72.1L266.3,72.2L265.8,70.8L264.9,72.0L265.2,72.0L265.0,73.0ZM279.6,72.7L280.4,72.0L280.6,72.2L281.2,70.8L279.7,71.1L279.9,71.4L279.1,72.1ZM309.1,71.7L309.7,71.3L309.8,71.4L310.4,70.5L309.3,70.5L309.3,70.6L308.7,71.0ZM323.4,71.4L324.3,71.0L324.4,71.2L325.3,70.1L323.9,70.0L324.0,70.2L323.1,70.6ZM191.8,80.8L192.1,81.6L191.9,81.7L192.8,82.4L192.9,81.3L192.8,81.3L192.5,80.6ZM242.7,80.2L243.5,80.6L243.4,80.8L244.7,80.8L244.0,79.7L243.9,79.9L243.1,79.5ZM294.5,80.0L295.3,79.5L295.3,79.6L295.9,78.6L294.7,78.7L294.8,78.8L294.1,79.3ZM309.0,79.7L309.9,79.2L310.0,79.4L310.8,78.2L309.4,78.2L309.5,78.5L308.6,79.0ZM324.2,79.3L324.7,78.7L324.8,78.8L325.0,77.7L324.0,78.2L324.1,78.2L323.6,78.8ZM330.9,78.9L331.8,78.6L331.8,78.9L332.8,78.0L331.5,77.6L331.6,77.9L330.7,78.1ZM382.5,77.9L383.3,77.4L383.4,77.6L383.9,76.4L382.7,76.6L382.8,76.7L382.0,77.3ZM404.3,77.3L405.2,76.9L405.3,77.1L406.1,76.0L404.7,75.9L404.8,76.2L403.9,76.6ZM411.6,77.3L412.5,76.7L412.7,77.0L413.5,75.7L412.0,75.7L412.1,76.0L411.2,76.6ZM264.9,88.4L266.0,88.1L266.1,88.4L267.1,87.2L265.6,87.0L265.7,87.3L264.7,87.7ZM279.9,88.4L280.8,87.7L281.0,88.0L281.6,86.5L280.1,86.8L280.3,87.1L279.4,87.7ZM317.4,87.5L317.6,86.6L317.8,86.7L317.6,85.5L316.7,86.3L316.9,86.4L316.6,87.2ZM323.7,87.0L324.7,86.7L324.7,86.9L325.6,85.9L324.3,85.7L324.4,85.9L323.5,86.3ZM184.8,96.3L185.1,97.4L184.8,97.5L185.9,98.6L186.2,97.1L185.9,97.2L185.6,96.1ZM199.0,96.8L199.9,97.3L199.7,97.6L201.1,97.7L200.5,96.4L200.3,96.7L199.5,96.1ZM206.6,96.6L207.2,97.1L207.1,97.2L208.2,97.5L207.8,96.4L207.7,96.5L207.1,96.0ZM213.8,96.6L214.6,97.0L214.5,97.1L215.7,97.1L215.0,96.2L215.0,96.3L214.2,95.9ZM221.0,96.6L222.0,96.9L221.9,97.1L223.2,96.9L222.3,95.9L222.2,96.1L221.3,95.8ZM228.2,96.4L229.3,96.7L229.2,97.1L230.8,96.7L229.6,95.6L229.5,95.9L228.4,95.6ZM235.9,95.5L236.5,96.3L236.3,96.4L237.4,97.0L237.3,95.8L237.1,95.9L236.6,95.1ZM257.9,96.0L258.7,96.1L258.7,96.2L259.7,95.7L258.7,95.1L258.7,95.3L257.9,95.2ZM272.5,96.2L273.5,95.7L273.7,96.1L274.6,94.8L273.1,94.7L273.2,95.0L272.2,95.5ZM295.3,96.1L295.8,95.1L296.1,95.2L296.0,93.6L294.7,94.6L295.1,94.7L294.6,95.7ZM316.8,95.1L317.6,94.7L317.6,94.8L318.3,93.8L317.1,93.8L317.2,93.9L316.4,94.4ZM323.8,94.8L324.8,94.5L324.9,94.8L325.9,93.8L324.5,93.5L324.6,93.7L323.6,94.0ZM258.4,104.3L259.1,103.9L259.2,104.0L259.8,103.1L258.7,103.1L258.7,103.2L258.0,103.6ZM265.5,104.3L266.4,103.7L266.6,104.0L267.4,102.7L265.9,102.7L266.0,103.0L265.1,103.6ZM272.6,103.7L273.6,103.6L273.7,103.8L274.8,103.0L273.4,102.5L273.5,102.8L272.5,102.9ZM281.0,103.9L281.3,103.2L281.4,103.3L281.3,102.2L280.5,102.8L280.6,102.9L280.3,103.6ZM287.4,103.6L288.4,103.2L288.5,103.5L289.4,102.4L288.0,102.2L288.1,102.5L287.1,102.8ZM316.8,102.8L317.6,102.5L317.7,102.7L318.6,101.8L317.4,101.6L317.4,101.7L316.5,102.0ZM331.1,101.7L332.0,102.1L331.9,102.3L333.3,102.1L332.4,101.1L332.3,101.3L331.4,101.0ZM111.6,115.3L112.6,115.2L112.6,115.5L113.9,114.8L112.6,114.2L112.6,114.4L111.5,114.5ZM126.3,114.5L127.1,114.8L127.1,115.0L128.3,114.8L127.5,113.9L127.4,114.1L126.5,113.8ZM199.5,112.6L200.3,113.0L200.2,113.2L201.5,113.2L200.8,112.1L200.7,112.3L199.9,111.9ZM250.9,111.1L251.5,111.7L251.4,111.8L252.5,112.2L252.2,111.1L252.1,111.2L251.5,110.5ZM265.8,111.8L266.6,111.6L266.6,111.7L267.3,110.9L266.3,110.7L266.3,110.8L265.6,111.1ZM273.1,111.7L273.9,111.4L273.9,111.6L274.7,110.7L273.6,110.5L273.6,110.6L272.8,110.9ZM302.4,110.9L303.1,110.7L303.2,110.8L304.0,110.1L302.9,109.8L303.0,109.9L302.2,110.1ZM309.8,111.2L310.6,110.5L310.8,110.7L311.4,109.3L309.9,109.7L310.1,109.9L309.3,110.6ZM316.9,110.7L317.8,110.4L317.9,110.6L318.9,109.6L317.5,109.3L317.5,109.6L316.6,109.9ZM104.4,122.5L105.3,123.1L105.1,123.4L106.6,123.5L105.9,122.2L105.7,122.5L104.9,121.9ZM134.0,121.8L134.6,122.4L134.5,122.5L135.6,122.8L135.2,121.7L135.1,121.8L134.5,121.2ZM199.7,120.8L200.6,121.0L200.6,121.2L201.9,120.7L200.8,119.9L200.8,120.2L199.8,120.0ZM207.1,120.1L207.8,120.6L207.7,120.8L208.9,121.1L208.4,119.9L208.3,120.0L207.7,119.5ZM258.6,119.9L259.4,119.6L259.5,119.7L260.3,118.9L259.1,118.7L259.2,118.8L258.4,119.1ZM280.9,119.8L281.6,119.0L281.8,119.2L282.1,117.7L280.7,118.3L281.0,118.5L280.3,119.3ZM302.4,118.3L303.1,118.5L303.1,118.6L304.1,118.4L303.4,117.6L303.4,117.7L302.6,117.5ZM309.6,118.3L310.5,118.3L310.5,118.5L311.6,118.0L310.6,117.3L310.6,117.5L309.7,117.5ZM377.0,115.6L376.4,116.0L376.3,115.9L375.8,116.9L376.9,116.7L376.8,116.7L377.5,116.2ZM207.5,127.3L207.9,128.3L207.6,128.4L208.8,129.4L209.0,127.9L208.6,128.0L208.2,127.0ZM244.2,126.5L244.5,127.4L244.3,127.5L245.3,128.4L245.5,127.0L245.3,127.1L244.9,126.2ZM251.0,126.9L251.9,127.5L251.8,127.7L253.3,127.8L252.5,126.5L252.4,126.8L251.5,126.2ZM281.0,127.3L281.7,126.9L281.7,127.0L282.3,126.0L281.2,126.1L281.2,126.2L280.5,126.6ZM295.3,126.6L296.1,126.5L296.1,126.7L297.0,126.1L296.0,125.6L296.0,125.8L295.2,125.8ZM302.5,125.4L303.1,126.1L302.9,126.3L304.2,126.8L303.9,125.5L303.7,125.6L303.1,124.9ZM309.6,125.9L310.6,126.2L310.5,126.5L312.0,126.1L310.9,125.1L310.8,125.4L309.7,125.1ZM348.3,124.5L347.5,124.5L347.5,124.4L346.5,125.0L347.5,125.5L347.5,125.3L348.4,125.3ZM363.1,124.7L362.3,124.3L362.4,124.1L361.2,124.1L361.8,125.1L361.9,125.0L362.7,125.4ZM288.4,133.2L288.6,134.2L288.4,134.2L289.3,135.2L289.6,133.9L289.4,133.9L289.1,133.0ZM295.3,133.5L296.0,134.2L295.8,134.4L297.1,134.8L296.7,133.4L296.6,133.6L295.9,132.9ZM324.6,132.5L325.2,133.4L325.0,133.6L326.3,134.2L326.1,132.8L325.9,133.0L325.3,132.1ZM331.9,133.0L332.6,133.4L332.6,133.5L333.7,133.6L333.1,132.6L333.0,132.7L332.3,132.3ZM142.4,144.5L142.5,145.4L142.2,145.5L143.0,146.6L143.5,145.3L143.3,145.3L143.2,144.4ZM150.0,144.4L149.8,145.2L149.7,145.1L150.0,146.1L150.7,145.3L150.6,145.3L150.8,144.6ZM238.0,142.0L237.7,143.0L237.4,142.9L237.6,144.3L238.7,143.4L238.4,143.3L238.8,142.3ZM288.7,141.2L288.8,142.0L288.7,142.0L289.3,142.8L289.7,141.9L289.6,141.9L289.5,141.1ZM114.7,153.5L113.9,153.6L113.9,153.5L112.9,154.1L114.0,154.6L114.0,154.4L114.8,154.3ZM121.1,152.7L120.8,153.6L120.6,153.5L120.8,154.9L121.8,154.0L121.6,153.9L121.9,152.9ZM332.6,148.1L332.8,148.8L332.7,148.9L333.5,149.6L333.7,148.6L333.6,148.6L333.4,147.8ZM158.4,167.8L157.9,168.4L157.8,168.3L157.6,169.3L158.6,168.9L158.5,168.9L159.0,168.3ZM239.4,166.0L238.5,166.3L238.5,166.1L237.6,167.1L238.9,167.3L238.8,167.1L239.7,166.8ZM332.9,163.8L333.2,164.5L333.0,164.6L333.9,165.3L334.1,164.2L333.9,164.2L333.6,163.5ZM202.7,174.5L202.0,175.1L201.9,175.0L201.5,176.1L202.7,175.8L202.6,175.7L203.2,175.1ZM289.1,172.5L289.5,173.4L289.3,173.5L290.3,174.4L290.5,173.0L290.2,173.1L289.8,172.2ZM296.2,172.5L296.8,173.3L296.6,173.5L297.9,174.1L297.7,172.7L297.5,172.8L296.8,172.0ZM333.1,171.7L333.3,172.4L333.3,172.4L334.0,173.1L334.2,172.1L334.1,172.1L333.9,171.4ZM239.8,181.8L238.9,182.0L238.9,181.8L238.0,182.7L239.2,182.9L239.1,182.8L240.0,182.5ZM288.9,180.8L289.8,181.5L289.6,181.7L291.0,181.9L290.4,180.6L290.2,180.8L289.4,180.2ZM296.6,180.1L297.0,181.1L296.7,181.2L297.8,182.1L298.0,180.6L297.7,180.8L297.3,179.8ZM210.4,189.7L209.7,190.6L209.4,190.4L209.1,192.0L210.6,191.3L210.3,191.1L211.0,190.2ZM239.3,189.3L238.9,190.0L238.8,189.9L238.6,190.9L239.6,190.5L239.5,190.4L240.0,189.8ZM333.1,187.5L333.7,188.2L333.6,188.3L334.8,188.7L334.4,187.5L334.3,187.6L333.7,187.0ZM152.7,199.5L151.7,199.8L151.6,199.5L150.6,200.6L152.0,200.8L151.9,200.5L152.9,200.2ZM218.3,197.8L217.4,198.2L217.2,197.9L216.4,199.1L217.8,199.2L217.7,198.9L218.7,198.5ZM224.9,197.2L224.4,198.2L224.2,198.0L224.2,199.5L225.4,198.7L225.1,198.5L225.6,197.6ZM232.6,197.1L231.8,197.9L231.6,197.7L231.2,199.2L232.6,198.7L232.4,198.5L233.2,197.7ZM318.9,195.2L319.2,196.2L319.0,196.3L320.0,197.3L320.3,195.9L320.0,196.0L319.7,195.0ZM326.0,195.4L326.6,196.1L326.4,196.3L327.5,196.9L327.4,195.6L327.2,195.7L326.7,194.9ZM151.9,207.0L151.6,207.8L151.4,207.7L151.6,209.0L152.5,208.2L152.3,208.1L152.7,207.3ZM303.9,204.1L304.9,204.7L304.7,205.0L306.3,205.0L305.4,203.6L305.3,204.0L304.3,203.4ZM326.3,203.3L326.7,204.0L326.6,204.1L327.6,204.6L327.5,203.5L327.4,203.5L326.9,202.9ZM153.2,215.2L152.2,215.5L152.1,215.2L151.0,216.2L152.4,216.5L152.4,216.2L153.4,216.0ZM253.8,212.7L253.9,213.4L253.8,213.4L254.4,214.3L254.8,213.3L254.7,213.3L254.6,212.5ZM260.7,213.3L261.4,213.6L261.3,213.7L262.4,213.6L261.7,212.8L261.7,212.9L261.0,212.5ZM340.9,210.9L341.5,211.6L341.4,211.7L342.5,212.0L342.2,210.9L342.1,211.0L341.5,210.4ZM152.9,222.5L152.2,223.4L151.9,223.1L151.5,224.6L153.0,224.1L152.7,223.9L153.5,223.1ZM260.6,220.5L261.4,221.3L261.2,221.5L262.6,221.9L262.2,220.5L262.0,220.7L261.2,220.0ZM333.7,219.0L334.4,219.6L334.3,219.8L335.5,220.0L335.0,218.8L334.9,219.0L334.2,218.4ZM341.0,219.0L341.7,219.5L341.6,219.6L342.8,219.7L342.3,218.7L342.2,218.8L341.5,218.3ZM153.2,230.4L152.4,231.2L152.1,230.9L151.6,232.5L153.2,232.0L152.9,231.8L153.8,231.0ZM224.5,229.4L225.2,230.0L225.0,230.2L226.3,230.5L225.8,229.3L225.7,229.4L225.0,228.8ZM124.5,239.6L123.7,239.7L123.7,239.6L122.8,240.2L123.8,240.6L123.7,240.5L124.5,240.4ZM146.2,238.6L145.4,239.2L145.2,239.0L144.6,240.2L146.0,240.1L145.8,239.8L146.7,239.3ZM196.7,237.3L196.2,238.1L196.1,238.0L196.0,239.2L197.1,238.6L196.9,238.5L197.4,237.7ZM231.9,236.8L232.6,237.7L232.4,237.9L233.8,238.4L233.4,236.9L233.2,237.1L232.5,236.3ZM261.5,235.9L261.7,236.8L261.5,236.8L262.4,237.8L262.7,236.5L262.5,236.6L262.3,235.7ZM268.8,243.5L269.2,244.5L268.9,244.6L270.1,245.5L270.2,244.0L269.9,244.2L269.5,243.2ZM276.1,243.3L276.5,244.3L276.2,244.5L277.4,245.4L277.5,243.9L277.2,244.0L276.8,243.0ZM189.6,252.9L189.3,254.0L189.0,253.9L189.3,255.4L190.4,254.3L190.1,254.2L190.4,253.1ZM269.0,252.7L269.7,252.7L269.7,252.8L270.7,252.3L269.7,251.8L269.7,251.9L268.9,251.9ZM276.2,251.3L276.7,252.2L276.4,252.3L277.6,253.1L277.6,251.7L277.4,251.8L277.0,250.9ZM290.7,251.7L291.4,252.1L291.3,252.1L292.4,252.2L291.9,251.3L291.8,251.4L291.2,251.0ZM298.0,250.9L298.6,251.7L298.3,251.9L299.6,252.5L299.4,251.1L299.2,251.3L298.6,250.4ZM312.3,250.7L313.2,251.4L312.9,251.7L314.4,252.1L313.9,250.6L313.7,250.9L312.9,250.1ZM110.8,264.0L110.0,263.6L110.1,263.5L108.8,263.6L109.6,264.6L109.7,264.4L110.5,264.7ZM132.1,262.7L131.4,263.1L131.4,263.0L130.9,263.9L131.9,263.8L131.9,263.7L132.5,263.3ZM261.7,260.0L262.4,260.5L262.2,260.7L263.5,260.9L263.0,259.8L262.9,259.9L262.2,259.3ZM261.8,267.9L262.6,268.4L262.5,268.6L263.8,268.7L263.1,267.6L263.0,267.7L262.3,267.2ZM141.0,294.6L140.0,294.3L140.1,294.0L138.6,294.3L139.7,295.3L139.8,295.0L140.8,295.4ZM197.6,294.3L198.2,293.6L198.4,293.7L198.6,292.4L197.4,292.9L197.6,293.1L197.0,293.8ZM218.9,293.1L219.7,293.1L219.7,293.2L220.6,292.7L219.7,292.2L219.7,292.3L218.9,292.3ZM226.0,291.8L226.7,292.7L226.4,292.8L227.8,293.5L227.6,292.0L227.3,292.2L226.7,291.3ZM233.0,292.2L234.1,292.7L233.9,293.0L235.5,292.9L234.5,291.6L234.4,291.9L233.4,291.5ZM247.8,291.6L248.6,292.2L248.4,292.4L249.7,292.7L249.2,291.4L249.1,291.6L248.3,291.0ZM278.2,298.1L277.9,298.9L277.7,298.8L277.8,300.0L278.7,299.3L278.6,299.2L278.9,298.5ZM313.2,298.4L314.3,298.6L314.3,299.0L315.8,298.5L314.6,297.5L314.5,297.9L313.4,297.6ZM328.3,298.5L329.1,298.3L329.1,298.4L329.9,297.7L328.9,297.4L328.9,297.6L328.2,297.7ZM153.5,310.0L154.5,310.3L154.4,310.6L155.8,310.3L154.9,309.3L154.8,309.5L153.8,309.2ZM301.5,306.6L300.4,306.1L300.6,305.8L299.0,306.0L300.0,307.2L300.1,306.9L301.2,307.3ZM161.3,317.7L162.0,318.0L162.0,318.1L163.1,317.9L162.3,317.1L162.3,317.2L161.5,317.0ZM265.4,322.4L264.2,322.6L264.2,322.3L263.0,323.2L264.4,323.7L264.4,323.4L265.5,323.2ZM301.5,322.2L300.8,321.8L300.9,321.7L299.8,321.7L300.3,322.6L300.4,322.5L301.1,322.9ZM337.6,322.0L337.3,321.2L337.4,321.2L336.5,320.4L336.4,321.5L336.5,321.5L336.8,322.3ZM140.3,342.2L141.1,342.1L141.1,342.2L141.9,341.5L140.9,341.2L140.9,341.3L140.2,341.4ZM154.3,341.4L155.4,341.7L155.3,342.0L156.9,341.6L155.7,340.5L155.6,340.9L154.4,340.6ZM265.8,338.7L264.8,338.4L264.9,338.1L263.5,338.3L264.4,339.4L264.5,339.1L265.5,339.5ZM170.5,349.9L170.7,349.0L170.9,349.1L170.6,347.8L169.7,348.8L169.9,348.8L169.7,349.8ZM177.2,349.6L177.8,349.0L178.0,349.1L178.3,347.9L177.1,348.3L177.3,348.4L176.6,349.1ZM265.6,346.0L264.8,346.1L264.7,346.0L263.9,346.7L264.9,347.0L264.9,346.9L265.7,346.8ZM272.9,345.8L272.0,346.0L272.0,345.8L271.1,346.5L272.2,346.9L272.2,346.7L273.0,346.6ZM295.1,345.9L294.0,345.5L294.2,345.2L292.6,345.4L293.6,346.6L293.8,346.3L294.8,346.6Z" fill="#679ec9"/><path d="M330.7,56.0L331.5,55.1L331.8,55.3L332.2,53.7L330.6,54.3L330.9,54.5L330.1,55.4ZM286.5,64.8L287.6,64.0L287.8,64.4L288.6,62.7L286.8,63.0L287.1,63.4L286.1,64.1ZM323.9,64.1L324.4,63.0L324.7,63.2L324.7,61.6L323.4,62.5L323.7,62.7L323.2,63.7ZM206.3,72.0L206.5,73.3L206.0,73.3L207.1,74.8L207.8,73.1L207.3,73.2L207.1,71.8ZM301.3,72.1L302.4,71.5L302.5,71.8L303.4,70.4L301.8,70.5L302.0,70.8L300.9,71.4ZM265.2,81.2L266.0,80.2L266.4,80.5L266.7,78.6L265.0,79.4L265.4,79.7L264.6,80.7ZM272.0,80.9L273.2,80.0L273.5,80.5L274.5,78.7L272.5,78.9L272.8,79.4L271.6,80.2ZM316.9,80.0L317.4,78.9L317.8,79.0L317.7,77.4L316.3,78.4L316.7,78.5L316.2,79.6ZM337.6,78.8L339.0,78.5L339.2,79.1L340.7,77.7L338.7,77.1L338.9,77.7L337.4,78.1ZM389.1,78.0L390.5,77.3L390.8,77.8L392.0,76.1L389.8,76.0L390.1,76.5L388.7,77.2ZM396.8,77.7L397.9,77.1L398.1,77.4L398.9,75.9L397.2,76.0L397.4,76.4L396.4,77.0ZM103.0,90.9L104.3,91.7L104.0,92.3L106.2,92.4L105.1,90.5L104.8,91.1L103.4,90.2ZM272.6,88.8L273.5,87.8L273.9,88.2L274.3,86.4L272.5,87.0L272.9,87.3L272.0,88.3ZM287.7,88.6L288.3,87.4L288.7,87.6L288.6,85.8L287.1,86.9L287.5,87.1L287.0,88.3ZM294.2,88.2L295.4,87.4L295.7,87.8L296.6,86.0L294.6,86.2L294.9,86.7L293.7,87.5ZM242.9,95.1L243.8,96.1L243.4,96.5L245.2,97.2L244.8,95.3L244.4,95.6L243.5,94.5ZM280.6,96.6L281.1,95.4L281.5,95.6L281.4,93.9L280.0,94.9L280.4,95.1L279.9,96.2ZM302.0,95.8L303.0,95.0L303.2,95.3L303.9,93.7L302.1,94.1L302.4,94.4L301.5,95.2ZM309.4,95.8L310.3,94.8L310.7,95.2L311.1,93.3L309.4,93.9L309.7,94.3L308.8,95.3ZM125.9,107.3L127.1,107.1L127.2,107.4L128.4,106.4L126.9,105.9L126.9,106.3L125.8,106.5ZM206.3,104.9L207.5,105.1L207.4,105.5L209.1,105.0L207.7,103.9L207.7,104.3L206.4,104.1ZM220.8,103.9L222.0,104.6L221.8,105.1L223.8,105.2L222.7,103.4L222.4,103.9L221.1,103.2ZM235.5,103.2L236.6,104.2L236.2,104.6L238.3,105.1L237.6,103.2L237.2,103.6L236.1,102.6ZM242.9,103.6L244.0,104.1L243.8,104.5L245.6,104.5L244.6,103.0L244.4,103.4L243.3,102.8ZM250.2,103.3L251.4,103.9L251.1,104.4L253.0,104.4L252.0,102.8L251.8,103.3L250.6,102.6ZM301.9,103.8L303.1,102.9L303.5,103.3L304.3,101.4L302.2,101.8L302.6,102.2L301.4,103.2ZM309.5,103.5L310.5,102.7L310.8,103.0L311.4,101.3L309.6,101.7L309.9,102.1L309.0,102.9ZM367.3,101.7L368.8,101.3L369.0,101.9L370.6,100.5L368.5,99.9L368.6,100.5L367.1,100.9ZM389.3,100.7L390.7,100.7L390.7,101.3L392.4,100.4L390.8,99.4L390.7,99.9L389.3,99.9ZM396.8,100.6L398.1,100.6L398.1,101.0L399.6,100.2L398.1,99.4L398.1,99.8L396.8,99.8ZM404.4,100.8L405.5,100.4L405.6,100.8L406.8,99.6L405.2,99.3L405.3,99.7L404.2,100.0ZM118.8,115.4L120.0,115.1L120.1,115.5L121.4,114.3L119.7,113.9L119.8,114.3L118.5,114.7ZM221.0,111.4L222.2,112.4L221.8,112.9L223.9,113.3L223.1,111.3L222.7,111.8L221.6,110.8ZM235.9,111.1L236.8,112.0L236.5,112.4L238.3,112.9L237.7,111.1L237.4,111.5L236.4,110.6ZM280.4,112.2L281.4,111.2L281.8,111.6L282.2,109.7L280.4,110.3L280.8,110.7L279.8,111.7ZM287.5,111.9L288.6,111.0L288.9,111.5L289.7,109.7L287.8,110.0L288.1,110.4L287.0,111.3ZM221.7,119.1L222.4,120.2L222.0,120.4L223.6,121.2L223.4,119.5L223.0,119.7L222.3,118.7ZM250.6,119.4L251.8,119.7L251.7,120.1L253.4,119.7L252.1,118.5L252.0,118.9L250.8,118.6ZM215.0,126.4L215.2,127.9L214.6,128.0L215.9,129.8L216.6,127.8L216.0,127.8L215.8,126.3ZM222.3,126.6L222.5,127.8L222.1,127.9L223.2,129.3L223.8,127.6L223.3,127.7L223.1,126.4ZM230.0,126.1L229.9,127.5L229.4,127.5L230.1,129.3L231.2,127.7L230.7,127.6L230.8,126.2ZM316.6,125.1L317.8,125.9L317.5,126.3L319.4,126.4L318.5,124.8L318.2,125.2L317.0,124.4ZM209.4,134.5L208.3,135.7L207.9,135.3L207.4,137.4L209.4,136.6L208.9,136.2L210.0,135.1ZM216.6,134.7L215.7,135.5L215.4,135.2L214.8,136.8L216.5,136.4L216.2,136.1L217.1,135.3ZM238.2,134.1L237.5,135.0L237.2,134.8L237.0,136.5L238.5,135.7L238.2,135.5L238.9,134.5ZM295.2,141.0L296.1,142.0L295.8,142.3L297.6,142.9L297.0,141.1L296.7,141.4L295.7,140.5ZM324.7,139.9L325.3,141.2L324.8,141.4L326.5,142.6L326.6,140.5L326.1,140.8L325.4,139.5ZM209.5,150.3L208.7,151.4L208.3,151.1L208.0,153.0L209.7,152.2L209.3,151.9L210.2,150.8ZM239.3,150.2L238.2,150.6L238.0,150.3L236.9,151.6L238.6,151.8L238.5,151.4L239.6,150.9ZM151.7,159.9L150.6,160.6L150.3,160.2L149.4,161.7L151.2,161.7L151.0,161.3L152.1,160.6ZM210.0,158.4L209.0,159.2L208.7,158.8L208.0,160.5L209.8,160.2L209.5,159.8L210.5,159.0ZM239.5,158.1L238.4,158.5L238.2,158.1L237.1,159.4L238.8,159.6L238.6,159.2L239.8,158.8ZM295.7,156.5L296.5,157.6L296.1,157.9L297.7,158.7L297.5,156.9L297.1,157.1L296.3,156.1ZM317.6,155.9L318.4,157.1L318.0,157.4L319.7,158.2L319.5,156.3L319.0,156.6L318.2,155.5ZM332.3,155.8L333.0,156.7L332.7,157.0L334.2,157.7L334.0,156.1L333.7,156.3L333.0,155.3ZM152.4,175.5L151.0,176.3L150.7,175.7L149.6,177.5L151.7,177.5L151.4,177.0L152.7,176.2ZM318.2,179.2L318.9,180.5L318.3,180.8L320.1,182.0L320.1,179.9L319.6,180.2L318.9,178.8ZM324.9,179.7L326.2,180.6L325.9,181.1L328.1,181.3L327.0,179.3L326.7,179.9L325.3,179.0ZM218.0,189.3L217.0,190.4L216.6,190.0L216.2,192.0L218.0,191.3L217.6,190.9L218.6,189.9ZM225.7,189.6L224.5,190.2L224.3,189.7L223.2,191.3L225.1,191.4L224.8,190.9L226.1,190.3ZM303.6,187.9L304.5,188.8L304.1,189.1L305.8,189.7L305.4,188.0L305.1,188.3L304.2,187.4ZM310.7,187.5L311.8,188.7L311.3,189.1L313.3,189.8L312.8,187.7L312.3,188.1L311.3,187.0ZM304.1,195.3L304.6,196.6L304.2,196.8L305.7,197.9L305.8,196.0L305.3,196.2L304.8,195.0ZM267.8,211.9L268.5,213.1L268.0,213.4L269.7,214.5L269.6,212.5L269.2,212.7L268.4,211.5ZM282.7,211.2L283.1,212.7L282.5,212.8L283.9,214.4L284.4,212.3L283.8,212.5L283.5,211.0ZM289.1,211.9L290.4,212.8L290.1,213.3L292.2,213.5L291.2,211.6L290.9,212.1L289.5,211.3ZM296.6,211.7L297.7,212.6L297.4,213.0L299.3,213.4L298.6,211.6L298.2,212.0L297.1,211.0ZM311.2,211.6L312.3,212.3L312.1,212.7L314.0,212.8L313.0,211.2L312.8,211.6L311.6,210.9ZM325.6,211.3L326.9,212.0L326.7,212.5L328.8,212.4L327.6,210.7L327.3,211.2L325.9,210.6ZM333.0,211.2L334.3,211.8L334.0,212.2L335.9,212.2L334.8,210.6L334.6,211.1L333.4,210.5ZM260.9,227.9L261.6,229.0L261.2,229.3L262.7,230.2L262.6,228.4L262.2,228.6L261.6,227.5ZM132.2,238.8L130.9,239.5L130.6,239.0L129.5,240.7L131.5,240.7L131.3,240.2L132.5,239.5ZM203.7,236.5L203.5,237.9L202.9,237.8L203.5,239.8L204.8,238.2L204.3,238.1L204.5,236.6ZM210.7,236.6L210.7,237.9L210.3,237.8L211.1,239.4L211.9,237.9L211.5,237.9L211.5,236.6ZM246.2,237.2L247.4,237.5L247.3,237.9L248.9,237.4L247.6,236.3L247.5,236.7L246.3,236.5ZM253.5,236.3L254.5,237.1L254.2,237.5L255.9,237.9L255.3,236.2L255.0,236.6L254.1,235.7ZM147.4,247.6L146.0,247.1L146.2,246.6L144.2,246.9L145.6,248.4L145.7,247.8L147.1,248.3ZM196.6,244.5L196.4,246.0L195.8,245.8L196.4,247.8L197.7,246.2L197.2,246.1L197.4,244.6ZM253.7,244.2L254.7,245.0L254.4,245.3L256.1,245.7L255.5,244.1L255.2,244.4L254.3,243.6ZM260.8,243.7L261.9,244.8L261.5,245.2L263.6,245.8L262.9,243.8L262.5,244.2L261.4,243.2ZM290.4,242.6L291.1,243.9L290.6,244.2L292.2,245.4L292.3,243.4L291.8,243.6L291.2,242.3ZM312.2,242.5L313.0,243.5L312.6,243.8L314.1,244.5L313.9,242.8L313.6,243.0L312.9,242.1ZM111.2,255.8L109.7,255.7L109.7,255.1L107.8,256.0L109.6,257.2L109.7,256.5L111.2,256.6ZM253.8,251.9L254.9,252.8L254.5,253.2L256.4,253.7L255.8,251.8L255.4,252.2L254.3,251.3ZM261.2,251.9L262.2,252.7L261.9,253.0L263.6,253.3L262.9,251.8L262.7,252.1L261.7,251.3ZM118.2,263.0L117.0,263.4L116.9,263.0L115.7,264.2L117.4,264.6L117.3,264.1L118.5,263.8ZM125.2,262.4L124.2,263.2L123.9,262.8L123.1,264.5L125.0,264.2L124.7,263.8L125.7,263.0ZM140.1,262.3L138.9,262.8L138.6,262.4L137.4,263.9L139.4,264.1L139.2,263.6L140.5,263.0ZM297.6,258.7L298.7,259.6L298.4,260.1L300.5,260.5L299.6,258.5L299.2,259.0L298.1,258.0ZM312.1,258.9L313.4,259.4L313.2,259.9L315.1,259.6L313.9,258.2L313.7,258.6L312.4,258.2ZM140.0,277.7L139.1,278.6L138.9,278.3L138.3,279.9L140.0,279.4L139.7,279.2L140.6,278.3ZM254.8,275.1L255.4,276.2L255.0,276.4L256.4,277.4L256.5,275.6L256.1,275.8L255.5,274.7ZM261.9,274.8L262.7,276.0L262.2,276.3L263.9,277.3L263.8,275.4L263.3,275.6L262.6,274.4ZM269.1,274.7L269.9,275.9L269.5,276.2L271.3,277.1L271.0,275.1L270.6,275.4L269.7,274.3ZM276.1,275.1L277.3,275.9L277.0,276.3L278.9,276.5L278.0,274.8L277.7,275.2L276.6,274.4ZM305.3,274.0L306.4,275.1L305.9,275.5L308.0,276.1L307.4,274.1L306.9,274.5L305.8,273.4ZM140.4,285.8L139.4,286.4L139.2,286.1L138.4,287.5L140.1,287.4L139.9,287.1L140.9,286.5ZM254.8,282.9L255.6,284.1L255.1,284.4L256.8,285.3L256.7,283.4L256.2,283.6L255.5,282.5ZM261.8,283.2L262.9,284.0L262.6,284.5L264.5,284.7L263.7,283.0L263.4,283.4L262.2,282.6ZM276.2,282.9L277.5,283.7L277.1,284.2L279.2,284.4L278.2,282.5L277.9,283.0L276.6,282.2ZM312.9,282.1L313.9,282.8L313.6,283.1L315.3,283.4L314.6,281.9L314.4,282.2L313.4,281.4ZM184.0,294.8L183.8,293.6L184.2,293.6L183.2,292.3L182.7,293.8L183.0,293.8L183.2,294.9ZM190.6,294.8L191.0,293.7L191.4,293.8L191.2,292.2L189.9,293.2L190.3,293.4L189.8,294.5ZM254.7,291.8L255.9,292.2L255.8,292.6L257.5,292.2L256.3,291.0L256.1,291.4L254.9,291.1ZM261.8,291.5L263.2,292.0L263.0,292.5L264.9,292.2L263.6,290.7L263.4,291.2L262.1,290.7ZM169.0,303.4L169.4,302.0L169.9,302.2L169.5,300.2L168.1,301.7L168.6,301.8L168.3,303.2ZM305.7,297.8L306.9,298.7L306.6,299.2L308.7,299.4L307.7,297.5L307.4,298.0L306.1,297.2ZM145.9,310.2L147.2,310.5L147.1,311.0L148.9,310.5L147.5,309.2L147.4,309.7L146.1,309.4ZM265.1,306.5L263.8,306.9L263.7,306.5L262.4,307.8L264.2,308.1L264.1,307.7L265.3,307.3ZM138.8,318.7L140.3,318.6L140.3,319.1L142.0,318.0L140.2,317.2L140.2,317.8L138.8,317.9ZM265.5,314.6L264.1,314.8L264.0,314.2L262.5,315.4L264.3,316.1L264.2,315.6L265.6,315.4ZM301.7,314.8L300.7,314.1L300.9,313.7L299.3,313.5L300.0,315.0L300.2,314.7L301.2,315.4ZM139.2,325.7L140.3,326.3L140.2,326.7L141.9,326.6L140.9,325.2L140.7,325.6L139.6,325.0ZM308.3,323.6L308.2,322.1L308.8,322.1L307.7,320.4L306.8,322.2L307.4,322.1L307.5,323.6ZM248.6,332.1L249.8,331.6L250.0,332.1L251.2,330.7L249.4,330.4L249.6,330.9L248.3,331.3ZM266.1,331.1L264.7,330.5L264.9,330.0L262.8,330.2L264.2,331.8L264.4,331.3L265.8,331.8ZM295.0,337.7L293.8,337.6L293.8,337.2L292.3,337.9L293.7,338.8L293.7,338.4L294.9,338.5ZM301.9,339.3L301.3,337.8L301.9,337.6L300.2,336.2L300.0,338.4L300.6,338.1L301.2,339.6ZM213.0,349.0L214.0,348.2L214.3,348.5L215.1,346.8L213.3,347.2L213.5,347.5L212.5,348.4ZM220.1,349.0L221.3,348.0L221.7,348.5L222.5,346.5L220.4,346.9L220.8,347.4L219.6,348.3ZM280.9,346.1L279.5,345.8L279.6,345.3L277.7,345.9L279.3,347.1L279.4,346.6L280.8,346.8ZM308.8,346.9L308.7,345.6L309.2,345.6L308.2,344.0L307.5,345.7L307.9,345.7L308.0,346.9Z" fill="#74add1"/><path d="M102.3,58.5L103.3,60.2L102.6,60.6L104.9,61.9L104.7,59.3L104.0,59.7L103.0,58.1ZM248.7,55.9L250.2,56.9L249.7,57.5L252.2,57.7L251.0,55.5L250.6,56.2L249.1,55.2ZM337.7,56.3L338.8,54.9L339.4,55.4L339.9,53.0L337.6,53.9L338.2,54.4L337.1,55.8ZM344.6,55.7L346.0,54.8L346.4,55.4L347.6,53.3L345.2,53.5L345.6,54.1L344.1,55.1ZM352.0,55.6L353.4,54.6L353.8,55.2L354.9,53.1L352.5,53.4L352.9,54.0L351.5,54.9ZM374.5,55.4L375.5,54.0L376.1,54.5L376.4,52.1L374.3,53.1L374.9,53.6L373.9,55.0ZM381.1,54.8L382.7,53.9L383.0,54.6L384.4,52.5L381.9,52.5L382.3,53.2L380.7,54.1ZM177.2,64.3L177.0,66.0L176.3,65.9L177.2,68.1L178.5,66.2L177.8,66.1L178.0,64.4ZM206.0,63.7L206.3,65.4L205.6,65.5L207.1,67.4L207.8,65.1L207.1,65.3L206.8,63.5ZM212.9,63.8L213.6,65.3L213.0,65.6L214.9,67.1L215.0,64.7L214.4,65.0L213.6,63.5ZM330.0,64.0L331.5,63.0L331.9,63.7L333.2,61.5L330.6,61.6L331.1,62.3L329.5,63.3ZM352.3,64.0L353.6,62.5L354.3,63.0L354.9,60.3L352.3,61.3L353.0,61.9L351.7,63.4ZM366.6,63.2L368.2,62.1L368.6,62.8L369.9,60.5L367.3,60.8L367.7,61.5L366.2,62.5ZM374.3,63.4L375.6,61.9L376.3,62.5L376.9,59.9L374.4,60.8L375.0,61.4L373.7,62.8ZM380.8,62.4L382.7,61.8L383.0,62.6L384.9,60.6L382.2,60.2L382.5,61.0L380.6,61.7ZM249.1,71.1L250.5,72.4L249.9,73.1L252.5,73.8L251.7,71.2L251.1,71.9L249.7,70.5ZM330.3,72.0L331.7,70.8L332.2,71.4L333.2,69.1L330.7,69.6L331.2,70.2L329.8,71.4ZM337.7,72.1L339.1,70.7L339.7,71.3L340.5,68.6L337.9,69.4L338.5,70.1L337.1,71.5ZM345.1,79.2L346.5,78.3L346.9,78.9L348.1,76.9L345.7,77.0L346.1,77.6L344.6,78.5ZM359.4,78.5L361.1,78.0L361.3,78.7L363.0,76.9L360.6,76.5L360.8,77.2L359.1,77.8ZM117.5,90.6L119.0,91.4L118.6,92.0L121.0,92.1L119.7,90.1L119.4,90.7L117.9,89.9ZM337.2,86.0L339.0,86.3L338.9,87.1L341.3,86.2L339.2,84.7L339.1,85.5L337.3,85.2ZM396.4,85.9L398.0,84.9L398.4,85.6L399.6,83.4L397.1,83.6L397.5,84.3L396.0,85.2ZM403.7,85.9L405.3,84.8L405.8,85.5L407.1,83.1L404.3,83.4L404.8,84.1L403.2,85.2ZM337.4,94.0L339.2,94.1L339.2,94.9L341.4,93.9L339.3,92.5L339.3,93.3L337.5,93.2ZM102.9,107.7L105.0,107.6L105.0,108.5L107.4,107.0L104.8,105.9L104.9,106.8L102.9,106.9ZM228.1,103.2L229.3,104.4L228.8,104.9L231.1,105.5L230.3,103.3L229.8,103.8L228.6,102.6ZM359.6,100.6L361.2,101.3L360.9,102.0L363.4,101.8L361.9,99.9L361.6,100.6L359.9,99.9ZM374.5,101.5L376.1,101.1L376.3,101.8L378.1,100.3L375.8,99.7L376.0,100.3L374.3,100.7ZM381.8,101.5L383.5,101.0L383.7,101.7L385.4,99.9L383.0,99.5L383.2,100.2L381.6,100.8ZM206.1,112.0L207.6,112.8L207.2,113.4L209.5,113.5L208.3,111.5L208.0,112.1L206.5,111.3ZM213.4,111.4L214.8,112.6L214.3,113.2L216.8,113.7L215.9,111.3L215.3,111.9L213.9,110.7ZM228.2,110.6L229.5,112.1L228.8,112.7L231.3,113.7L230.8,111.0L230.1,111.6L228.8,110.1ZM242.6,111.0L244.2,111.9L243.8,112.6L246.3,112.7L245.0,110.6L244.6,111.2L243.0,110.3ZM338.0,108.0L339.3,109.5L338.6,110.1L341.2,111.1L340.6,108.4L339.9,109.0L338.7,107.5ZM360.1,107.8L361.3,109.0L360.8,109.5L363.1,110.2L362.4,108.0L361.9,108.5L360.7,107.3ZM213.8,119.4L215.1,120.4L214.6,120.9L216.8,121.4L216.0,119.3L215.6,119.8L214.3,118.8ZM228.2,119.2L229.7,120.1L229.3,120.8L231.8,120.9L230.5,118.8L230.1,119.4L228.6,118.5ZM243.0,118.5L244.3,119.7L243.8,120.2L246.2,120.8L245.4,118.6L244.9,119.1L243.6,117.9ZM334.5,116.6L332.7,117.0L332.5,116.2L330.6,117.9L333.1,118.6L332.9,117.8L334.7,117.3ZM104.5,129.0L105.4,130.7L104.6,131.1L106.9,132.6L106.8,129.9L106.1,130.3L105.1,128.6ZM105.2,136.7L105.6,138.4L104.8,138.6L106.6,140.5L107.2,138.0L106.4,138.2L105.9,136.5ZM133.9,136.3L134.9,137.9L134.2,138.3L136.4,139.6L136.3,137.0L135.6,137.4L134.6,135.9ZM224.5,133.9L223.0,135.3L222.4,134.6L221.6,137.2L224.2,136.5L223.6,135.9L225.0,134.5ZM231.2,133.4L230.2,135.2L229.4,134.7L229.4,137.5L231.7,136.0L230.9,135.6L231.9,133.8ZM302.1,132.7L303.2,133.9L302.7,134.4L305.0,135.2L304.4,132.9L303.8,133.4L302.6,132.1ZM317.0,131.8L317.8,133.5L317.1,133.8L319.3,135.3L319.3,132.7L318.6,133.1L317.7,131.4ZM107.2,144.3L106.1,146.0L105.3,145.5L105.1,148.2L107.5,146.9L106.8,146.4L107.9,144.7ZM135.4,143.4L135.2,145.4L134.3,145.3L135.3,147.9L136.9,145.6L136.0,145.5L136.2,143.5ZM210.1,142.4L208.6,143.5L208.2,142.9L207.1,145.1L209.6,144.8L209.1,144.1L210.6,143.1ZM217.1,142.0L215.9,143.3L215.3,142.8L214.7,145.3L217.1,144.4L216.5,143.9L217.7,142.5ZM309.5,140.3L310.7,141.6L310.2,142.1L312.5,142.9L311.9,140.5L311.3,141.1L310.1,139.8ZM129.4,152.1L128.3,153.3L127.8,152.8L127.2,155.0L129.4,154.3L128.9,153.8L130.0,152.6ZM309.9,147.9L310.9,149.4L310.3,149.8L312.4,150.9L312.2,148.5L311.5,148.9L310.6,147.5ZM310.3,155.5L311.0,157.1L310.3,157.5L312.3,159.0L312.5,156.5L311.8,156.8L311.0,155.2ZM324.2,155.5L325.7,156.9L325.0,157.6L327.7,158.4L326.9,155.7L326.2,156.4L324.8,154.9ZM151.7,167.1L150.7,168.4L150.1,168.0L149.7,170.3L151.8,169.4L151.3,168.9L152.3,167.6ZM210.2,165.5L209.1,167.0L208.4,166.6L208.1,169.1L210.4,168.0L209.8,167.5L210.9,166.0ZM295.3,164.5L296.6,165.5L296.2,166.1L298.5,166.5L297.6,164.4L297.1,164.9L295.8,163.8ZM309.7,163.9L311.2,165.2L310.6,165.8L313.3,166.4L312.3,163.9L311.8,164.5L310.3,163.3ZM325.1,163.2L325.8,164.7L325.2,165.0L327.1,166.3L327.1,164.0L326.5,164.3L325.8,162.8ZM211.0,173.8L209.5,174.8L209.0,174.2L207.8,176.5L210.4,176.2L209.9,175.5L211.5,174.4ZM302.6,171.8L304.1,173.2L303.5,173.8L306.2,174.5L305.2,171.9L304.6,172.6L303.2,171.2ZM324.9,171.3L326.0,172.6L325.4,173.1L327.7,174.0L327.2,171.6L326.6,172.1L325.5,170.7ZM152.7,183.3L151.2,184.1L150.9,183.5L149.7,185.4L152.0,185.4L151.6,184.8L153.1,184.0ZM211.0,181.8L209.6,182.7L209.3,182.1L208.2,184.2L210.5,183.9L210.1,183.3L211.4,182.4ZM233.1,181.2L231.6,182.2L231.1,181.5L230.0,183.7L232.5,183.5L232.0,182.8L233.5,181.8ZM310.9,179.2L311.6,180.7L310.9,181.0L312.8,182.3L312.9,180.0L312.3,180.3L311.6,178.8ZM152.7,190.7L151.4,191.9L150.9,191.3L150.0,193.7L152.4,193.1L151.9,192.5L153.3,191.3ZM233.4,188.8L231.8,190.0L231.2,189.3L230.1,191.7L232.8,191.4L232.2,190.6L233.8,189.5ZM317.8,187.4L319.1,188.5L318.6,189.0L320.8,189.6L320.1,187.4L319.6,187.9L318.4,186.8ZM325.1,186.9L326.3,188.3L325.8,188.8L328.1,189.7L327.5,187.2L326.9,187.7L325.7,186.4ZM145.4,198.7L144.2,200.0L143.7,199.5L143.1,201.8L145.4,201.0L144.8,200.5L146.0,199.3ZM146.2,206.9L144.6,207.8L144.2,207.1L142.9,209.2L145.4,209.1L145.0,208.5L146.6,207.6ZM274.5,211.5L275.8,213.0L275.1,213.5L277.5,214.5L277.0,211.9L276.4,212.5L275.1,211.0ZM303.5,211.3L305.0,212.4L304.5,213.0L307.0,213.5L306.0,211.1L305.5,211.8L304.0,210.6ZM318.2,210.9L319.6,212.0L319.1,212.6L321.5,213.1L320.6,210.8L320.1,211.4L318.7,210.3ZM267.6,219.8L268.7,221.0L268.1,221.5L270.3,222.3L269.8,220.1L269.3,220.5L268.2,219.2ZM318.5,218.2L319.7,219.8L319.0,220.3L321.5,221.4L321.0,218.7L320.3,219.3L319.1,217.7ZM109.9,231.1L108.7,232.2L108.2,231.7L107.4,233.8L109.7,233.3L109.2,232.8L110.5,231.7ZM124.6,230.8L123.3,231.8L122.9,231.3L122.0,233.4L124.2,233.0L123.8,232.5L125.1,231.5ZM132.4,230.9L130.7,231.6L130.4,230.9L128.9,232.9L131.3,233.1L131.0,232.4L132.7,231.7ZM146.6,230.5L145.2,231.3L144.9,230.7L143.7,232.6L146.0,232.6L145.6,232.0L147.0,231.2ZM267.9,227.3L268.8,228.8L268.1,229.2L270.3,230.5L270.2,228.0L269.5,228.4L268.5,226.8ZM217.5,236.1L218.0,237.8L217.3,238.0L218.9,239.6L219.4,237.3L218.7,237.5L218.3,235.9ZM224.2,236.3L225.3,237.7L224.6,238.2L226.8,239.3L226.5,236.8L225.9,237.3L224.9,235.8ZM238.4,236.5L239.9,237.5L239.5,238.1L241.9,238.4L240.8,236.2L240.3,236.9L238.9,235.8ZM268.7,234.9L269.0,236.5L268.4,236.6L269.8,238.4L270.5,236.2L269.8,236.3L269.5,234.8ZM275.0,235.4L276.3,236.6L275.8,237.2L278.2,237.8L277.4,235.4L276.9,236.0L275.5,234.8ZM297.6,242.2L298.3,243.7L297.7,244.0L299.6,245.4L299.7,243.1L299.1,243.4L298.4,241.9ZM304.6,242.1L305.6,243.6L305.0,244.1L307.2,245.3L307.0,242.7L306.3,243.2L305.3,241.7ZM319.1,242.1L320.2,243.3L319.7,243.8L321.9,244.6L321.4,242.4L320.8,242.8L319.7,241.5ZM147.9,254.7L146.1,254.8L146.0,254.1L144.0,255.4L146.2,256.4L146.2,255.6L147.9,255.5ZM253.7,259.3L255.0,260.6L254.4,261.2L256.8,261.9L256.1,259.5L255.6,260.0L254.3,258.8ZM268.1,259.0L269.6,260.3L269.0,261.0L271.7,261.5L270.6,259.0L270.1,259.7L268.6,258.4ZM282.5,259.0L284.2,260.0L283.7,260.8L286.4,260.9L285.0,258.6L284.6,259.3L282.9,258.3ZM289.8,258.7L291.4,259.8L290.9,260.5L293.7,260.8L292.4,258.4L291.9,259.1L290.2,258.0ZM140.4,269.8L139.0,270.7L138.6,270.1L137.5,272.1L139.9,271.9L139.5,271.3L140.9,270.4ZM254.1,267.0L255.2,268.4L254.5,268.9L256.8,269.9L256.4,267.4L255.8,267.9L254.7,266.5ZM268.7,266.6L269.7,268.0L269.1,268.5L271.3,269.6L271.0,267.1L270.4,267.6L269.3,266.1ZM275.7,266.8L277.0,268.0L276.5,268.6L279.0,269.1L278.1,266.7L277.6,267.4L276.2,266.2ZM297.5,266.3L298.9,267.4L298.4,268.1L300.9,268.5L299.9,266.2L299.4,266.8L298.0,265.7ZM290.1,274.5L291.8,275.5L291.3,276.3L294.1,276.4L292.7,274.1L292.2,274.8L290.5,273.8ZM247.0,282.9L248.3,284.3L247.6,284.9L250.1,285.7L249.5,283.2L248.9,283.7L247.6,282.3ZM268.4,283.0L270.2,283.9L269.7,284.7L272.5,284.7L270.9,282.4L270.5,283.2L268.8,282.3ZM283.1,282.2L284.7,283.5L284.1,284.2L286.9,284.7L285.7,282.1L285.2,282.8L283.6,281.6ZM290.6,282.1L292.0,283.3L291.4,283.9L293.9,284.4L293.0,282.1L292.5,282.7L291.1,281.5ZM305.2,282.3L306.6,283.0L306.3,283.6L308.5,283.6L307.3,281.7L307.0,282.3L305.5,281.6ZM134.6,294.1L132.6,294.4L132.5,293.5L130.3,295.1L132.9,296.1L132.8,295.2L134.7,294.9ZM239.8,292.3L241.4,292.5L241.3,293.2L243.4,292.5L241.6,291.1L241.5,291.8L239.9,291.5ZM268.9,291.0L270.4,291.8L270.1,292.4L272.3,292.3L271.1,290.4L270.7,291.0L269.3,290.3ZM276.2,291.2L277.7,291.6L277.5,292.3L279.7,291.8L278.1,290.2L277.9,290.9L276.4,290.4ZM283.3,290.2L284.9,291.3L284.3,292.0L287.0,292.4L285.9,290.0L285.3,290.7L283.8,289.5ZM290.6,290.6L292.2,291.3L291.9,291.9L294.3,291.7L292.8,289.8L292.5,290.5L290.9,289.9ZM298.2,289.7L299.4,290.9L298.9,291.5L301.2,292.1L300.5,289.8L300.0,290.4L298.8,289.2ZM305.0,289.9L306.7,290.9L306.3,291.6L309.0,291.7L307.5,289.4L307.1,290.2L305.4,289.2ZM312.3,289.6L314.0,290.6L313.5,291.4L316.2,291.6L314.9,289.2L314.4,290.0L312.8,288.9ZM183.2,303.6L183.9,301.8L184.8,302.1L184.4,299.4L182.3,301.2L183.2,301.5L182.5,303.3ZM247.3,300.5L248.9,300.3L249.0,301.0L250.9,299.6L248.8,298.8L248.9,299.5L247.2,299.7ZM177.1,311.3L177.0,309.6L177.7,309.5L176.4,307.5L175.4,309.7L176.2,309.7L176.3,311.4ZM247.9,309.0L249.3,308.1L249.7,308.7L250.8,306.7L248.5,306.8L248.9,307.4L247.5,308.3ZM294.7,306.1L293.1,306.2L293.0,305.5L291.1,306.7L293.1,307.7L293.1,307.0L294.7,306.9ZM153.0,318.4L154.8,318.2L154.9,319.0L156.9,317.6L154.6,316.7L154.7,317.4L152.9,317.6ZM177.2,319.3L177.2,317.5L178.0,317.4L176.7,315.3L175.6,317.5L176.4,317.5L176.4,319.3ZM183.4,319.2L184.3,317.5L185.1,317.9L185.0,315.2L182.8,316.7L183.6,317.1L182.7,318.8ZM247.6,316.7L249.4,316.0L249.7,316.8L251.5,314.7L248.8,314.4L249.1,315.2L247.3,315.9ZM248.4,324.8L249.7,323.8L250.1,324.3L251.1,322.3L248.9,322.6L249.3,323.2L248.0,324.1ZM280.9,322.2L278.9,322.3L278.9,321.4L276.5,322.7L279.0,324.0L278.9,323.1L281.0,323.0ZM295.3,321.8L293.4,321.9L293.4,321.1L291.2,322.4L293.5,323.5L293.5,322.7L295.3,322.6ZM322.8,323.5L322.7,321.8L323.5,321.7L322.2,319.7L321.2,321.9L321.9,321.8L322.0,323.6ZM329.8,323.7L330.0,321.7L330.9,321.8L329.8,319.2L328.3,321.5L329.2,321.6L329.0,323.6ZM139.0,334.2L140.7,334.2L140.7,334.9L142.7,333.9L140.7,332.7L140.7,333.4L139.0,333.4ZM183.7,334.9L184.7,333.2L185.4,333.6L185.6,330.9L183.2,332.3L184.0,332.8L183.0,334.4ZM281.1,330.6L279.2,330.2L279.4,329.3L276.8,330.1L278.8,331.8L279.0,330.9L280.9,331.3ZM295.6,329.9L293.7,329.8L293.7,328.9L291.3,330.0L293.6,331.4L293.6,330.6L295.5,330.7ZM302.6,330.7L301.1,329.7L301.5,329.1L299.0,328.9L300.2,331.1L300.7,330.4L302.2,331.4ZM146.3,342.3L148.2,341.9L148.4,342.8L150.5,341.1L147.9,340.3L148.1,341.1L146.1,341.5ZM178.0,342.5L177.8,340.9L178.5,340.8L177.2,339.0L176.4,341.1L177.0,341.0L177.2,342.6ZM183.8,342.7L184.9,341.0L185.6,341.5L185.9,338.8L183.5,340.1L184.2,340.6L183.1,342.2ZM273.7,338.4L272.1,338.2L272.2,337.5L270.0,338.3L271.8,339.6L271.9,338.9L273.6,339.2ZM281.0,337.7L279.2,337.9L279.1,337.2L277.1,338.6L279.5,339.5L279.3,338.7L281.1,338.5ZM288.3,338.0L286.6,337.8L286.7,337.1L284.4,338.0L286.4,339.3L286.5,338.6L288.2,338.8ZM191.6,350.1L192.4,348.6L193.0,349.0L193.0,346.7L191.1,347.9L191.7,348.3L190.9,349.7ZM198.3,349.7L199.5,348.5L200.0,349.1L200.8,346.8L198.5,347.4L199.0,348.0L197.7,349.2ZM205.1,349.2L206.7,348.4L207.0,349.1L208.4,347.0L205.9,347.0L206.3,347.7L204.7,348.5Z" fill="#81b7d7"/><path d="M108.8,58.5L110.7,60.1L110.1,60.8L113.2,61.7L111.8,58.8L111.2,59.5L109.3,57.9ZM123.7,58.5L125.4,59.8L124.8,60.5L127.6,61.0L126.4,58.4L125.9,59.1L124.2,57.9ZM198.3,55.4L198.7,57.7L197.9,57.8L199.7,60.4L200.4,57.4L199.5,57.5L199.1,55.3ZM359.6,56.2L360.8,54.4L361.6,55.0L362.0,52.0L359.4,53.5L360.2,54.0L358.9,55.7ZM366.9,56.0L368.2,54.3L368.9,54.8L369.4,51.9L366.8,53.3L367.5,53.8L366.3,55.5ZM409.9,53.7L411.9,53.2L412.1,54.1L414.2,52.2L411.5,51.6L411.7,52.5L409.7,53.0ZM248.6,63.0L250.3,64.6L249.7,65.2L252.7,66.2L251.4,63.3L250.8,64.0L249.1,62.4ZM337.0,64.4L338.8,62.9L339.4,63.5L340.8,60.6L337.7,61.6L338.3,62.2L336.5,63.8ZM102.0,74.3L103.8,75.9L103.2,76.6L106.2,77.6L104.9,74.7L104.3,75.3L102.5,73.7ZM199.3,71.0L199.2,73.3L198.3,73.2L199.5,76.0L200.9,73.4L200.0,73.3L200.1,71.1ZM352.4,71.9L353.8,70.3L354.5,70.9L355.1,68.0L352.5,69.2L353.2,69.8L351.8,71.4ZM359.5,71.5L361.1,70.1L361.7,70.8L362.7,68.1L359.9,68.9L360.5,69.5L359.0,70.9ZM366.8,71.3L368.4,70.0L369.0,70.6L370.0,68.0L367.3,68.7L367.9,69.4L366.3,70.8ZM374.5,71.5L375.8,69.8L376.5,70.3L377.1,67.4L374.4,68.8L375.2,69.3L373.9,71.1ZM381.2,70.7L383.0,69.6L383.5,70.4L384.9,67.9L382.1,68.2L382.6,68.9L380.8,70.0ZM102.8,81.8L104.0,83.7L103.2,84.2L105.8,85.7L105.4,82.7L104.7,83.2L103.5,81.4ZM124.7,81.6L126.0,83.2L125.3,83.8L127.9,85.0L127.3,82.1L126.6,82.7L125.3,81.1ZM185.0,79.1L184.8,81.4L183.9,81.3L184.9,84.3L186.4,81.6L185.6,81.5L185.8,79.2ZM352.1,79.7L353.8,78.2L354.4,78.9L355.8,76.0L352.7,76.9L353.3,77.6L351.5,79.1ZM366.3,78.7L368.4,77.8L368.7,78.6L370.8,76.4L367.7,76.3L368.1,77.1L366.0,78.0ZM373.6,78.3L375.7,77.6L375.9,78.5L378.1,76.5L375.2,76.0L375.4,76.9L373.4,77.5ZM109.6,91.1L111.7,91.7L111.5,92.5L114.4,91.9L112.1,90.0L111.9,90.9L109.8,90.4ZM343.9,86.0L346.3,86.1L346.3,87.0L349.3,85.8L346.4,84.4L346.3,85.3L343.9,85.2ZM358.7,85.9L361.0,85.8L361.1,86.7L363.8,85.3L361.0,84.1L361.0,85.0L358.7,85.1ZM373.7,86.4L375.8,85.5L376.2,86.3L378.3,84.0L375.2,83.9L375.5,84.7L373.4,85.7ZM117.1,99.0L119.3,99.3L119.1,100.2L122.0,99.4L119.6,97.7L119.4,98.5L117.3,98.2ZM344.4,93.3L346.4,93.9L346.2,94.7L349.0,94.2L346.9,92.2L346.7,93.1L344.6,92.5ZM358.9,94.1L361.2,93.7L361.4,94.5L364.1,92.7L360.9,92.0L361.1,92.9L358.7,93.3ZM366.3,93.9L368.6,93.5L368.7,94.4L371.3,92.6L368.3,91.8L368.4,92.7L366.1,93.1ZM373.8,94.2L376.0,93.3L376.3,94.2L378.5,91.9L375.4,91.7L375.7,92.6L373.5,93.4ZM380.8,93.6L383.2,93.1L383.4,94.0L386.1,92.2L382.9,91.5L383.1,92.3L380.6,92.8ZM388.3,93.1L390.5,92.9L390.6,93.8L393.2,92.3L390.4,91.2L390.5,92.1L388.2,92.3ZM395.5,93.3L397.9,92.8L398.1,93.7L400.7,91.8L397.5,91.1L397.7,92.0L395.4,92.5ZM403.1,93.6L405.3,92.6L405.7,93.5L407.8,91.1L404.6,91.1L405.0,91.9L402.8,92.8ZM213.0,103.4L214.6,104.7L214.0,105.4L216.8,106.0L215.7,103.4L215.1,104.1L213.5,102.8ZM344.9,107.8L346.6,109.3L346.0,110.0L349.0,111.0L347.8,108.1L347.2,108.8L345.5,107.2ZM352.2,107.9L354.0,109.2L353.4,109.9L356.4,110.6L355.0,107.9L354.5,108.6L352.7,107.2ZM235.4,118.3L237.0,119.8L236.3,120.5L239.1,121.4L238.2,118.6L237.5,119.2L236.0,117.7ZM371.7,116.1L369.4,116.1L369.4,115.2L366.7,116.6L369.5,117.8L369.5,116.9L371.7,116.9ZM118.6,128.8L120.0,130.4L119.3,131.0L122.0,132.1L121.3,129.3L120.6,129.9L119.2,128.3ZM309.4,131.8L310.5,133.6L309.7,134.1L312.2,135.7L312.0,132.8L311.2,133.2L310.1,131.4ZM113.9,143.7L113.3,145.8L112.4,145.6L112.9,148.6L114.9,146.3L114.1,146.1L114.7,143.9ZM121.3,143.5L120.6,145.7L119.8,145.4L120.2,148.4L122.3,146.2L121.4,145.9L122.1,143.7ZM128.6,143.3L127.9,145.5L127.1,145.2L127.5,148.3L129.6,146.0L128.7,145.7L129.4,143.6ZM225.4,141.9L223.4,143.1L222.9,142.3L221.1,144.9L224.2,144.6L223.8,143.8L225.8,142.6ZM232.6,141.6L230.7,142.9L230.1,142.2L228.5,144.9L231.6,144.3L231.1,143.6L233.0,142.2ZM302.3,139.8L303.4,141.6L302.6,142.1L305.0,143.7L304.8,140.8L304.1,141.2L303.0,139.4ZM316.3,139.8L318.0,141.4L317.4,142.1L320.4,143.1L319.2,140.2L318.5,140.8L316.8,139.2ZM295.0,147.9L296.2,149.7L295.5,150.2L298.0,151.6L297.6,148.7L296.9,149.2L295.7,147.5ZM302.3,147.6L303.5,149.5L302.8,150.0L305.4,151.6L304.9,148.6L304.2,149.1L302.9,147.2ZM317.1,147.2L318.2,149.1L317.4,149.5L319.8,151.2L319.7,148.3L318.9,148.7L317.8,146.8ZM324.5,147.0L325.5,148.9L324.7,149.3L327.0,151.1L327.0,148.2L326.2,148.6L325.2,146.6ZM225.3,157.2L223.7,158.8L223.0,158.1L221.9,161.0L224.8,160.0L224.2,159.4L225.9,157.8ZM232.9,157.4L231.1,158.6L230.6,157.8L229.0,160.4L232.0,160.0L231.5,159.3L233.3,158.1ZM302.9,155.2L303.7,157.3L302.9,157.6L305.1,159.6L305.3,156.6L304.5,157.0L303.6,154.9ZM302.7,163.0L303.9,165.1L303.1,165.6L305.7,167.5L305.3,164.3L304.6,164.7L303.4,162.7ZM317.4,162.8L318.5,164.8L317.7,165.2L320.2,167.0L320.0,164.0L319.2,164.4L318.1,162.4ZM225.6,172.9L224.0,174.5L223.4,173.8L222.3,176.7L225.2,175.7L224.6,175.0L226.2,173.4ZM310.4,170.7L311.4,172.8L310.5,173.2L312.9,175.2L312.9,172.0L312.1,172.4L311.1,170.3ZM317.0,171.4L318.7,172.8L318.1,173.5L321.0,174.2L319.8,171.5L319.2,172.2L317.5,170.8ZM218.7,180.8L216.9,182.5L216.3,181.8L215.1,184.8L218.1,183.7L217.5,183.0L219.3,181.4ZM302.9,179.1L304.2,180.9L303.5,181.4L306.2,182.9L305.6,179.9L304.9,180.4L303.6,178.6ZM109.7,199.3L107.9,200.8L107.3,200.1L105.9,202.9L108.9,202.1L108.4,201.4L110.2,199.9ZM131.7,199.2L129.8,200.3L129.4,199.5L127.7,202.0L130.7,201.7L130.2,200.9L132.1,199.8ZM109.2,207.1L108.0,208.7L107.3,208.1L106.7,210.9L109.3,209.7L108.6,209.2L109.9,207.6ZM117.2,207.2L115.4,208.5L114.9,207.7L113.4,210.3L116.4,209.9L115.9,209.1L117.7,207.9ZM110.5,215.5L108.4,216.5L108.1,215.6L106.0,218.0L109.1,218.0L108.8,217.2L110.8,216.3ZM117.3,214.8L115.6,216.3L115.0,215.6L113.7,218.4L116.7,217.6L116.1,216.9L117.9,215.5ZM131.9,214.6L130.2,215.9L129.6,215.2L128.4,217.9L131.2,217.3L130.7,216.6L132.4,215.3ZM139.5,214.8L137.6,215.8L137.2,215.0L135.4,217.3L138.3,217.3L137.9,216.5L139.9,215.5ZM146.4,214.0L144.7,215.6L144.1,215.0L143.0,217.9L145.9,216.8L145.3,216.2L146.9,214.5ZM110.5,223.0L108.6,224.3L108.1,223.6L106.4,226.3L109.5,225.7L109.0,225.0L111.0,223.6ZM117.5,222.5L115.8,224.1L115.2,223.5L114.0,226.4L117.0,225.3L116.4,224.7L118.1,223.0ZM132.5,222.5L130.5,223.8L130.0,223.0L128.2,225.6L131.4,225.2L130.9,224.5L132.9,223.2ZM139.3,222.0L137.7,223.6L137.1,223.0L136.0,225.8L138.9,224.8L138.2,224.2L139.9,222.6ZM146.7,221.9L145.0,223.4L144.4,222.7L143.1,225.5L146.1,224.7L145.5,224.0L147.3,222.6ZM282.0,218.8L283.2,220.6L282.4,221.1L285.0,222.6L284.6,219.7L283.9,220.2L282.7,218.3ZM296.7,218.5L297.8,220.3L297.0,220.7L299.5,222.1L299.2,219.3L298.5,219.8L297.3,218.1ZM325.1,218.0L327.0,219.6L326.4,220.3L329.5,221.3L328.1,218.4L327.5,219.0L325.7,217.4ZM117.8,230.8L116.1,232.0L115.6,231.2L114.2,233.8L117.0,233.4L116.5,232.6L118.2,231.4ZM139.9,230.6L138.0,231.5L137.6,230.6L136.0,232.9L138.8,233.0L138.4,232.2L140.2,231.3ZM274.6,227.0L276.1,228.7L275.4,229.3L278.2,230.5L277.4,227.5L276.7,228.1L275.2,226.4ZM289.3,226.8L290.7,228.3L290.0,229.0L292.7,229.9L291.9,227.2L291.3,227.8L289.9,226.3ZM296.6,226.3L298.0,228.1L297.3,228.7L299.9,230.0L299.3,227.1L298.6,227.6L297.2,225.9ZM318.2,226.0L319.8,227.6L319.2,228.3L322.2,229.4L321.0,226.4L320.4,227.1L318.7,225.4ZM281.9,234.6L283.6,236.3L282.9,236.9L285.8,238.2L284.8,235.2L284.1,235.8L282.5,234.0ZM311.5,233.9L312.7,235.6L312.0,236.1L314.6,237.4L314.1,234.6L313.4,235.1L312.1,233.4ZM318.1,234.4L320.1,235.6L319.6,236.4L322.7,236.7L320.9,234.1L320.5,234.9L318.5,233.7ZM111.8,247.6L109.5,247.9L109.4,247.0L106.8,248.6L109.7,249.6L109.6,248.7L111.8,248.4ZM203.0,243.8L203.6,245.9L202.7,246.1L204.7,248.3L205.2,245.4L204.3,245.7L203.8,243.6ZM245.9,243.2L247.3,245.0L246.6,245.6L249.3,247.0L248.6,244.0L247.9,244.5L246.5,242.7ZM282.9,242.1L283.7,244.0L282.9,244.4L285.2,246.2L285.3,243.3L284.5,243.7L283.6,241.8ZM134.0,255.2L131.6,255.2L131.6,254.3L128.8,255.6L131.6,256.9L131.6,256.0L134.0,256.0ZM141.3,255.0L138.9,255.0L138.9,254.1L136.0,255.5L138.9,256.7L138.9,255.8L141.3,255.8ZM197.0,251.5L196.6,253.7L195.7,253.5L196.5,256.5L198.3,254.0L197.4,253.9L197.8,251.7ZM245.4,251.8L247.5,253.0L247.1,253.8L250.3,254.2L248.4,251.6L247.9,252.3L245.8,251.1ZM246.4,259.0L247.7,260.7L246.9,261.2L249.5,262.6L249.0,259.7L248.3,260.2L247.1,258.5ZM275.4,258.3L276.8,260.0L276.1,260.6L278.8,261.9L278.1,258.9L277.4,259.5L276.1,257.8ZM304.3,257.6L305.9,259.3L305.3,259.9L308.2,261.2L307.2,258.2L306.5,258.8L304.9,257.0ZM197.2,267.1L197.0,269.4L196.1,269.3L197.1,272.3L198.7,269.6L197.8,269.5L198.0,267.2ZM246.3,267.2L247.9,268.6L247.3,269.3L250.1,270.1L249.0,267.4L248.4,268.0L246.9,266.6ZM304.7,265.3L306.1,267.1L305.4,267.7L308.2,269.2L307.5,266.1L306.7,266.6L305.3,264.8ZM311.6,265.8L313.4,267.1L312.9,267.8L315.9,268.4L314.4,265.7L313.9,266.4L312.1,265.1ZM246.4,274.7L248.0,276.4L247.4,277.0L250.4,278.3L249.3,275.2L248.6,275.9L247.0,274.1ZM297.2,274.0L299.0,275.3L298.5,276.0L301.6,276.6L300.0,273.9L299.5,274.6L297.6,273.3ZM311.7,273.5L313.6,274.9L313.1,275.6L316.1,276.3L314.6,273.6L314.1,274.3L312.2,272.9ZM120.0,286.4L117.9,286.9L117.7,286.0L115.4,287.8L118.2,288.5L118.0,287.7L120.1,287.2ZM198.2,282.7L197.5,285.0L196.6,284.7L196.9,287.9L199.1,285.5L198.2,285.3L199.0,283.0ZM218.9,282.6L219.2,284.7L218.3,284.8L219.9,287.2L220.9,284.5L220.0,284.6L219.7,282.5ZM226.1,282.1L226.4,284.5L225.5,284.6L227.2,287.4L228.1,284.2L227.2,284.4L226.9,281.9ZM232.6,282.7L233.7,284.5L232.9,285.0L235.3,286.6L235.2,283.7L234.4,284.1L233.3,282.3ZM297.0,282.4L299.3,283.2L299.0,284.1L302.2,283.8L299.8,281.6L299.5,282.5L297.2,281.7ZM120.0,293.7L118.0,294.7L117.6,293.9L115.7,296.2L118.7,296.2L118.3,295.4L120.3,294.5ZM127.6,293.7L125.3,294.5L125.0,293.7L122.7,295.9L125.9,296.1L125.6,295.3L127.9,294.4ZM273.2,306.3L271.2,306.7L271.1,305.8L268.9,307.6L271.6,308.4L271.4,307.5L273.4,307.1ZM288.0,306.5L285.9,306.4L285.9,305.5L283.3,306.7L285.8,308.1L285.8,307.2L288.0,307.3ZM169.3,320.1L169.8,317.8L170.7,318.0L170.1,314.9L168.2,317.4L169.0,317.6L168.5,319.9ZM273.6,315.1L271.6,314.7L271.8,313.8L269.0,314.5L271.2,316.3L271.4,315.4L273.4,315.9ZM281.2,314.1L278.8,314.4L278.7,313.5L275.8,315.1L279.0,316.1L278.9,315.2L281.3,314.9ZM295.5,314.1L293.3,314.1L293.3,313.2L290.7,314.5L293.3,315.8L293.3,314.9L295.5,314.9ZM152.7,326.2L154.9,326.1L155.0,327.0L157.7,325.5L154.9,324.4L154.9,325.3L152.7,325.4ZM169.9,327.9L170.1,325.6L171.0,325.7L170.0,322.7L168.4,325.4L169.3,325.5L169.1,327.8ZM177.9,327.3L177.4,325.3L178.3,325.0L176.4,322.8L175.8,325.7L176.6,325.4L177.2,327.5ZM183.7,327.7L184.5,325.3L185.4,325.6L185.2,322.4L182.9,324.8L183.8,325.1L182.9,327.4ZM288.5,322.9L286.4,322.2L286.6,321.3L283.6,321.7L285.8,323.8L286.1,323.0L288.2,323.7ZM315.2,324.5L315.4,322.1L316.3,322.2L315.4,319.1L313.7,321.9L314.6,322.0L314.4,324.4ZM145.8,334.4L147.9,334.1L148.1,335.0L150.5,333.3L147.7,332.4L147.8,333.3L145.7,333.7ZM152.9,334.4L155.2,333.9L155.4,334.8L158.0,332.9L154.8,332.3L155.0,333.1L152.7,333.7ZM177.8,335.3L177.6,333.2L178.5,333.1L176.9,330.6L175.9,333.3L176.8,333.2L177.0,335.4ZM288.5,330.0L286.4,329.9L286.4,329.0L283.8,330.3L286.4,331.6L286.4,330.7L288.5,330.8ZM171.1,343.4L170.6,341.1L171.5,340.9L169.6,338.5L168.9,341.5L169.8,341.3L170.3,343.6ZM233.5,348.2L235.6,347.7L235.8,348.6L237.9,346.7L235.2,346.0L235.4,346.9L233.4,347.4ZM255.1,347.2L257.3,347.1L257.3,348.0L259.9,346.6L257.2,345.4L257.2,346.3L255.1,346.4ZM323.5,347.4L323.3,345.3L324.2,345.2L322.5,342.8L321.6,345.5L322.5,345.4L322.7,347.5ZM330.8,347.2L330.5,345.1L331.4,345.0L329.8,342.7L328.8,345.4L329.7,345.2L330.0,347.3Z" fill="#90c3dd"/><path d="M184.3,55.2L184.1,57.9L183.2,57.9L184.3,61.1L185.8,58.0L184.9,58.0L185.1,55.3ZM240.9,55.0L242.7,56.9L242.1,57.5L245.2,58.8L244.0,55.7L243.3,56.3L241.5,54.5ZM387.0,54.5L390.1,53.7L390.3,54.6L393.1,52.5L389.6,52.1L389.9,52.9L386.8,53.7ZM394.6,53.9L397.1,53.6L397.2,54.5L400.2,52.7L396.9,51.9L397.0,52.8L394.4,53.1ZM401.9,53.8L404.5,53.4L404.6,54.3L407.6,52.5L404.2,51.7L404.3,52.6L401.7,53.0ZM101.4,66.3L103.7,68.2L103.1,68.9L106.4,70.0L104.8,66.9L104.2,67.6L101.9,65.7ZM123.5,66.3L125.6,67.6L125.1,68.4L128.4,68.9L126.5,66.2L126.0,67.0L123.9,65.6ZM358.9,64.3L361.0,62.2L361.6,62.9L363.0,59.7L359.8,61.0L360.4,61.7L358.3,63.7ZM344.4,72.5L346.5,70.4L347.1,71.1L348.4,67.9L345.3,69.2L345.9,69.9L343.9,71.9ZM409.5,69.2L412.1,68.9L412.2,69.8L415.1,68.1L411.9,67.2L412.0,68.1L409.4,68.4ZM109.4,81.6L111.4,83.6L110.8,84.3L113.9,85.6L112.6,82.4L112.0,83.1L109.9,81.0ZM116.9,81.4L118.7,83.4L118.0,84.0L121.1,85.5L119.9,82.2L119.3,82.8L117.5,80.9ZM185.8,86.6L185.0,89.3L184.1,89.0L184.5,92.5L186.6,89.7L185.8,89.5L186.5,86.8ZM350.9,86.5L353.9,86.0L354.1,86.8L357.0,85.0L353.6,84.3L353.8,85.2L350.8,85.7ZM365.9,86.0L368.4,85.6L368.5,86.5L371.4,84.7L368.1,84.0L368.3,84.8L365.7,85.2ZM380.3,85.5L383.2,85.3L383.2,86.2L386.3,84.6L383.0,83.6L383.1,84.5L380.2,84.7ZM387.9,86.5L390.8,85.0L391.2,85.8L393.4,83.2L390.0,83.5L390.4,84.3L387.6,85.8ZM101.8,99.8L104.8,99.7L104.9,100.6L108.0,99.3L104.8,98.0L104.8,98.9L101.8,99.0ZM109.5,107.1L112.2,107.4L112.1,108.3L115.4,107.3L112.4,105.7L112.3,106.6L109.6,106.3ZM116.9,106.8L119.5,107.2L119.3,108.1L122.7,107.3L119.7,105.5L119.6,106.4L117.0,106.0ZM336.9,101.0L339.2,101.9L338.9,102.7L342.2,102.5L339.8,100.3L339.5,101.1L337.1,100.3ZM342.8,117.3L340.3,116.9L340.4,116.0L337.1,116.8L340.0,118.6L340.1,117.7L342.7,118.1ZM357.5,116.8L354.9,116.5L355.0,115.6L351.7,116.6L354.7,118.2L354.8,117.3L357.4,117.6ZM111.1,128.5L112.7,130.5L112.0,131.1L115.0,132.8L114.0,129.5L113.3,130.0L111.7,128.0ZM125.9,127.8L127.3,130.2L126.6,130.6L129.3,132.7L128.8,129.3L128.0,129.8L126.6,127.4ZM113.2,135.5L113.0,138.1L112.1,138.0L113.2,141.2L114.7,138.1L113.8,138.1L114.0,135.5ZM119.3,135.8L120.2,138.1L119.4,138.4L121.8,140.7L121.8,137.4L121.0,137.8L120.0,135.5ZM126.5,135.4L127.6,138.0L126.7,138.3L129.1,140.8L129.2,137.3L128.3,137.7L127.3,135.1ZM217.7,149.1L216.1,151.1L215.4,150.6L214.5,153.8L217.4,152.2L216.7,151.6L218.3,149.6ZM225.5,149.2L223.5,150.9L222.9,150.3L221.4,153.4L224.6,152.2L224.0,151.5L226.0,149.7ZM232.8,148.9L230.7,150.8L230.1,150.2L228.6,153.3L231.9,152.1L231.3,151.4L233.4,149.5ZM218.6,157.2L216.3,159.0L215.7,158.3L214.0,161.3L217.3,160.4L216.8,159.7L219.1,157.8ZM218.8,165.0L216.4,166.9L215.9,166.2L214.2,169.2L217.5,168.2L216.9,167.5L219.3,165.6ZM226.1,165.3L224.0,166.6L223.5,165.8L221.5,168.6L224.9,168.1L224.4,167.3L226.6,166.0ZM233.0,164.7L231.2,166.4L230.6,165.8L229.2,168.8L232.3,167.7L231.7,167.0L233.6,165.3ZM219.0,173.0L216.8,174.7L216.2,173.9L214.4,176.9L217.8,176.0L217.2,175.3L219.5,173.7ZM233.5,172.5L231.3,174.3L230.7,173.7L229.2,176.7L232.4,175.6L231.8,174.9L234.0,173.1ZM226.4,180.7L224.3,182.3L223.8,181.6L222.1,184.5L225.3,183.6L224.8,182.9L226.9,181.4ZM117.6,199.2L115.1,200.7L114.7,199.9L112.6,202.7L116.0,202.1L115.5,201.3L118.0,199.8ZM124.8,198.7L122.3,200.6L121.8,199.8L120.0,202.8L123.3,201.9L122.8,201.2L125.3,199.3ZM139.0,198.3L137.0,200.1L136.4,199.4L135.0,202.6L138.2,201.3L137.6,200.6L139.5,198.8ZM124.7,206.5L122.6,208.3L122.0,207.6L120.5,210.7L123.7,209.6L123.2,208.9L125.2,207.1ZM139.9,206.5L137.2,208.0L136.8,207.2L134.6,209.9L138.0,209.5L137.6,208.7L140.2,207.2ZM125.6,222.4L123.1,224.0L122.6,223.3L120.6,226.1L124.0,225.5L123.5,224.7L126.0,223.1ZM274.4,218.6L275.9,220.7L275.1,221.3L278.0,223.1L277.3,219.8L276.5,220.3L275.0,218.2ZM288.4,218.8L290.5,220.6L290.0,221.3L293.3,222.3L291.6,219.3L291.1,220.0L288.9,218.2ZM303.5,217.8L305.1,220.2L304.4,220.7L307.3,222.6L306.5,219.2L305.8,219.7L304.1,217.3ZM310.7,217.7L312.4,220.0L311.7,220.5L314.7,222.3L313.8,218.9L313.1,219.5L311.3,217.2ZM282.3,226.1L283.4,228.3L282.5,228.7L285.0,230.9L284.9,227.6L284.1,228.0L283.1,225.7ZM303.4,226.4L305.3,228.0L304.7,228.7L307.8,229.7L306.4,226.7L305.8,227.4L303.9,225.8ZM310.6,225.8L312.6,227.9L312.0,228.5L315.2,229.9L313.8,226.7L313.2,227.3L311.2,225.3ZM331.9,227.0L334.6,227.5L334.4,228.4L337.8,227.8L334.9,225.9L334.7,226.7L332.1,226.2ZM289.1,233.9L291.0,236.3L290.3,236.8L293.2,238.5L292.3,235.2L291.6,235.8L289.7,233.4ZM296.1,233.9L298.3,236.1L297.6,236.8L300.8,238.2L299.5,235.0L298.9,235.6L296.7,233.3ZM303.7,233.7L305.4,235.8L304.7,236.4L307.8,238.0L306.8,234.7L306.1,235.3L304.3,233.2ZM119.7,247.7L116.6,247.7L116.6,246.8L113.4,248.1L116.6,249.4L116.6,248.5L119.7,248.5ZM126.8,247.7L124.1,247.6L124.2,246.7L120.9,247.8L124.0,249.3L124.1,248.4L126.8,248.5ZM134.3,247.7L131.2,247.4L131.3,246.5L128.0,247.5L131.1,249.1L131.1,248.2L134.3,248.5ZM141.6,247.2L138.5,247.2L138.5,246.3L135.3,247.6L138.5,248.9L138.5,248.0L141.6,248.0ZM216.8,243.2L218.2,245.7L217.4,246.2L220.1,248.3L219.6,244.9L218.9,245.3L217.5,242.8ZM238.2,243.2L240.0,245.2L239.3,245.8L242.4,247.3L241.2,244.1L240.6,244.7L238.8,242.7ZM325.0,242.7L327.6,243.4L327.3,244.2L330.8,243.8L328.0,241.7L327.8,242.6L325.2,241.9ZM127.1,254.7L124.0,255.4L123.8,254.5L121.0,256.5L124.4,257.0L124.2,256.2L127.3,255.4ZM217.2,250.8L218.4,253.6L217.6,254.0L220.1,256.3L219.9,252.9L219.1,253.3L217.9,250.5ZM224.3,251.0L225.6,253.3L224.8,253.8L227.6,255.9L227.1,252.5L226.3,252.9L225.0,250.6ZM231.6,250.6L233.0,253.2L232.2,253.6L234.8,255.9L234.5,252.4L233.7,252.8L232.3,250.3ZM196.8,259.0L196.7,261.6L195.8,261.6L197.1,264.7L198.4,261.6L197.5,261.6L197.6,259.0ZM224.6,258.6L225.8,261.2L225.0,261.6L227.6,263.9L227.4,260.4L226.6,260.8L225.3,258.3ZM232.0,258.2L233.2,261.1L232.4,261.5L234.8,263.9L234.7,260.4L233.9,260.8L232.7,257.9ZM238.8,258.3L240.5,261.0L239.8,261.5L242.5,263.6L242.0,260.1L241.2,260.6L239.5,257.9ZM112.4,269.8L109.8,271.5L109.3,270.7L107.3,273.5L110.7,272.9L110.2,272.1L112.9,270.4ZM134.4,270.0L132.0,270.8L131.7,270.0L129.1,272.2L132.5,272.4L132.2,271.6L134.6,270.8ZM224.8,266.3L226.1,269.1L225.3,269.5L227.8,271.9L227.6,268.4L226.8,268.8L225.5,266.0ZM232.1,266.1L233.4,269.0L232.6,269.3L235.0,271.7L234.9,268.3L234.1,268.6L232.9,265.8ZM282.1,266.6L284.3,267.8L283.9,268.6L287.1,269.0L285.1,266.3L284.7,267.1L282.5,265.9ZM289.9,265.4L291.5,267.5L290.8,268.0L293.8,269.7L292.9,266.4L292.2,267.0L290.5,264.9ZM134.9,277.7L131.9,278.7L131.6,277.9L129.1,280.2L132.5,280.3L132.2,279.5L135.1,278.4ZM197.4,274.4L197.2,277.4L196.3,277.4L197.3,280.7L198.9,277.6L198.0,277.5L198.2,274.5ZM225.5,274.1L226.2,276.7L225.3,276.9L227.4,279.7L227.9,276.2L227.0,276.5L226.3,273.9ZM232.3,274.3L233.5,276.6L232.7,277.0L235.2,279.3L235.0,275.8L234.2,276.2L233.0,273.9ZM282.8,273.6L284.4,275.5L283.8,276.1L286.8,277.5L285.7,274.4L285.0,275.0L283.4,273.1ZM113.0,285.8L110.4,287.1L110.0,286.3L107.7,288.8L111.1,288.6L110.7,287.8L113.4,286.6ZM127.7,286.2L125.2,286.7L125.0,285.8L122.2,287.7L125.5,288.4L125.3,287.5L127.8,287.0ZM134.8,285.6L132.4,286.5L132.1,285.6L129.6,288.0L133.0,288.1L132.7,287.2L135.1,286.3ZM239.7,281.8L241.0,284.4L240.2,284.8L242.8,287.0L242.5,283.6L241.7,284.0L240.4,281.5ZM113.2,294.1L110.8,294.9L110.5,294.0L108.0,296.2L111.3,296.5L111.0,295.6L113.5,294.9ZM169.5,312.5L169.7,309.9L170.6,310.0L169.4,306.8L168.0,309.8L168.9,309.9L168.7,312.4ZM183.0,311.9L184.1,309.7L184.9,310.1L185.0,306.8L182.5,308.9L183.3,309.3L182.3,311.6ZM281.2,306.8L278.7,306.6L278.7,305.7L275.6,306.8L278.5,308.3L278.6,307.4L281.1,307.6ZM144.7,318.1L147.4,318.4L147.3,319.2L150.7,318.3L147.6,316.7L147.5,317.6L144.8,317.3ZM288.6,314.2L286.1,314.2L286.0,313.3L283.0,314.8L286.1,315.9L286.1,315.0L288.6,315.0ZM145.1,325.9L147.6,326.2L147.5,327.1L150.7,326.1L147.8,324.5L147.7,325.4L145.2,325.1ZM274.3,322.6L271.8,322.5L271.8,321.6L268.6,322.7L271.7,324.2L271.7,323.3L274.3,323.4ZM274.4,330.7L272.0,330.3L272.1,329.4L268.9,330.3L271.7,332.0L271.9,331.1L274.3,331.5ZM308.2,332.8L308.4,330.1L309.2,330.1L308.1,326.8L306.7,330.0L307.6,330.0L307.4,332.7ZM330.1,332.1L330.2,329.6L331.1,329.6L329.8,326.4L328.5,329.6L329.4,329.6L329.3,332.1ZM309.0,340.3L308.6,337.9L309.5,337.7L307.7,334.9L306.9,338.1L307.8,338.0L308.2,340.5ZM330.7,339.8L330.4,337.3L331.3,337.2L329.5,334.4L328.7,337.6L329.6,337.5L329.9,340.0ZM225.8,348.7L228.3,347.9L228.6,348.7L231.2,346.5L227.7,346.3L228.0,347.1L225.6,348.0ZM316.1,348.1L316.0,345.6L316.9,345.5L315.4,342.5L314.3,345.7L315.2,345.6L315.3,348.2Z" fill="#9dcee3"/><path d="M115.5,57.5L118.5,60.4L117.9,61.1L121.1,62.3L119.7,59.2L119.1,59.8L116.1,56.9ZM191.7,54.8L191.4,58.0L190.6,58.0L191.6,61.3L193.1,58.2L192.2,58.1L192.5,54.8ZM218.7,55.2L220.9,57.6L220.3,58.2L223.4,59.7L222.2,56.5L221.5,57.1L219.3,54.7ZM184.4,62.4L184.3,66.5L183.4,66.4L184.6,69.7L186.0,66.5L185.1,66.5L185.2,62.4ZM343.8,64.7L346.5,62.4L347.1,63.1L348.7,60.0L345.4,61.1L346.0,61.8L343.3,64.0ZM408.9,61.7L412.5,61.0L412.6,61.8L415.5,59.9L412.1,59.3L412.3,60.2L408.7,60.9ZM123.5,73.5L126.0,75.6L125.4,76.3L128.7,77.4L127.1,74.3L126.5,75.0L124.1,72.9ZM192.0,70.0L191.8,74.2L190.9,74.1L192.1,77.4L193.5,74.2L192.6,74.2L192.8,70.0ZM387.2,70.8L390.8,69.2L391.2,70.0L393.6,67.5L390.1,67.6L390.5,68.5L386.8,70.1ZM401.7,70.1L405.5,68.9L405.8,69.7L408.4,67.5L405.0,67.3L405.2,68.1L401.4,69.4ZM109.1,100.0L112.4,99.5L112.5,100.4L115.5,98.7L112.1,97.9L112.3,98.8L109.0,99.2ZM350.8,93.2L354.1,93.8L354.0,94.7L357.3,94.0L354.4,92.1L354.3,93.0L350.9,92.4ZM343.5,100.4L347.1,101.9L346.7,102.7L350.2,102.8L347.7,100.3L347.4,101.2L343.8,99.6ZM351.0,100.1L354.3,101.7L353.9,102.5L357.3,102.7L355.0,100.1L354.6,101.0L351.3,99.4ZM350.4,116.1L347.1,116.7L347.0,115.8L344.0,117.6L347.4,118.4L347.3,117.5L350.5,116.9ZM365.5,116.8L361.5,116.3L361.7,115.4L358.3,116.2L361.3,118.0L361.4,117.1L365.4,117.6ZM109.0,159.4L106.3,161.9L105.7,161.3L104.2,164.4L107.5,163.2L106.8,162.5L109.6,160.0ZM117.0,159.6L113.5,161.8L113.0,161.0L111.0,163.8L114.4,163.2L113.9,162.5L117.4,160.3ZM138.6,159.2L135.7,161.1L135.2,160.3L133.2,163.1L136.6,162.5L136.1,161.8L139.0,159.9ZM146.2,159.0L142.8,161.0L142.3,160.2L140.2,163.0L143.6,162.5L143.2,161.7L146.6,159.7ZM146.7,189.8L143.6,192.6L143.0,191.9L141.4,194.9L144.7,193.8L144.1,193.2L147.3,190.4ZM132.8,206.9L129.8,208.2L129.5,207.4L127.1,209.9L130.5,209.8L130.2,208.9L133.1,207.6ZM125.8,214.7L122.6,216.3L122.2,215.5L119.9,218.1L123.3,217.8L123.0,217.0L126.2,215.4ZM210.0,242.8L211.0,246.0L210.1,246.3L212.3,249.0L212.6,245.5L211.7,245.8L210.8,242.6ZM224.0,242.5L225.7,245.9L224.9,246.3L227.4,248.6L227.2,245.2L226.4,245.6L224.7,242.2ZM230.9,242.7L233.0,245.8L232.3,246.3L235.1,248.2L234.4,244.8L233.7,245.3L231.6,242.2ZM120.1,255.1L116.5,255.6L116.4,254.7L113.4,256.4L116.7,257.3L116.6,256.4L120.2,255.9ZM203.8,250.4L203.8,254.1L202.9,254.1L204.3,257.3L205.5,254.1L204.6,254.1L204.6,250.4ZM238.0,250.4L240.7,253.6L240.0,254.2L243.0,255.8L242.0,252.5L241.3,253.1L238.6,249.9ZM218.0,257.8L218.7,261.9L217.8,262.0L219.6,265.0L220.4,261.6L219.5,261.8L218.8,257.6ZM120.4,277.4L116.9,279.3L116.5,278.5L114.3,281.3L117.8,280.8L117.3,280.0L120.8,278.1ZM128.0,277.7L124.3,279.0L124.0,278.2L121.4,280.5L124.9,280.6L124.6,279.8L128.2,278.5ZM218.9,273.5L219.0,277.3L218.1,277.3L219.5,280.5L220.7,277.3L219.8,277.3L219.7,273.5ZM238.6,273.9L241.2,277.1L240.5,277.7L243.6,279.3L242.5,276.0L241.8,276.6L239.2,273.4ZM205.2,282.0L204.6,285.2L203.8,285.0L204.5,288.4L206.3,285.5L205.4,285.3L206.0,282.1ZM212.1,281.4L211.9,285.4L211.0,285.4L212.1,288.6L213.6,285.5L212.7,285.5L212.9,281.5ZM225.6,303.2L227.6,300.6L228.3,301.1L229.3,297.8L226.3,299.5L227.0,300.1L224.9,302.7ZM239.0,302.2L242.3,300.2L242.8,300.9L244.9,298.1L241.5,298.7L241.9,299.5L238.5,301.6ZM170.6,336.5L170.3,332.9L171.2,332.9L169.7,329.8L168.6,333.1L169.5,333.0L169.8,336.5ZM315.4,332.9L315.6,329.6L316.5,329.7L315.4,326.4L313.9,329.5L314.8,329.6L314.6,332.8ZM322.8,333.2L322.9,329.0L323.8,329.0L322.5,325.8L321.2,328.9L322.1,329.0L322.0,333.1ZM254.2,340.1L257.5,339.2L257.7,340.1L260.5,338.0L257.0,337.6L257.3,338.5L254.0,339.3ZM315.6,341.1L315.8,337.1L316.7,337.1L315.6,333.9L314.1,337.0L315.0,337.0L314.8,341.1ZM246.7,347.5L250.6,347.3L250.6,348.2L253.7,346.6L250.5,345.6L250.5,346.5L246.7,346.7Z" fill="#aad8e9"/><path d="M225.9,54.4L228.6,57.9L227.9,58.4L230.9,60.2L230.0,56.9L229.2,57.4L226.5,53.9ZM232.9,54.7L236.0,57.6L235.4,58.3L238.6,59.5L237.1,56.4L236.5,57.0L233.4,54.2ZM108.1,65.5L111.6,68.6L111.0,69.3L114.3,70.4L112.8,67.3L112.2,68.0L108.7,64.9ZM115.3,65.5L119.1,68.4L118.5,69.1L121.8,70.1L120.1,67.1L119.6,67.8L115.8,64.8ZM191.1,62.2L191.7,66.5L190.9,66.7L192.6,69.6L193.4,66.3L192.5,66.4L191.9,62.0ZM199.1,62.0L199.0,66.2L198.1,66.2L199.3,69.4L200.7,66.3L199.8,66.2L199.9,62.0ZM386.6,62.4L390.7,61.4L391.0,62.3L393.8,60.3L390.4,59.8L390.6,60.6L386.4,61.6ZM393.7,62.0L398.3,61.3L398.4,62.1L401.4,60.4L398.0,59.6L398.1,60.5L393.5,61.2ZM400.9,62.0L405.8,61.0L406.0,61.9L408.8,60.0L405.5,59.3L405.6,60.2L400.7,61.2ZM184.2,70.2L184.6,74.5L183.7,74.5L185.2,77.6L186.3,74.3L185.4,74.4L185.0,70.1ZM393.8,70.3L398.6,69.0L398.8,69.8L401.5,67.7L398.1,67.3L398.3,68.2L393.6,69.5ZM409.9,102.8L413.8,99.5L414.4,100.2L416.0,97.2L412.7,98.2L413.3,98.9L409.4,102.1ZM146.5,166.3L142.6,169.2L142.1,168.5L140.3,171.4L143.6,170.6L143.1,169.8L147.0,166.9ZM110.3,190.6L106.9,193.5L106.3,192.9L104.8,195.9L108.0,194.8L107.5,194.1L110.8,191.2ZM132.4,189.8L128.6,193.2L128.0,192.6L126.5,195.7L129.8,194.5L129.2,193.8L132.9,190.4ZM323.5,226.3L328.4,228.1L328.1,228.9L331.5,228.8L329.0,226.5L328.7,227.3L323.8,225.5ZM210.2,249.9L211.3,254.5L210.4,254.8L212.5,257.5L213.0,254.1L212.1,254.3L210.9,249.7ZM211.3,257.6L211.3,262.3L210.4,262.3L211.7,265.5L213.0,262.3L212.1,262.3L212.1,257.6ZM120.1,269.1L116.5,271.7L116.0,270.9L114.1,273.8L117.5,273.1L117.0,272.3L120.6,269.8ZM127.9,269.5L123.8,271.4L123.4,270.5L121.0,273.0L124.5,272.9L124.1,272.1L128.2,270.3ZM218.4,265.1L218.9,270.1L218.0,270.2L219.6,273.3L220.6,270.0L219.7,270.0L219.2,265.1ZM238.3,266.0L241.1,269.4L240.5,270.0L243.5,271.5L242.4,268.3L241.7,268.9L238.9,265.5ZM113.6,277.4L109.2,279.7L108.8,278.9L106.6,281.5L110.0,281.2L109.6,280.4L114.0,278.1ZM203.6,304.2L206.1,300.7L206.8,301.2L207.6,297.8L204.7,299.7L205.4,300.2L202.9,303.7ZM210.4,304.2L213.6,300.2L214.3,300.8L215.4,297.5L212.3,299.1L213.0,299.7L209.8,303.7ZM218.1,303.9L220.7,300.2L221.4,300.8L222.2,297.4L219.3,299.3L220.0,299.8L217.4,303.5ZM231.6,302.8L235.3,300.1L235.8,300.9L237.7,298.0L234.3,298.8L234.8,299.5L231.2,302.1ZM189.8,344.0L192.8,339.9L193.5,340.4L194.4,337.1L191.5,338.9L192.2,339.4L189.1,343.6ZM196.9,343.4L199.9,340.1L200.6,340.6L201.7,337.4L198.6,338.9L199.3,339.5L196.3,342.9ZM211.2,342.9L214.5,339.8L215.1,340.4L216.5,337.3L213.3,338.5L213.9,339.2L210.6,342.3ZM323.1,341.0L323.1,336.8L324.0,336.8L322.6,333.6L321.4,336.8L322.3,336.8L322.3,341.0Z" fill="#b9e0ed"/><path d="M108.3,72.9L112.0,76.7L111.4,77.3L114.6,78.6L113.2,75.5L112.6,76.1L108.8,72.3ZM115.4,72.5L119.6,76.7L119.0,77.4L122.2,78.7L120.8,75.5L120.2,76.1L115.9,72.0ZM218.2,70.1L222.2,74.2L221.6,74.9L224.8,76.3L223.4,73.1L222.8,73.7L218.7,69.5ZM225.2,70.1L229.7,74.1L229.1,74.7L232.3,75.9L230.8,72.8L230.2,73.5L225.8,69.5ZM124.6,159.0L120.3,162.0L119.8,161.2L117.9,164.1L121.3,163.4L120.8,162.6L125.1,159.6ZM132.0,158.4L127.4,162.1L126.8,161.3L125.1,164.4L128.5,163.4L127.9,162.7L132.5,159.0ZM146.8,181.5L142.9,185.1L142.3,184.5L140.8,187.6L144.1,186.4L143.5,185.7L147.4,182.1ZM139.9,189.5L135.7,193.2L135.1,192.6L133.6,195.7L136.9,194.5L136.3,193.8L140.4,190.1ZM323.6,233.7L328.8,236.1L328.4,236.9L331.8,237.1L329.5,234.6L329.1,235.4L323.9,232.9ZM203.9,257.3L204.1,262.9L203.2,262.9L204.5,266.1L205.8,262.9L204.9,262.9L204.7,257.3ZM204.0,265.1L204.3,270.8L203.4,270.8L204.9,274.0L206.0,270.7L205.1,270.7L204.8,265.1ZM204.8,272.8L204.3,278.7L203.4,278.6L204.5,281.9L206.0,278.8L205.1,278.7L205.6,272.9ZM211.6,272.9L211.7,278.3L210.8,278.3L212.2,281.5L213.4,278.3L212.5,278.3L212.4,272.9ZM189.8,305.5L191.7,300.3L192.5,300.6L192.3,297.1L190.1,299.7L190.9,300.0L189.1,305.3ZM196.7,305.3L199.0,300.1L199.8,300.5L200.0,297.0L197.5,299.4L198.3,299.8L196.0,304.9ZM204.1,343.6L207.4,339.6L208.1,340.1L209.1,336.8L206.1,338.5L206.8,339.1L203.5,343.1Z" fill="#c5e6f0"/><path d="M218.1,61.9L222.0,66.5L221.4,67.1L224.4,68.7L223.3,65.4L222.7,66.0L218.7,61.4ZM232.7,69.3L237.1,74.2L236.4,74.8L239.6,76.3L238.4,73.0L237.7,73.6L233.3,68.8ZM239.9,69.2L244.5,74.0L243.9,74.6L247.0,76.0L245.7,72.8L245.1,73.4L240.4,68.7ZM139.7,165.5L134.6,170.1L134.0,169.5L132.5,172.6L135.8,171.4L135.2,170.7L140.2,166.1ZM110.6,174.1L105.6,178.6L105.0,178.0L103.5,181.1L106.8,179.9L106.2,179.2L111.2,174.7ZM147.2,173.1L142.2,177.8L141.5,177.1L140.1,180.3L143.3,179.0L142.7,178.4L147.7,173.7ZM110.7,182.1L106.0,186.3L105.4,185.7L103.9,188.8L107.2,187.6L106.6,186.9L111.2,182.7ZM118.6,190.2L113.5,193.8L113.0,193.0L111.2,196.0L114.5,195.2L114.0,194.4L119.0,190.8ZM125.6,189.4L120.7,193.9L120.1,193.3L118.7,196.4L121.9,195.2L121.3,194.5L126.2,190.0ZM211.5,264.6L211.5,271.0L210.6,271.0L212.0,274.2L213.2,270.9L212.3,271.0L212.3,264.6ZM217.0,342.8L222.7,339.1L223.2,339.9L225.2,337.0L221.8,337.7L222.3,338.4L216.6,342.1ZM238.4,348.5L244.6,347.1L244.8,348.0L247.6,346.0L244.2,345.4L244.4,346.3L238.2,347.7Z" fill="#d4edf4"/><path d="M224.8,61.3L229.9,66.9L229.2,67.5L232.3,69.0L231.2,65.7L230.5,66.3L225.4,60.8ZM231.7,61.8L237.4,66.5L236.9,67.2L240.2,68.2L238.5,65.1L237.9,65.8L232.2,61.2ZM239.5,60.8L244.6,66.6L244.0,67.2L247.1,68.8L245.9,65.5L245.2,66.1L240.1,60.3ZM132.7,165.4L126.9,170.6L126.3,169.9L124.8,173.0L128.1,171.9L127.5,171.2L133.3,166.0ZM140.2,173.2L134.6,178.2L134.0,177.5L132.5,180.6L135.7,179.4L135.1,178.8L140.7,173.8ZM189.5,314.3L192.3,307.1L193.1,307.5L193.0,304.0L190.7,306.5L191.5,306.9L188.8,314.0ZM210.2,313.4L214.5,306.8L215.3,307.3L215.9,303.9L213.1,305.9L213.8,306.4L209.6,313.0ZM237.9,311.6L244.1,306.7L244.6,307.4L246.4,304.4L243.0,305.4L243.6,306.1L237.4,311.0ZM210.0,320.8L214.8,315.0L215.5,315.6L216.5,312.3L213.5,313.9L214.2,314.5L209.4,320.2ZM237.9,318.9L244.2,314.9L244.7,315.7L246.7,312.8L243.3,313.5L243.8,314.2L237.5,318.2ZM189.0,329.6L193.0,323.0L193.8,323.5L194.4,320.1L191.6,322.1L192.4,322.6L188.3,329.2ZM196.2,329.5L200.3,322.8L201.1,323.3L201.7,319.9L198.9,321.9L199.7,322.4L195.5,329.1ZM189.6,337.4L193.0,331.1L193.8,331.5L194.2,328.1L191.5,330.2L192.3,330.7L188.9,337.0ZM195.9,337.0L200.7,330.9L201.4,331.5L202.4,328.1L199.4,329.8L200.1,330.4L195.3,336.5ZM202.8,336.5L208.1,330.9L208.7,331.5L210.0,328.3L206.8,329.8L207.5,330.4L202.2,335.9ZM209.3,335.6L215.6,331.1L216.1,331.8L217.9,328.9L214.6,329.7L215.1,330.4L208.9,335.0ZM216.6,335.6L222.9,330.8L223.4,331.5L225.2,328.5L221.8,329.4L222.4,330.2L216.1,335.0ZM230.6,342.0L237.8,338.8L238.2,339.6L240.6,337.2L237.1,337.3L237.5,338.1L230.3,341.3Z" fill="#e0f3f8"/><path d="M111.2,166.1L104.8,171.1L104.2,170.4L102.5,173.3L105.8,172.4L105.3,171.7L111.7,166.8ZM126.1,173.5L119.6,178.7L119.0,178.0L117.4,181.0L120.7,180.0L120.1,179.3L126.6,174.1ZM133.4,173.4L126.9,178.4L126.4,177.7L124.6,180.7L128.0,179.8L127.4,179.0L133.9,174.0ZM119.2,181.3L112.3,186.9L111.8,186.2L110.1,189.2L113.4,188.2L112.8,187.5L119.7,181.9ZM126.2,181.0L119.8,186.7L119.2,186.0L117.7,189.2L120.9,188.0L120.3,187.3L126.7,181.6ZM134.2,181.4L126.7,186.3L126.2,185.5L124.3,188.4L127.7,187.7L127.2,187.0L134.7,182.0ZM141.4,181.5L134.2,185.9L133.7,185.2L131.7,187.9L135.1,187.4L134.6,186.6L141.9,182.1ZM195.6,314.2L200.2,306.8L200.9,307.3L201.5,303.9L198.7,305.9L199.5,306.4L194.9,313.8ZM202.9,313.7L207.3,306.9L208.1,307.3L208.7,304.0L205.9,305.9L206.7,306.4L202.2,313.3ZM216.6,313.0L222.3,306.7L222.9,307.3L224.1,304.0L221.0,305.5L221.7,306.1L216.0,312.5ZM223.8,312.7L229.5,306.6L230.2,307.2L231.4,304.0L228.3,305.5L228.9,306.1L223.2,312.1ZM230.9,312.3L236.8,306.6L237.4,307.3L238.9,304.1L235.6,305.4L236.3,306.0L230.3,311.7ZM189.0,322.4L192.9,314.7L193.7,315.1L194.0,311.6L191.4,313.9L192.2,314.3L188.3,322.0ZM202.6,321.3L207.7,314.8L208.4,315.4L209.4,312.1L206.4,313.8L207.1,314.3L202.0,320.8ZM216.7,320.5L222.4,314.8L223.0,315.4L224.4,312.2L221.2,313.6L221.8,314.2L216.1,319.9ZM203.1,329.2L207.8,322.7L208.5,323.2L209.3,319.8L206.4,321.7L207.1,322.2L202.5,328.8ZM209.4,328.7L215.6,322.6L216.2,323.2L217.5,320.0L214.4,321.4L215.0,322.0L208.8,328.2ZM216.1,328.2L223.1,322.5L223.7,323.2L225.3,320.2L222.0,321.2L222.6,321.9L215.6,327.6ZM237.6,327.2L244.9,322.3L245.4,323.1L247.4,320.3L244.0,320.9L244.5,321.7L237.2,326.5ZM237.7,334.3L244.9,330.6L245.3,331.4L247.6,328.8L244.2,329.1L244.6,329.9L237.4,333.6ZM223.4,342.9L230.7,338.6L231.2,339.3L233.3,336.6L229.8,337.1L230.3,337.9L223.0,342.2Z" fill="#e7f6eb"/><path d="M408.1,88.8L415.3,82.2L415.9,82.9L417.4,79.8L414.1,81.0L414.7,81.7L407.5,88.2ZM118.8,165.5L111.8,171.2L111.2,170.6L109.6,173.6L112.9,172.6L112.3,171.9L119.3,166.2ZM126.2,165.2L118.9,171.2L118.4,170.5L116.7,173.6L120.0,172.5L119.4,171.8L126.8,165.8ZM119.2,173.2L111.8,179.3L111.2,178.6L109.6,181.6L112.9,180.6L112.3,179.9L119.7,173.8ZM195.7,322.6L200.5,314.1L201.3,314.6L201.8,311.1L199.0,313.3L199.8,313.7L195.1,322.2ZM223.5,321.1L230.2,313.9L230.9,314.5L232.1,311.3L229.0,312.7L229.6,313.4L222.9,320.5ZM223.5,328.3L230.3,322.2L230.9,322.9L232.4,319.8L229.2,320.9L229.8,321.6L223.0,327.7ZM229.8,335.0L238.4,330.3L238.8,331.1L241.0,328.4L237.5,328.8L238.0,329.6L229.5,334.3ZM244.0,341.3L253.2,338.5L253.5,339.3L256.2,337.1L252.7,336.8L253.0,337.7L243.8,340.6Z" fill="#f0f9db"/><path d="M407.1,96.3L416.1,90.1L416.6,90.9L418.5,88.0L415.2,88.7L415.7,89.5L406.7,95.7ZM229.6,320.5L238.2,313.9L238.7,314.6L240.5,311.6L237.1,312.5L237.7,313.2L229.1,319.9ZM222.9,335.8L231.1,330.1L231.6,330.8L233.5,327.9L230.1,328.7L230.6,329.5L222.4,335.2Z" fill="#f7fcce"/><path d="M229.6,328.2L238.5,321.8L239.0,322.5L240.9,319.6L237.5,320.4L238.0,321.1L229.1,327.6Z" fill="#fffebe"/><path d="M235.1,341.8L247.6,338.3L247.8,339.1L250.5,337.0L247.1,336.6L247.3,337.5L234.9,341.1Z" fill="#fff0a8"/><path d="M414.1,154.3L402.4,131.9L403.3,131.4L400.6,129.2L400.8,132.7L401.7,132.2L413.5,154.7Z" fill="#b2182b"/><path d="M414.1,162.9L407.2,145.6L408.1,145.2L405.6,142.8L405.5,146.3L406.5,145.9L413.5,163.1Z" fill="#d73027"/><path d="M412.8,165.8L407.7,155.2L408.6,154.8L406.0,152.5L406.1,156.0L407.1,155.5L412.2,166.2Z" fill="#f46d43"/><path d="M414.4,178.4L413.0,174.9L414.0,174.5L411.5,172.0L411.3,175.5L412.3,175.1L413.6,178.6Z" fill="#ffffe0"/><path d="M414.5,185.8L412.9,182.2L413.8,181.8L411.2,179.5L411.3,183.0L412.2,182.6L413.9,186.2Z" fill="#cfe9f2"/><path d="M416.8,175.8L413.8,169.7L414.7,169.2L412.0,167.0L412.2,170.5L413.1,170.0L416.2,176.2Z" fill="#fdae61"/></g><rect x="100.5" y="49.5" width="321.0" height="306.0" fill="none" stroke="#000" stroke-width="1.1"/><g filter="url(#gs)"><text x="260.9" y="19.8" font-size="17.5" text-anchor="middle" textLength="191.5" lengthAdjust="spacingAndGlyphs" fill="#000" stroke="#000" stroke-width="0.22">2026-03-19T06:00:00Z</text><path d="M247.6,2.3H256M337.6,2.3H346" stroke="#000" stroke-width="1.2"/><text x="101.5" y="38.7" font-size="14.6" text-anchor="middle" textLength="54.4" lengthAdjust="spacingAndGlyphs" fill="#000" stroke="#000" stroke-width="0.22">112.5°E</text><text x="193.8" y="38.7" font-size="14.6" text-anchor="middle" textLength="41.2" lengthAdjust="spacingAndGlyphs" fill="#000" stroke="#000" stroke-width="0.22">113°E</text><text x="285.1" y="38.7" font-size="14.6" text-anchor="middle" textLength="54.4" lengthAdjust="spacingAndGlyphs" fill="#000" stroke="#000" stroke-width="0.22">113.5°E</text><text x="376.9" y="38.7" font-size="14.6" text-anchor="middle" textLength="41.2" lengthAdjust="spacingAndGlyphs" fill="#000" stroke="#000" stroke-width="0.22">114°E</text><text x="111.6" y="372.5" font-size="14.6" text-anchor="middle" textLength="54.4" lengthAdjust="spacingAndGlyphs" fill="#000" stroke="#000" stroke-width="0.22">112.5°E</text><text x="201.9" y="372.5" font-size="14.6" text-anchor="middle" textLength="41.2" lengthAdjust="spacingAndGlyphs" fill="#000" stroke="#000" stroke-width="0.22">113°E</text><text x="292.1" y="372.5" font-size="14.6" text-anchor="middle" textLength="54.4" lengthAdjust="spacingAndGlyphs" fill="#000" stroke="#000" stroke-width="0.22">113.5°E</text><text x="382.8" y="372.5" font-size="14.6" text-anchor="middle" textLength="41.2" lengthAdjust="spacingAndGlyphs" fill="#000" stroke="#000" stroke-width="0.22">114°E</text><text x="92.7" y="81.8" font-size="14.6" text-anchor="end" textLength="46.4" lengthAdjust="spacingAndGlyphs" fill="#000" stroke="#000" stroke-width="0.22">21.6°S</text><text x="92.7" y="121" font-size="14.6" text-anchor="end" textLength="46.4" lengthAdjust="spacingAndGlyphs" fill="#000" stroke="#000" stroke-width="0.22">21.8°S</text><text x="92.7" y="161" font-size="14.6" text-anchor="end" textLength="33.0" lengthAdjust="spacingAndGlyphs" fill="#000" stroke="#000" stroke-width="0.22">22°S</text><text x="92.7" y="199.8" font-size="14.6" text-anchor="end" textLength="46.2" lengthAdjust="spacingAndGlyphs" fill="#000" stroke="#000" stroke-width="0.22">22.2°S</text><text x="92.7" y="239" font-size="14.6" text-anchor="end" textLength="46.2" lengthAdjust="spacingAndGlyphs" fill="#000" stroke="#000" stroke-width="0.22">22.4°S</text><text x="92.7" y="279" font-size="14.6" text-anchor="end" textLength="46.3" lengthAdjust="spacingAndGlyphs" fill="#000" stroke="#000" stroke-width="0.22">22.6°S</text><text x="92.7" y="318.2" font-size="14.6" text-anchor="end" textLength="46.3" lengthAdjust="spacingAndGlyphs" fill="#000" stroke="#000" stroke-width="0.22">22.8°S</text><text x="92.7" y="357" font-size="14.6" text-anchor="end" textLength="33.0" lengthAdjust="spacingAndGlyphs" fill="#000" stroke="#000" stroke-width="0.22">23°S</text><rect x="441.4" y="125.3" width="8.4" height="154" fill="url(#cb)" stroke="#000" stroke-width="1.1"/><text x="459.5" y="284.4" font-size="14.6" text-anchor="start" textLength="21.2" lengthAdjust="spacingAndGlyphs" fill="#000" stroke="#000" stroke-width="0.22">0.0</text><text x="459.5" y="253.6" font-size="14.6" text-anchor="start" textLength="21.2" lengthAdjust="spacingAndGlyphs" fill="#000" stroke="#000" stroke-width="0.22">0.2</text><text x="459.5" y="222.8" font-size="14.6" text-anchor="start" textLength="21.2" lengthAdjust="spacingAndGlyphs" fill="#000" stroke="#000" stroke-width="0.22">0.4</text><text x="459.5" y="192.0" font-size="14.6" text-anchor="start" textLength="21.2" lengthAdjust="spacingAndGlyphs" fill="#000" stroke="#000" stroke-width="0.22">0.6</text><text x="459.5" y="161.2" font-size="14.6" text-anchor="start" textLength="21.2" lengthAdjust="spacingAndGlyphs" fill="#000" stroke="#000" stroke-width="0.22">0.8</text><text x="459.5" y="130.4" font-size="14.6" text-anchor="start" textLength="21.2" lengthAdjust="spacingAndGlyphs" fill="#000" stroke="#000" stroke-width="0.22">1.0</text><path d="M450,279.3H455M450,248.5H455M450,217.7H455M450,186.9H455M450,156.1H455M450,125.3H455" stroke="#000" stroke-width="1.1"/><text x="547.0" y="33" font-size="14.6" text-anchor="start" textLength="101.10000000000001" lengthAdjust="spacingAndGlyphs" fill="#000" stroke="#000" stroke-width="0.22">Iterations: 200</text><text x="547.0" y="65.0" font-size="14.6" text-anchor="start" textLength="184.2" lengthAdjust="spacingAndGlyphs" fill="#000" stroke="#000" stroke-width="0.22">nll: -11366.062798732177</text><text x="547.0" y="98" font-size="14.6" text-anchor="start" textLength="90.60000000000001" lengthAdjust="spacingAndGlyphs" fill="#000" stroke="#000" stroke-width="0.22">σ = 8.79e-07</text><text x="547.0" y="130.4" font-size="14.6" text-anchor="start" textLength="127.8" lengthAdjust="spacingAndGlyphs" fill="#000" stroke="#000" stroke-width="0.22">,η_uv1 = 2.78e-01</text><text x="547.0" y="163" font-size="14.6" text-anchor="start" textLength="123.2" lengthAdjust="spacingAndGlyphs" fill="#000" stroke="#000" stroke-width="0.22">η_uv2 = 3.31e-02</text><text x="547.0" y="195.4" font-size="14.6" text-anchor="start" textLength="124.3" lengthAdjust="spacingAndGlyphs" fill="#000" stroke="#000" stroke-width="0.22">ℓ_uv1 = 20050.20</text><text x="547.0" y="228" font-size="14.6" text-anchor="start" textLength="115.9" lengthAdjust="spacingAndGlyphs" fill="#000" stroke="#000" stroke-width="0.22">ℓ_uv2 = 9192.38</text><text x="547.0" y="260.3" font-size="14.6" text-anchor="start" textLength="106.5" lengthAdjust="spacingAndGlyphs" fill="#000" stroke="#000" stroke-width="0.22">η_q = 2.88e-05</text><text x="547.0" y="292.8" font-size="14.6" text-anchor="start" textLength="107.5" lengthAdjust="spacingAndGlyphs" fill="#000" stroke="#000" stroke-width="0.22">ℓ_q = 42477.64</text></g></svg></body></html>
